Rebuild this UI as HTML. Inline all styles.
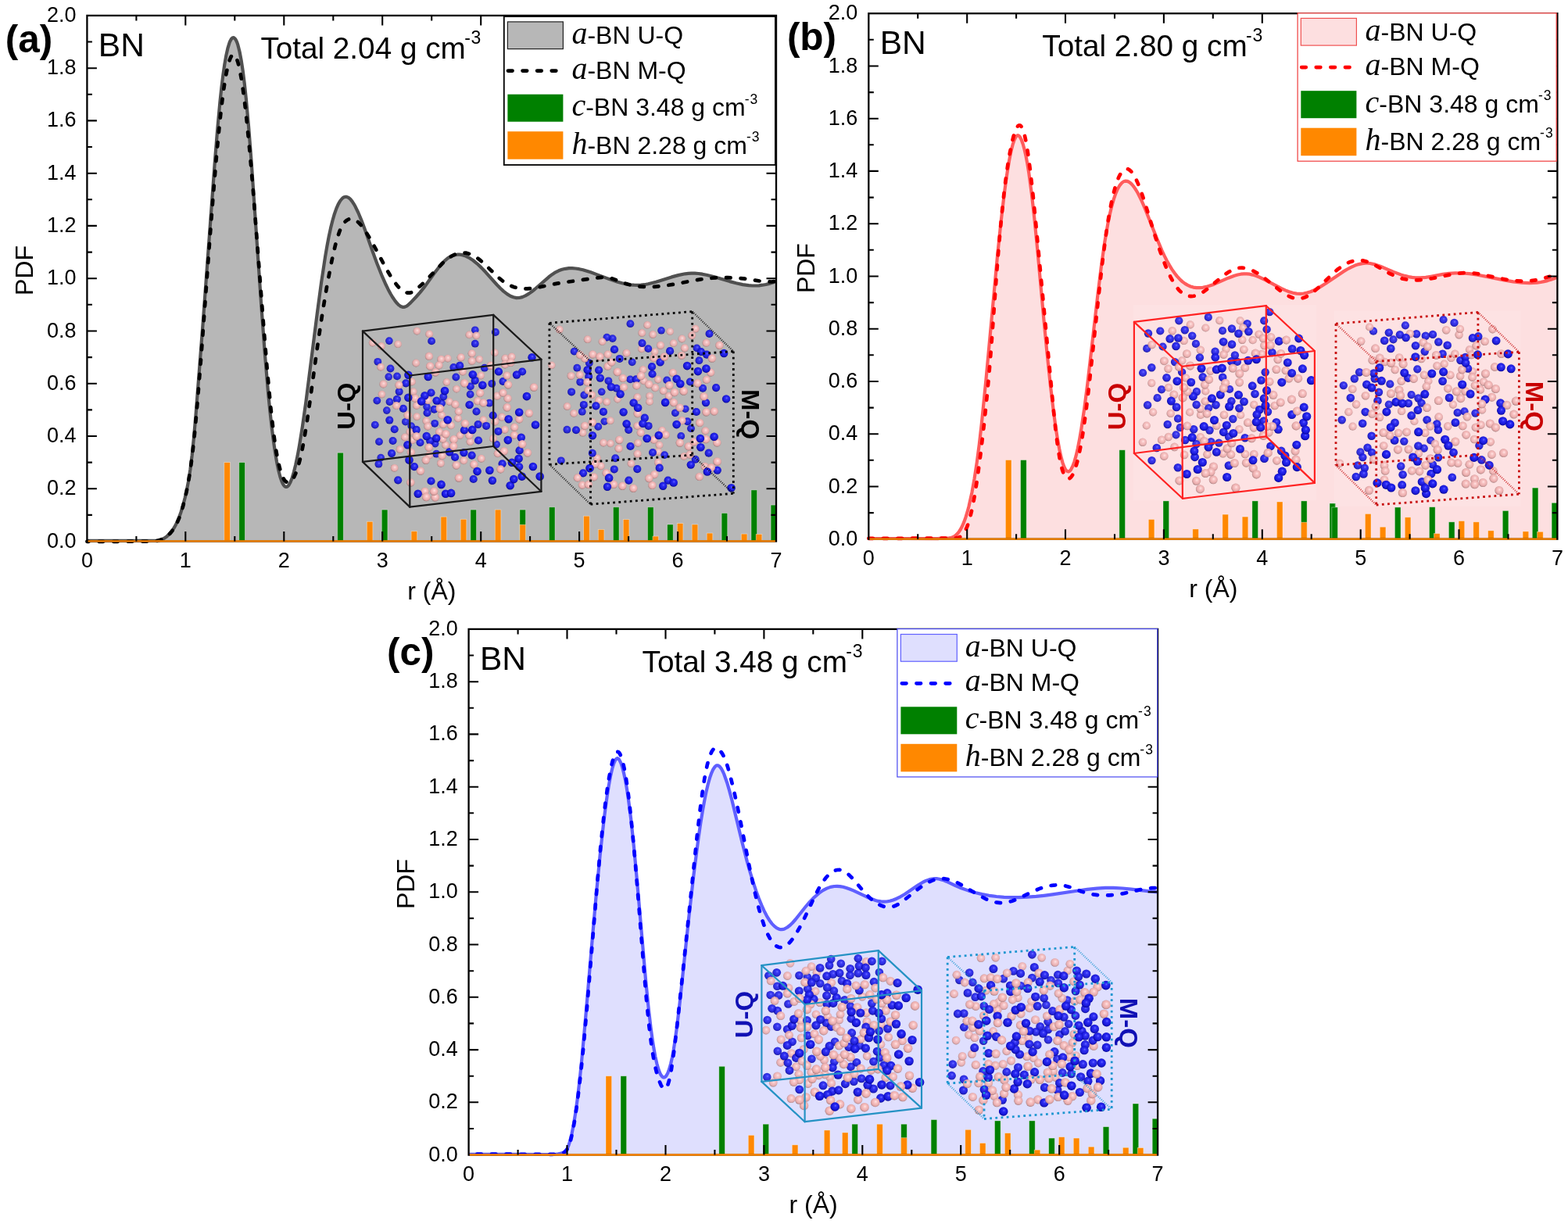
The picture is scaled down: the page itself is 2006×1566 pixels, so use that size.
<!DOCTYPE html>
<html><head><meta charset="utf-8"><title>BN PDF</title>
<style>html,body{margin:0;padding:0;background:#fff;} svg{display:block;}</style>
</head><body>
<svg xmlns="http://www.w3.org/2000/svg" width="2006" height="1566" viewBox="0 0 2006 1566">
<defs>
<radialGradient id="gN" cx="0.52" cy="0.45" r="0.58" fx="0.56" fy="0.38"><stop offset="0" stop-color="#6a6aff"/><stop offset="0.25" stop-color="#2a2af6"/><stop offset="0.72" stop-color="#1414d4"/><stop offset="1" stop-color="#000080"/></radialGradient>
<radialGradient id="gB" cx="0.52" cy="0.46" r="0.56" fx="0.56" fy="0.4"><stop offset="0" stop-color="#ffe6e6"/><stop offset="0.3" stop-color="#f9c4c4"/><stop offset="0.7" stop-color="#eaacac"/><stop offset="0.88" stop-color="#c89494"/><stop offset="1" stop-color="#8c6262"/></radialGradient>
</defs>
<rect width="2006" height="1566" fill="#ffffff"/>
<path d="M111.4,691.8 L150.0,691.8 L185.0,691.9 L201.5,691.9 L205.5,690.8 L209.5,689.0 L213.3,686.4 L216.9,683.1 L220.2,679.1 L223.2,674.5 L226.1,669.0 L228.9,662.5 L231.5,655.2 L234.1,646.7 L236.7,636.7 L239.0,626.5 L241.0,616.1 L243.4,600.7 L245.7,582.3 L248.0,559.7 L250.5,531.2 L259.9,410.2 L274.7,208.9 L278.2,165.6 L281.4,130.8 L283.4,111.9 L285.4,95.7 L287.4,81.9 L289.4,70.6 L291.4,61.7 L293.5,54.8 L294.5,52.4 L295.6,50.4 L296.6,49.1 L297.7,48.3 L298.9,48.2 L300.0,48.8 L301.1,50.0 L302.2,51.9 L303.3,54.4 L304.4,57.7 L306.5,66.0 L308.6,76.9 L310.7,90.6 L312.8,107.3 L314.8,125.9 L318.1,162.2 L321.8,209.7 L334.2,389.3 L338.8,451.8 L343.2,503.8 L345.4,526.1 L347.6,546.0 L349.7,562.8 L351.9,578.1 L354.1,591.1 L356.3,601.8 L358.5,610.3 L360.7,616.5 L361.8,618.9 L362.9,620.7 L364.0,622.0 L365.1,622.7 L366.1,622.9 L367.2,622.7 L368.2,622.0 L369.3,620.9 L371.5,617.0 L373.7,611.4 L375.9,604.1 L378.2,594.8 L380.6,583.3 L383.0,570.2 L386.9,545.9 L391.3,514.8 L405.7,401.6 L411.0,362.0 L416.1,328.2 L418.4,314.8 L420.7,302.7 L423.1,291.6 L425.5,282.0 L427.9,273.7 L430.3,266.9 L432.7,261.4 L435.2,257.0 L437.7,254.0 L439.0,252.9 L440.3,252.2 L441.9,251.8 L443.6,251.9 L445.3,252.6 L447.1,253.8 L448.9,255.6 L450.7,257.9 L452.6,260.8 L454.6,264.3 L458.3,272.0 L462.3,281.6 L466.5,292.8 L476.7,321.7 L482.3,336.9 L488.2,351.8 L493.7,364.3 L496.7,370.4 L499.7,376.0 L502.6,380.8 L505.4,384.9 L508.0,388.1 L510.4,390.4 L512.7,392.0 L514.9,392.8 L516.4,392.9 L518.0,392.6 L519.7,391.9 L521.5,390.7 L525.2,387.4 L532.2,380.0 L537.4,374.1 L542.0,368.4 L556.0,349.1 L560.7,342.9 L564.9,337.9 L568.7,333.9 L572.8,330.4 L576.7,328.0 L580.8,326.4 L585.0,325.7 L587.4,325.7 L589.8,325.9 L592.2,326.4 L594.7,327.2 L599.8,329.6 L605.1,333.0 L610.4,337.3 L616.0,342.6 L621.4,348.3 L635.9,364.5 L640.3,369.0 L644.2,372.6 L648.7,376.1 L652.9,378.7 L656.9,380.3 L660.7,381.1 L664.3,381.0 L668.1,380.1 L672.1,378.4 L676.4,375.9 L680.1,373.3 L684.2,370.0 L702.2,354.3 L706.7,350.9 L710.7,348.3 L714.8,346.3 L719.0,344.8 L723.3,343.8 L727.8,343.2 L732.0,343.2 L736.3,343.5 L740.9,344.2 L745.8,345.3 L755.7,348.3 L779.5,357.1 L790.2,360.7 L795.9,362.2 L801.2,363.4 L806.3,364.3 L811.1,364.7 L815.6,364.9 L819.9,364.7 L824.5,364.2 L829.3,363.3 L839.3,360.8 L859.3,354.4 L867.7,352.1 L876.5,350.3 L880.5,349.9 L884.4,349.6 L888.9,349.7 L893.6,350.0 L898.5,350.7 L903.7,351.7 L914.0,354.2 L933.7,360.1 L941.8,362.3 L950.2,364.1 L957.8,365.2 L962.2,365.5 L966.6,365.5 L971.0,365.3 L975.4,364.7 L979.8,364.0 L984.2,362.9 L988.6,361.6 L993.0,360.0 L993.0,692.5 L111.4,692.5 Z" fill="#b7b7b7"/>
<rect x="305.8" y="591.6" width="7.6" height="100.9" fill="#008000" stroke="#ffffff" stroke-opacity="0.45" stroke-width="0.8"/>
<rect x="431.7" y="579.2" width="7.6" height="113.3" fill="#008000" stroke="#ffffff" stroke-opacity="0.45" stroke-width="0.8"/>
<rect x="488.3" y="652.1" width="7.6" height="40.4" fill="#008000" stroke="#ffffff" stroke-opacity="0.45" stroke-width="0.8"/>
<rect x="601.9" y="652.1" width="7.6" height="40.4" fill="#008000" stroke="#ffffff" stroke-opacity="0.45" stroke-width="0.8"/>
<rect x="664.9" y="652.1" width="7.6" height="40.4" fill="#008000" stroke="#ffffff" stroke-opacity="0.45" stroke-width="0.8"/>
<rect x="702.4" y="648.8" width="7.6" height="43.7" fill="#008000" stroke="#ffffff" stroke-opacity="0.45" stroke-width="0.8"/>
<rect x="784.4" y="648.8" width="7.6" height="43.7" fill="#008000" stroke="#ffffff" stroke-opacity="0.45" stroke-width="0.8"/>
<rect x="828.5" y="648.8" width="7.6" height="43.7" fill="#008000" stroke="#ffffff" stroke-opacity="0.45" stroke-width="0.8"/>
<rect x="853.6" y="671.0" width="7.6" height="21.5" fill="#008000" stroke="#ffffff" stroke-opacity="0.45" stroke-width="0.8"/>
<rect x="923.1" y="656.5" width="7.6" height="36.0" fill="#008000" stroke="#ffffff" stroke-opacity="0.45" stroke-width="0.8"/>
<rect x="961.0" y="626.9" width="7.6" height="65.6" fill="#008000" stroke="#ffffff" stroke-opacity="0.45" stroke-width="0.8"/>
<rect x="986.1" y="646.1" width="7.6" height="46.4" fill="#008000" stroke="#ffffff" stroke-opacity="0.45" stroke-width="0.8"/>
<rect x="286.8" y="591.6" width="7.6" height="100.9" fill="#ff8800" stroke="#ffffff" stroke-opacity="0.45" stroke-width="0.8"/>
<rect x="469.3" y="667.3" width="7.6" height="25.2" fill="#ff8800" stroke="#ffffff" stroke-opacity="0.45" stroke-width="0.8"/>
<rect x="526.1" y="679.7" width="7.6" height="12.8" fill="#ff8800" stroke="#ffffff" stroke-opacity="0.45" stroke-width="0.8"/>
<rect x="564.0" y="661.2" width="7.6" height="31.3" fill="#ff8800" stroke="#ffffff" stroke-opacity="0.45" stroke-width="0.8"/>
<rect x="589.2" y="664.3" width="7.6" height="28.2" fill="#ff8800" stroke="#ffffff" stroke-opacity="0.45" stroke-width="0.8"/>
<rect x="633.3" y="652.1" width="7.6" height="40.4" fill="#ff8800" stroke="#ffffff" stroke-opacity="0.45" stroke-width="0.8"/>
<rect x="664.9" y="671.3" width="7.6" height="21.2" fill="#ff8800" stroke="#ffffff" stroke-opacity="0.45" stroke-width="0.8"/>
<rect x="746.6" y="660.2" width="7.6" height="32.3" fill="#ff8800" stroke="#ffffff" stroke-opacity="0.45" stroke-width="0.8"/>
<rect x="765.3" y="677.4" width="7.6" height="15.1" fill="#ff8800" stroke="#ffffff" stroke-opacity="0.45" stroke-width="0.8"/>
<rect x="797.3" y="664.6" width="7.6" height="27.9" fill="#ff8800" stroke="#ffffff" stroke-opacity="0.45" stroke-width="0.8"/>
<rect x="835.0" y="686.1" width="7.6" height="6.4" fill="#ff8800" stroke="#ffffff" stroke-opacity="0.45" stroke-width="0.8"/>
<rect x="866.3" y="669.6" width="7.6" height="22.9" fill="#ff8800" stroke="#ffffff" stroke-opacity="0.45" stroke-width="0.8"/>
<rect x="885.2" y="671.0" width="7.6" height="21.5" fill="#ff8800" stroke="#ffffff" stroke-opacity="0.45" stroke-width="0.8"/>
<rect x="904.2" y="682.1" width="7.6" height="10.4" fill="#ff8800" stroke="#ffffff" stroke-opacity="0.45" stroke-width="0.8"/>
<rect x="948.3" y="683.1" width="7.6" height="9.4" fill="#ff8800" stroke="#ffffff" stroke-opacity="0.45" stroke-width="0.8"/>
<rect x="967.2" y="683.4" width="7.6" height="9.1" fill="#ff8800" stroke="#ffffff" stroke-opacity="0.45" stroke-width="0.8"/>
<circle cx="556.7" cy="567.6" r="4.8" fill="url(#gN)" opacity="0.88"/>
<circle cx="487.2" cy="585.6" r="4.8" fill="url(#gN)" opacity="0.88"/>
<circle cx="497.2" cy="482.1" r="4.8" fill="url(#gN)" opacity="0.88"/>
<circle cx="528.8" cy="501.1" r="4.8" fill="url(#gB)" opacity="0.88"/>
<circle cx="613.2" cy="459.7" r="4.8" fill="url(#gB)" opacity="0.88"/>
<circle cx="526.2" cy="545.1" r="4.8" fill="url(#gN)" opacity="0.88"/>
<circle cx="509.1" cy="440.3" r="4.8" fill="url(#gB)" opacity="0.88"/>
<circle cx="574.9" cy="513.9" r="4.8" fill="url(#gB)" opacity="0.88"/>
<circle cx="518.8" cy="539.7" r="4.8" fill="url(#gN)" opacity="0.88"/>
<circle cx="494.8" cy="525.1" r="4.8" fill="url(#gN)" opacity="0.88"/>
<circle cx="588.5" cy="557.1" r="4.8" fill="url(#gB)" opacity="0.89"/>
<circle cx="571.4" cy="488.9" r="4.8" fill="url(#gB)" opacity="0.89"/>
<circle cx="497.9" cy="436.1" r="4.8" fill="url(#gN)" opacity="0.89"/>
<circle cx="584.0" cy="497.7" r="4.8" fill="url(#gB)" opacity="0.89"/>
<circle cx="476.6" cy="438.6" r="4.8" fill="url(#gB)" opacity="0.89"/>
<circle cx="533.4" cy="423.6" r="4.8" fill="url(#gB)" opacity="0.89"/>
<circle cx="615.2" cy="480.5" r="4.8" fill="url(#gB)" opacity="0.89"/>
<circle cx="635.2" cy="568.6" r="4.8" fill="url(#gN)" opacity="0.89"/>
<circle cx="488.5" cy="504.5" r="4.8" fill="url(#gB)" opacity="0.89"/>
<circle cx="607.8" cy="422.2" r="4.8" fill="url(#gN)" opacity="0.89"/>
<circle cx="546.0" cy="520.6" r="4.8" fill="url(#gN)" opacity="0.89"/>
<circle cx="572.8" cy="458.6" r="4.9" fill="url(#gB)" opacity="0.89"/>
<circle cx="532.2" cy="464.5" r="4.9" fill="url(#gB)" opacity="0.89"/>
<circle cx="626.1" cy="515.7" r="4.9" fill="url(#gN)" opacity="0.89"/>
<circle cx="508.0" cy="481.4" r="4.9" fill="url(#gN)" opacity="0.90"/>
<circle cx="565.0" cy="515.9" r="4.9" fill="url(#gN)" opacity="0.90"/>
<circle cx="498.5" cy="514.1" r="4.9" fill="url(#gN)" opacity="0.90"/>
<circle cx="558.3" cy="580.7" r="4.9" fill="url(#gN)" opacity="0.90"/>
<circle cx="601.6" cy="504.5" r="4.9" fill="url(#gN)" opacity="0.90"/>
<circle cx="545.3" cy="538.6" r="4.9" fill="url(#gB)" opacity="0.90"/>
<circle cx="524.4" cy="552.6" r="4.9" fill="url(#gB)" opacity="0.90"/>
<circle cx="632.8" cy="451.2" r="4.9" fill="url(#gB)" opacity="0.90"/>
<circle cx="586.0" cy="535.4" r="4.9" fill="url(#gB)" opacity="0.90"/>
<circle cx="600.4" cy="428.4" r="4.9" fill="url(#gB)" opacity="0.90"/>
<circle cx="483.3" cy="462.8" r="4.9" fill="url(#gN)" opacity="0.90"/>
<circle cx="533.0" cy="518.9" r="4.9" fill="url(#gB)" opacity="0.90"/>
<circle cx="570.0" cy="569.3" r="4.9" fill="url(#gB)" opacity="0.90"/>
<circle cx="618.3" cy="537.1" r="4.9" fill="url(#gB)" opacity="0.90"/>
<circle cx="567.3" cy="507.5" r="4.9" fill="url(#gN)" opacity="0.90"/>
<circle cx="619.9" cy="470.7" r="4.9" fill="url(#gN)" opacity="0.90"/>
<circle cx="484.4" cy="593.7" r="4.9" fill="url(#gN)" opacity="0.90"/>
<circle cx="601.9" cy="494.4" r="4.9" fill="url(#gN)" opacity="0.91"/>
<circle cx="487.7" cy="443.0" r="4.9" fill="url(#gB)" opacity="0.91"/>
<circle cx="517.9" cy="559.4" r="4.9" fill="url(#gB)" opacity="0.91"/>
<circle cx="549.2" cy="427.4" r="4.9" fill="url(#gB)" opacity="0.91"/>
<circle cx="583.3" cy="482.5" r="4.9" fill="url(#gN)" opacity="0.91"/>
<circle cx="607.8" cy="439.7" r="4.9" fill="url(#gN)" opacity="0.91"/>
<circle cx="630.9" cy="561.2" r="4.9" fill="url(#gB)" opacity="0.91"/>
<circle cx="609.3" cy="429.4" r="4.9" fill="url(#gB)" opacity="0.91"/>
<circle cx="479.8" cy="543.6" r="4.9" fill="url(#gN)" opacity="0.91"/>
<circle cx="556.2" cy="541.8" r="4.9" fill="url(#gN)" opacity="0.91"/>
<circle cx="485.0" cy="565.1" r="4.9" fill="url(#gN)" opacity="0.91"/>
<circle cx="552.1" cy="436.4" r="4.9" fill="url(#gN)" opacity="0.91"/>
<circle cx="527.3" cy="563.2" r="4.9" fill="url(#gB)" opacity="0.91"/>
<circle cx="533.2" cy="533.1" r="4.9" fill="url(#gB)" opacity="0.91"/>
<circle cx="646.3" cy="458.5" r="4.9" fill="url(#gB)" opacity="0.91"/>
<circle cx="580.3" cy="470.0" r="4.9" fill="url(#gN)" opacity="0.91"/>
<circle cx="629.3" cy="490.8" r="4.9" fill="url(#gN)" opacity="0.91"/>
<circle cx="504.6" cy="598.8" r="4.9" fill="url(#gB)" opacity="0.91"/>
<circle cx="601.5" cy="565.2" r="4.9" fill="url(#gB)" opacity="0.91"/>
<circle cx="482.3" cy="512.6" r="4.9" fill="url(#gN)" opacity="0.91"/>
<circle cx="499.5" cy="471.5" r="4.9" fill="url(#gN)" opacity="0.91"/>
<circle cx="563.9" cy="592.8" r="4.9" fill="url(#gB)" opacity="0.91"/>
<circle cx="487.1" cy="469.6" r="4.9" fill="url(#gB)" opacity="0.91"/>
<circle cx="566.5" cy="561.8" r="4.9" fill="url(#gB)" opacity="0.92"/>
<circle cx="643.4" cy="488.0" r="4.9" fill="url(#gN)" opacity="0.92"/>
<circle cx="511.8" cy="574.9" r="5.0" fill="url(#gB)" opacity="0.92"/>
<circle cx="537.5" cy="566.3" r="5.0" fill="url(#gN)" opacity="0.92"/>
<circle cx="633.9" cy="425.0" r="5.0" fill="url(#gN)" opacity="0.92"/>
<circle cx="642.1" cy="533.6" r="5.0" fill="url(#gB)" opacity="0.92"/>
<circle cx="510.7" cy="501.1" r="5.0" fill="url(#gN)" opacity="0.92"/>
<circle cx="577.0" cy="544.3" r="5.0" fill="url(#gB)" opacity="0.92"/>
<circle cx="549.0" cy="582.5" r="5.0" fill="url(#gB)" opacity="0.92"/>
<circle cx="645.7" cy="549.7" r="5.0" fill="url(#gB)" opacity="0.92"/>
<circle cx="502.6" cy="564.0" r="5.0" fill="url(#gN)" opacity="0.92"/>
<circle cx="593.2" cy="589.3" r="5.0" fill="url(#gB)" opacity="0.92"/>
<circle cx="565.1" cy="531.3" r="5.0" fill="url(#gB)" opacity="0.92"/>
<circle cx="547.3" cy="512.3" r="5.0" fill="url(#gB)" opacity="0.92"/>
<circle cx="546.5" cy="528.2" r="5.0" fill="url(#gN)" opacity="0.92"/>
<circle cx="603.6" cy="452.2" r="5.0" fill="url(#gB)" opacity="0.93"/>
<circle cx="515.9" cy="522.8" r="5.0" fill="url(#gN)" opacity="0.93"/>
<circle cx="555.5" cy="523.8" r="5.0" fill="url(#gN)" opacity="0.93"/>
<circle cx="504.7" cy="549.2" r="5.0" fill="url(#gN)" opacity="0.93"/>
<circle cx="547.3" cy="545.5" r="5.0" fill="url(#gB)" opacity="0.93"/>
<circle cx="567.0" cy="543.0" r="5.0" fill="url(#gB)" opacity="0.93"/>
<circle cx="603.7" cy="461.9" r="5.0" fill="url(#gB)" opacity="0.93"/>
<circle cx="592.0" cy="475.5" r="5.0" fill="url(#gB)" opacity="0.93"/>
<circle cx="564.3" cy="459.7" r="5.0" fill="url(#gB)" opacity="0.93"/>
<circle cx="646.0" cy="466.4" r="5.0" fill="url(#gB)" opacity="0.93"/>
<circle cx="637.4" cy="551.9" r="5.0" fill="url(#gN)" opacity="0.93"/>
<circle cx="615.7" cy="586.7" r="5.0" fill="url(#gB)" opacity="0.93"/>
<circle cx="586.7" cy="526.5" r="5.0" fill="url(#gB)" opacity="0.93"/>
<circle cx="490.4" cy="491.5" r="5.0" fill="url(#gB)" opacity="0.93"/>
<circle cx="622.1" cy="544.9" r="5.0" fill="url(#gN)" opacity="0.93"/>
<circle cx="609.5" cy="526.5" r="5.0" fill="url(#gN)" opacity="0.93"/>
<circle cx="648.5" cy="480.6" r="5.0" fill="url(#gB)" opacity="0.93"/>
<circle cx="611.6" cy="543.1" r="5.0" fill="url(#gN)" opacity="0.93"/>
<circle cx="562.0" cy="552.6" r="5.0" fill="url(#gB)" opacity="0.93"/>
<circle cx="507.9" cy="510.7" r="5.0" fill="url(#gN)" opacity="0.93"/>
<circle cx="498.3" cy="537.6" r="5.0" fill="url(#gN)" opacity="0.94"/>
<circle cx="636.8" cy="580.2" r="5.0" fill="url(#gB)" opacity="0.94"/>
<circle cx="654.6" cy="456.5" r="5.0" fill="url(#gB)" opacity="0.94"/>
<circle cx="526.8" cy="488.5" r="5.0" fill="url(#gB)" opacity="0.94"/>
<circle cx="633.2" cy="539.4" r="5.1" fill="url(#gB)" opacity="0.94"/>
<circle cx="600.3" cy="557.0" r="5.1" fill="url(#gB)" opacity="0.94"/>
<circle cx="532.7" cy="549.9" r="5.1" fill="url(#gN)" opacity="0.94"/>
<circle cx="501.1" cy="580.1" r="5.1" fill="url(#gN)" opacity="0.94"/>
<circle cx="550.2" cy="564.1" r="5.1" fill="url(#gN)" opacity="0.94"/>
<circle cx="509.2" cy="614.3" r="5.1" fill="url(#gN)" opacity="0.94"/>
<circle cx="657.9" cy="556.7" r="5.1" fill="url(#gB)" opacity="0.94"/>
<circle cx="531.0" cy="509.6" r="5.1" fill="url(#gB)" opacity="0.95"/>
<circle cx="635.9" cy="506.7" r="5.1" fill="url(#gB)" opacity="0.95"/>
<circle cx="507.2" cy="519.0" r="5.1" fill="url(#gB)" opacity="0.95"/>
<circle cx="519.3" cy="490.3" r="5.1" fill="url(#gN)" opacity="0.95"/>
<circle cx="612.0" cy="563.5" r="5.1" fill="url(#gN)" opacity="0.95"/>
<circle cx="582.4" cy="517.4" r="5.1" fill="url(#gB)" opacity="0.95"/>
<circle cx="664.3" cy="536.3" r="5.1" fill="url(#gB)" opacity="0.95"/>
<circle cx="551.5" cy="502.5" r="5.1" fill="url(#gN)" opacity="0.95"/>
<circle cx="658.1" cy="546.7" r="5.1" fill="url(#gB)" opacity="0.95"/>
<circle cx="649.6" cy="509.9" r="5.1" fill="url(#gB)" opacity="0.95"/>
<circle cx="605.7" cy="613.0" r="5.1" fill="url(#gN)" opacity="0.95"/>
<circle cx="668.1" cy="475.5" r="5.1" fill="url(#gN)" opacity="0.95"/>
<circle cx="589.7" cy="457.3" r="5.1" fill="url(#gB)" opacity="0.95"/>
<circle cx="565.5" cy="583.1" r="5.1" fill="url(#gB)" opacity="0.95"/>
<circle cx="630.7" cy="531.5" r="5.1" fill="url(#gN)" opacity="0.95"/>
<circle cx="588.2" cy="467.9" r="5.1" fill="url(#gN)" opacity="0.95"/>
<circle cx="603.6" cy="582.6" r="5.1" fill="url(#gN)" opacity="0.96"/>
<circle cx="593.9" cy="550.3" r="5.1" fill="url(#gN)" opacity="0.96"/>
<circle cx="582.1" cy="585.0" r="5.1" fill="url(#gN)" opacity="0.96"/>
<circle cx="548.9" cy="455.9" r="5.1" fill="url(#gB)" opacity="0.96"/>
<circle cx="561.5" cy="467.3" r="5.1" fill="url(#gB)" opacity="0.96"/>
<circle cx="551.5" cy="615.5" r="5.1" fill="url(#gN)" opacity="0.96"/>
<circle cx="642.6" cy="593.3" r="5.1" fill="url(#gN)" opacity="0.96"/>
<circle cx="640.4" cy="600.3" r="5.1" fill="url(#gB)" opacity="0.96"/>
<circle cx="664.6" cy="576.4" r="5.1" fill="url(#gN)" opacity="0.96"/>
<circle cx="510.4" cy="492.6" r="5.1" fill="url(#gB)" opacity="0.96"/>
<circle cx="610.9" cy="513.1" r="5.1" fill="url(#gB)" opacity="0.96"/>
<circle cx="530.0" cy="597.1" r="5.1" fill="url(#gN)" opacity="0.96"/>
<circle cx="643.4" cy="502.6" r="5.1" fill="url(#gB)" opacity="0.96"/>
<circle cx="607.7" cy="486.9" r="5.1" fill="url(#gN)" opacity="0.96"/>
<circle cx="544.8" cy="588.7" r="5.2" fill="url(#gB)" opacity="0.96"/>
<circle cx="666.8" cy="559.8" r="5.2" fill="url(#gN)" opacity="0.97"/>
<circle cx="664.1" cy="597.1" r="5.2" fill="url(#gN)" opacity="0.97"/>
<circle cx="606.3" cy="594.2" r="5.2" fill="url(#gB)" opacity="0.97"/>
<circle cx="583.8" cy="595.3" r="5.2" fill="url(#gB)" opacity="0.97"/>
<circle cx="557.1" cy="476.2" r="5.2" fill="url(#gB)" opacity="0.97"/>
<circle cx="600.6" cy="517.9" r="5.2" fill="url(#gN)" opacity="0.97"/>
<circle cx="543.4" cy="506.2" r="5.2" fill="url(#gN)" opacity="0.97"/>
<circle cx="521.4" cy="569.3" r="5.2" fill="url(#gN)" opacity="0.97"/>
<circle cx="594.9" cy="541.9" r="5.2" fill="url(#gB)" opacity="0.97"/>
<circle cx="575.1" cy="578.2" r="5.2" fill="url(#gN)" opacity="0.97"/>
<circle cx="525.4" cy="617.2" r="5.2" fill="url(#gB)" opacity="0.97"/>
<circle cx="543.5" cy="628.7" r="5.2" fill="url(#gB)" opacity="0.97"/>
<circle cx="629.9" cy="614.7" r="5.2" fill="url(#gN)" opacity="0.97"/>
<circle cx="522.3" cy="508.8" r="5.2" fill="url(#gN)" opacity="0.97"/>
<circle cx="550.2" cy="468.4" r="5.2" fill="url(#gB)" opacity="0.97"/>
<circle cx="538.0" cy="602.5" r="5.2" fill="url(#gB)" opacity="0.97"/>
<circle cx="545.7" cy="558.0" r="5.2" fill="url(#gN)" opacity="0.97"/>
<circle cx="674.9" cy="579.3" r="5.2" fill="url(#gB)" opacity="0.97"/>
<circle cx="650.1" cy="492.2" r="5.2" fill="url(#gB)" opacity="0.98"/>
<circle cx="548.7" cy="572.4" r="5.2" fill="url(#gB)" opacity="0.98"/>
<circle cx="558.2" cy="560.7" r="5.2" fill="url(#gN)" opacity="0.98"/>
<circle cx="637.9" cy="475.4" r="5.2" fill="url(#gN)" opacity="0.98"/>
<circle cx="618.4" cy="515.4" r="5.2" fill="url(#gB)" opacity="0.98"/>
<circle cx="534.7" cy="631.7" r="5.2" fill="url(#gN)" opacity="0.98"/>
<circle cx="558.6" cy="512.6" r="5.2" fill="url(#gN)" opacity="0.98"/>
<circle cx="653.4" cy="463.9" r="5.2" fill="url(#gB)" opacity="0.98"/>
<circle cx="680.5" cy="457.3" r="5.2" fill="url(#gN)" opacity="0.98"/>
<circle cx="587.0" cy="611.5" r="5.2" fill="url(#gB)" opacity="0.98"/>
<circle cx="627.8" cy="467.8" r="5.2" fill="url(#gB)" opacity="0.98"/>
<circle cx="676.9" cy="528.6" r="5.2" fill="url(#gB)" opacity="0.98"/>
<circle cx="614.2" cy="502.9" r="5.2" fill="url(#gB)" opacity="0.98"/>
<circle cx="683.0" cy="495.5" r="5.2" fill="url(#gB)" opacity="0.98"/>
<circle cx="525.9" cy="578.6" r="5.2" fill="url(#gB)" opacity="0.98"/>
<circle cx="547.7" cy="482.0" r="5.2" fill="url(#gN)" opacity="0.98"/>
<circle cx="532.8" cy="558.2" r="5.2" fill="url(#gB)" opacity="0.98"/>
<circle cx="648.7" cy="521.3" r="5.2" fill="url(#gB)" opacity="0.98"/>
<circle cx="661.0" cy="479.5" r="5.2" fill="url(#gN)" opacity="0.98"/>
<circle cx="593.4" cy="579.1" r="5.2" fill="url(#gN)" opacity="0.98"/>
<circle cx="522.4" cy="479.8" r="5.2" fill="url(#gN)" opacity="0.98"/>
<circle cx="644.8" cy="577.3" r="5.2" fill="url(#gB)" opacity="0.99"/>
<circle cx="650.6" cy="536.2" r="5.2" fill="url(#gN)" opacity="0.99"/>
<circle cx="667.7" cy="609.6" r="5.3" fill="url(#gN)" opacity="0.99"/>
<circle cx="556.7" cy="636.2" r="5.3" fill="url(#gB)" opacity="0.99"/>
<circle cx="580.5" cy="562.2" r="5.3" fill="url(#gB)" opacity="0.99"/>
<circle cx="545.3" cy="635.9" r="5.3" fill="url(#gB)" opacity="0.99"/>
<circle cx="654.9" cy="591.7" r="5.3" fill="url(#gN)" opacity="0.99"/>
<circle cx="668.1" cy="568.2" r="5.3" fill="url(#gB)" opacity="0.99"/>
<circle cx="649.8" cy="563.1" r="5.3" fill="url(#gN)" opacity="0.99"/>
<circle cx="523.5" cy="588.6" r="5.3" fill="url(#gN)" opacity="0.99"/>
<circle cx="685.0" cy="543.5" r="5.3" fill="url(#gN)" opacity="0.99"/>
<circle cx="652.7" cy="621.3" r="5.3" fill="url(#gN)" opacity="0.99"/>
<circle cx="521.8" cy="531.3" r="5.3" fill="url(#gB)" opacity="0.99"/>
<circle cx="564.5" cy="619.9" r="5.3" fill="url(#gN)" opacity="0.99"/>
<circle cx="626.4" cy="601.8" r="5.3" fill="url(#gN)" opacity="0.99"/>
<circle cx="604.8" cy="479.3" r="5.3" fill="url(#gN)" opacity="0.99"/>
<circle cx="572.7" cy="537.3" r="5.3" fill="url(#gN)" opacity="0.99"/>
<circle cx="617.3" cy="492.7" r="5.3" fill="url(#gN)" opacity="0.99"/>
<circle cx="562.7" cy="522.6" r="5.3" fill="url(#gB)" opacity="0.99"/>
<circle cx="570.1" cy="631.8" r="5.3" fill="url(#gN)" opacity="1.00"/>
<circle cx="604.2" cy="549.9" r="5.3" fill="url(#gN)" opacity="1.00"/>
<circle cx="594.1" cy="490.3" r="5.3" fill="url(#gB)" opacity="1.00"/>
<circle cx="577.1" cy="630.9" r="5.3" fill="url(#gN)" opacity="1.00"/>
<circle cx="569.0" cy="500.1" r="5.3" fill="url(#gN)" opacity="1.00"/>
<circle cx="663.6" cy="586.7" r="5.3" fill="url(#gN)" opacity="1.00"/>
<circle cx="555.1" cy="628.6" r="5.3" fill="url(#gB)" opacity="1.00"/>
<circle cx="664.2" cy="527.5" r="5.3" fill="url(#gN)" opacity="1.00"/>
<circle cx="657.3" cy="613.1" r="5.3" fill="url(#gN)" opacity="1.00"/>
<circle cx="681.9" cy="597.0" r="5.3" fill="url(#gN)" opacity="1.00"/>
<circle cx="570.3" cy="555.3" r="5.3" fill="url(#gB)" opacity="1.00"/>
<circle cx="673.9" cy="507.1" r="5.3" fill="url(#gN)" opacity="1.00"/>
<circle cx="539.2" cy="513.4" r="5.3" fill="url(#gN)" opacity="1.00"/>
<circle cx="610.5" cy="603.1" r="5.3" fill="url(#gN)" opacity="1.00"/>
<circle cx="580.1" cy="571.1" r="5.3" fill="url(#gB)" opacity="1.00"/>
<circle cx="690.7" cy="609.6" r="5.3" fill="url(#gN)" opacity="1.00"/>
<line x1="464.0" y1="423.6" x2="631.2" y2="402.9" stroke="#1a1a1a" stroke-width="2.2" stroke-linecap="round"/>
<line x1="464.0" y1="590.9" x2="631.2" y2="571.0" stroke="#1a1a1a" stroke-width="2.2" stroke-linecap="round"/>
<line x1="524.3" y1="480.5" x2="692.4" y2="459.8" stroke="#1a1a1a" stroke-width="2.2" stroke-linecap="round"/>
<line x1="524.3" y1="648.6" x2="692.4" y2="628.8" stroke="#1a1a1a" stroke-width="2.2" stroke-linecap="round"/>
<line x1="464.0" y1="423.6" x2="464.0" y2="590.9" stroke="#1a1a1a" stroke-width="2.2" stroke-linecap="round"/>
<line x1="631.2" y1="402.9" x2="631.2" y2="571.0" stroke="#1a1a1a" stroke-width="2.2" stroke-linecap="round"/>
<line x1="524.3" y1="480.5" x2="524.3" y2="648.6" stroke="#1a1a1a" stroke-width="2.2" stroke-linecap="round"/>
<line x1="692.4" y1="459.8" x2="692.4" y2="628.8" stroke="#1a1a1a" stroke-width="2.2" stroke-linecap="round"/>
<line x1="464.0" y1="423.6" x2="524.3" y2="480.5" stroke="#1a1a1a" stroke-width="2.2" stroke-linecap="round"/>
<line x1="631.2" y1="402.9" x2="692.4" y2="459.8" stroke="#1a1a1a" stroke-width="2.2" stroke-linecap="round"/>
<line x1="464.0" y1="590.9" x2="524.3" y2="648.6" stroke="#1a1a1a" stroke-width="2.2" stroke-linecap="round"/>
<line x1="631.2" y1="571.0" x2="692.4" y2="628.8" stroke="#1a1a1a" stroke-width="2.2" stroke-linecap="round"/>
<text transform="translate(453.7,519.7) rotate(-90) scale(1.08,1)" text-anchor="middle" font-family="Liberation Sans, Arial, sans-serif" font-weight="bold" font-size="30.5" fill="#000000">U-Q</text>
<circle cx="790.0" cy="510.7" r="4.8" fill="url(#gB)" opacity="0.88"/>
<circle cx="705.8" cy="467.3" r="4.8" fill="url(#gB)" opacity="0.88"/>
<circle cx="831.1" cy="506.7" r="4.8" fill="url(#gB)" opacity="0.89"/>
<circle cx="846.0" cy="422.8" r="4.8" fill="url(#gN)" opacity="0.89"/>
<circle cx="841.8" cy="485.6" r="4.8" fill="url(#gB)" opacity="0.89"/>
<circle cx="820.8" cy="446.4" r="4.8" fill="url(#gB)" opacity="0.89"/>
<circle cx="857.2" cy="424.2" r="4.8" fill="url(#gB)" opacity="0.89"/>
<circle cx="769.7" cy="501.3" r="4.8" fill="url(#gN)" opacity="0.89"/>
<circle cx="837.6" cy="450.0" r="4.8" fill="url(#gB)" opacity="0.89"/>
<circle cx="780.9" cy="567.4" r="4.8" fill="url(#gB)" opacity="0.89"/>
<circle cx="773.3" cy="539.2" r="4.8" fill="url(#gN)" opacity="0.89"/>
<circle cx="876.8" cy="523.2" r="4.8" fill="url(#gN)" opacity="0.89"/>
<circle cx="823.6" cy="487.3" r="4.9" fill="url(#gB)" opacity="0.89"/>
<circle cx="835.2" cy="428.0" r="4.9" fill="url(#gB)" opacity="0.89"/>
<circle cx="808.7" cy="463.3" r="4.9" fill="url(#gN)" opacity="0.89"/>
<circle cx="765.3" cy="545.9" r="4.9" fill="url(#gN)" opacity="0.89"/>
<circle cx="725.4" cy="549.7" r="4.9" fill="url(#gN)" opacity="0.89"/>
<circle cx="763.9" cy="586.2" r="4.9" fill="url(#gB)" opacity="0.89"/>
<circle cx="843.5" cy="569.4" r="4.9" fill="url(#gB)" opacity="0.89"/>
<circle cx="884.0" cy="548.2" r="4.9" fill="url(#gN)" opacity="0.90"/>
<circle cx="738.3" cy="470.7" r="4.9" fill="url(#gN)" opacity="0.90"/>
<circle cx="734.1" cy="528.9" r="4.9" fill="url(#gB)" opacity="0.90"/>
<circle cx="783.7" cy="433.1" r="4.9" fill="url(#gN)" opacity="0.90"/>
<circle cx="806.4" cy="414.2" r="4.9" fill="url(#gN)" opacity="0.90"/>
<circle cx="831.0" cy="513.9" r="4.9" fill="url(#gB)" opacity="0.90"/>
<circle cx="776.4" cy="431.6" r="4.9" fill="url(#gN)" opacity="0.90"/>
<circle cx="821.2" cy="426.0" r="4.9" fill="url(#gB)" opacity="0.90"/>
<circle cx="806.3" cy="485.4" r="4.9" fill="url(#gN)" opacity="0.90"/>
<circle cx="816.1" cy="566.8" r="4.9" fill="url(#gB)" opacity="0.90"/>
<circle cx="875.0" cy="583.9" r="4.9" fill="url(#gB)" opacity="0.90"/>
<circle cx="715.8" cy="421.7" r="4.9" fill="url(#gB)" opacity="0.90"/>
<circle cx="872.4" cy="433.5" r="4.9" fill="url(#gB)" opacity="0.90"/>
<circle cx="742.2" cy="488.8" r="4.9" fill="url(#gN)" opacity="0.90"/>
<circle cx="745.6" cy="553.7" r="4.9" fill="url(#gB)" opacity="0.90"/>
<circle cx="747.3" cy="505.5" r="4.9" fill="url(#gN)" opacity="0.90"/>
<circle cx="815.3" cy="544.9" r="4.9" fill="url(#gB)" opacity="0.90"/>
<circle cx="828.2" cy="415.9" r="4.9" fill="url(#gB)" opacity="0.90"/>
<circle cx="853.2" cy="486.4" r="4.9" fill="url(#gN)" opacity="0.90"/>
<circle cx="882.8" cy="488.5" r="4.9" fill="url(#gN)" opacity="0.90"/>
<circle cx="744.8" cy="526.7" r="4.9" fill="url(#gN)" opacity="0.90"/>
<circle cx="889.7" cy="420.7" r="4.9" fill="url(#gB)" opacity="0.91"/>
<circle cx="734.6" cy="449.6" r="4.9" fill="url(#gN)" opacity="0.91"/>
<circle cx="871.3" cy="557.9" r="4.9" fill="url(#gN)" opacity="0.91"/>
<circle cx="776.2" cy="514.2" r="4.9" fill="url(#gB)" opacity="0.91"/>
<circle cx="780.8" cy="538.2" r="4.9" fill="url(#gB)" opacity="0.91"/>
<circle cx="861.7" cy="439.1" r="4.9" fill="url(#gB)" opacity="0.91"/>
<circle cx="822.6" cy="472.9" r="4.9" fill="url(#gB)" opacity="0.91"/>
<circle cx="807.4" cy="593.1" r="4.9" fill="url(#gB)" opacity="0.91"/>
<circle cx="855.7" cy="506.7" r="4.9" fill="url(#gB)" opacity="0.91"/>
<circle cx="753.8" cy="464.5" r="4.9" fill="url(#gN)" opacity="0.91"/>
<circle cx="770.5" cy="437.1" r="4.9" fill="url(#gB)" opacity="0.91"/>
<circle cx="717.8" cy="589.3" r="4.9" fill="url(#gN)" opacity="0.91"/>
<circle cx="842.2" cy="578.1" r="4.9" fill="url(#gB)" opacity="0.91"/>
<circle cx="891.5" cy="445.4" r="4.9" fill="url(#gN)" opacity="0.91"/>
<circle cx="778.4" cy="487.3" r="4.9" fill="url(#gN)" opacity="0.91"/>
<circle cx="829.3" cy="446.1" r="4.9" fill="url(#gN)" opacity="0.91"/>
<circle cx="725.6" cy="520.0" r="4.9" fill="url(#gB)" opacity="0.91"/>
<circle cx="894.4" cy="461.2" r="4.9" fill="url(#gN)" opacity="0.91"/>
<circle cx="850.2" cy="582.1" r="4.9" fill="url(#gN)" opacity="0.91"/>
<circle cx="751.7" cy="434.2" r="4.9" fill="url(#gB)" opacity="0.91"/>
<circle cx="752.3" cy="499.5" r="4.9" fill="url(#gB)" opacity="0.91"/>
<circle cx="847.0" cy="550.6" r="4.9" fill="url(#gB)" opacity="0.91"/>
<circle cx="848.6" cy="500.0" r="4.9" fill="url(#gB)" opacity="0.91"/>
<circle cx="863.9" cy="528.3" r="4.9" fill="url(#gN)" opacity="0.91"/>
<circle cx="757.2" cy="505.3" r="5.0" fill="url(#gB)" opacity="0.92"/>
<circle cx="748.1" cy="458.7" r="5.0" fill="url(#gB)" opacity="0.92"/>
<circle cx="899.1" cy="496.7" r="5.0" fill="url(#gN)" opacity="0.92"/>
<circle cx="889.7" cy="587.8" r="5.0" fill="url(#gN)" opacity="0.92"/>
<circle cx="730.6" cy="480.9" r="5.0" fill="url(#gB)" opacity="0.92"/>
<circle cx="787.3" cy="586.2" r="5.0" fill="url(#gN)" opacity="0.92"/>
<circle cx="902.4" cy="551.3" r="5.0" fill="url(#gB)" opacity="0.92"/>
<circle cx="815.4" cy="508.3" r="5.0" fill="url(#gB)" opacity="0.92"/>
<circle cx="792.7" cy="458.9" r="5.0" fill="url(#gN)" opacity="0.92"/>
<circle cx="842.0" cy="591.6" r="5.0" fill="url(#gB)" opacity="0.92"/>
<circle cx="741.7" cy="479.7" r="5.0" fill="url(#gB)" opacity="0.92"/>
<circle cx="766.1" cy="512.5" r="5.0" fill="url(#gB)" opacity="0.92"/>
<circle cx="772.0" cy="566.5" r="5.0" fill="url(#gB)" opacity="0.92"/>
<circle cx="731.1" cy="501.4" r="5.0" fill="url(#gN)" opacity="0.92"/>
<circle cx="757.8" cy="579.7" r="5.0" fill="url(#gN)" opacity="0.92"/>
<circle cx="835.0" cy="579.0" r="5.0" fill="url(#gN)" opacity="0.93"/>
<circle cx="768.7" cy="596.2" r="5.0" fill="url(#gB)" opacity="0.93"/>
<circle cx="879.5" cy="539.2" r="5.0" fill="url(#gN)" opacity="0.93"/>
<circle cx="821.5" cy="439.1" r="5.0" fill="url(#gN)" opacity="0.93"/>
<circle cx="804.2" cy="550.0" r="5.0" fill="url(#gN)" opacity="0.93"/>
<circle cx="907.5" cy="427.0" r="5.0" fill="url(#gN)" opacity="0.93"/>
<circle cx="903.5" cy="438.8" r="5.0" fill="url(#gB)" opacity="0.93"/>
<circle cx="801.5" cy="451.8" r="5.0" fill="url(#gB)" opacity="0.93"/>
<circle cx="788.6" cy="496.7" r="5.0" fill="url(#gN)" opacity="0.93"/>
<circle cx="885.2" cy="429.3" r="5.0" fill="url(#gB)" opacity="0.93"/>
<circle cx="785.8" cy="600.4" r="5.0" fill="url(#gN)" opacity="0.94"/>
<circle cx="815.5" cy="580.7" r="5.0" fill="url(#gB)" opacity="0.94"/>
<circle cx="829.6" cy="544.9" r="5.0" fill="url(#gN)" opacity="0.94"/>
<circle cx="746.8" cy="517.9" r="5.0" fill="url(#gN)" opacity="0.94"/>
<circle cx="737.0" cy="550.2" r="5.0" fill="url(#gN)" opacity="0.94"/>
<circle cx="753.2" cy="481.9" r="5.0" fill="url(#gN)" opacity="0.94"/>
<circle cx="872.1" cy="454.9" r="5.0" fill="url(#gB)" opacity="0.94"/>
<circle cx="845.0" cy="441.8" r="5.1" fill="url(#gB)" opacity="0.94"/>
<circle cx="838.2" cy="496.2" r="5.1" fill="url(#gB)" opacity="0.94"/>
<circle cx="843.7" cy="598.7" r="5.1" fill="url(#gN)" opacity="0.94"/>
<circle cx="906.7" cy="579.7" r="5.1" fill="url(#gN)" opacity="0.94"/>
<circle cx="904.1" cy="453.7" r="5.1" fill="url(#gN)" opacity="0.94"/>
<circle cx="901.7" cy="596.9" r="5.1" fill="url(#gB)" opacity="0.94"/>
<circle cx="857.1" cy="449.2" r="5.1" fill="url(#gN)" opacity="0.94"/>
<circle cx="819.7" cy="553.6" r="5.1" fill="url(#gB)" opacity="0.95"/>
<circle cx="836.4" cy="458.2" r="5.1" fill="url(#gB)" opacity="0.95"/>
<circle cx="903.9" cy="485.9" r="5.1" fill="url(#gB)" opacity="0.95"/>
<circle cx="813.9" cy="485.3" r="5.1" fill="url(#gN)" opacity="0.95"/>
<circle cx="860.8" cy="476.8" r="5.1" fill="url(#gB)" opacity="0.95"/>
<circle cx="896.9" cy="450.1" r="5.1" fill="url(#gN)" opacity="0.95"/>
<circle cx="804.4" cy="614.6" r="5.1" fill="url(#gN)" opacity="0.95"/>
<circle cx="762.4" cy="519.4" r="5.1" fill="url(#gN)" opacity="0.95"/>
<circle cx="777.6" cy="453.5" r="5.1" fill="url(#gB)" opacity="0.95"/>
<circle cx="766.1" cy="473.6" r="5.1" fill="url(#gN)" opacity="0.95"/>
<circle cx="815.3" cy="600.1" r="5.1" fill="url(#gN)" opacity="0.95"/>
<circle cx="744.9" cy="620.6" r="5.1" fill="url(#gB)" opacity="0.95"/>
<circle cx="872.5" cy="538.2" r="5.1" fill="url(#gB)" opacity="0.95"/>
<circle cx="791.6" cy="573.9" r="5.1" fill="url(#gB)" opacity="0.95"/>
<circle cx="751.3" cy="489.0" r="5.1" fill="url(#gB)" opacity="0.95"/>
<circle cx="777.5" cy="468.7" r="5.1" fill="url(#gB)" opacity="0.96"/>
<circle cx="882.4" cy="581.7" r="5.1" fill="url(#gB)" opacity="0.96"/>
<circle cx="834.5" cy="478.5" r="5.1" fill="url(#gN)" opacity="0.96"/>
<circle cx="909.2" cy="476.6" r="5.1" fill="url(#gB)" opacity="0.96"/>
<circle cx="824.8" cy="534.7" r="5.1" fill="url(#gN)" opacity="0.96"/>
<circle cx="759.8" cy="610.3" r="5.1" fill="url(#gB)" opacity="0.96"/>
<circle cx="814.4" cy="493.4" r="5.1" fill="url(#gB)" opacity="0.96"/>
<circle cx="746.0" cy="605.3" r="5.1" fill="url(#gN)" opacity="0.96"/>
<circle cx="742.0" cy="454.1" r="5.1" fill="url(#gB)" opacity="0.96"/>
<circle cx="836.6" cy="562.7" r="5.1" fill="url(#gB)" opacity="0.96"/>
<circle cx="771.9" cy="526.9" r="5.1" fill="url(#gN)" opacity="0.96"/>
<circle cx="738.8" cy="611.4" r="5.1" fill="url(#gB)" opacity="0.96"/>
<circle cx="916.1" cy="496.1" r="5.1" fill="url(#gN)" opacity="0.96"/>
<circle cx="786.0" cy="447.2" r="5.1" fill="url(#gN)" opacity="0.96"/>
<circle cx="748.1" cy="544.9" r="5.1" fill="url(#gB)" opacity="0.96"/>
<circle cx="775.6" cy="605.2" r="5.1" fill="url(#gB)" opacity="0.96"/>
<circle cx="851.7" cy="556.3" r="5.1" fill="url(#gB)" opacity="0.96"/>
<circle cx="834.0" cy="469.2" r="5.1" fill="url(#gN)" opacity="0.96"/>
<circle cx="854.6" cy="614.7" r="5.1" fill="url(#gN)" opacity="0.96"/>
<circle cx="806.5" cy="571.0" r="5.1" fill="url(#gN)" opacity="0.96"/>
<circle cx="761.2" cy="593.7" r="5.1" fill="url(#gB)" opacity="0.96"/>
<circle cx="798.0" cy="495.5" r="5.1" fill="url(#gB)" opacity="0.96"/>
<circle cx="890.9" cy="527.0" r="5.1" fill="url(#gN)" opacity="0.96"/>
<circle cx="875.9" cy="445.3" r="5.1" fill="url(#gB)" opacity="0.96"/>
<circle cx="822.4" cy="541.9" r="5.2" fill="url(#gN)" opacity="0.96"/>
<circle cx="758.2" cy="453.4" r="5.2" fill="url(#gB)" opacity="0.96"/>
<circle cx="797.6" cy="527.2" r="5.2" fill="url(#gN)" opacity="0.97"/>
<circle cx="834.4" cy="620.9" r="5.2" fill="url(#gB)" opacity="0.97"/>
<circle cx="810.6" cy="515.4" r="5.2" fill="url(#gN)" opacity="0.97"/>
<circle cx="758.0" cy="557.2" r="5.2" fill="url(#gN)" opacity="0.97"/>
<circle cx="785.1" cy="619.8" r="5.2" fill="url(#gB)" opacity="0.97"/>
<circle cx="869.8" cy="566.5" r="5.2" fill="url(#gB)" opacity="0.97"/>
<circle cx="810.3" cy="624.7" r="5.2" fill="url(#gB)" opacity="0.97"/>
<circle cx="892.4" cy="490.3" r="5.2" fill="url(#gB)" opacity="0.97"/>
<circle cx="917.3" cy="566.3" r="5.2" fill="url(#gB)" opacity="0.97"/>
<circle cx="910.9" cy="458.5" r="5.2" fill="url(#gB)" opacity="0.97"/>
<circle cx="781.8" cy="495.0" r="5.2" fill="url(#gN)" opacity="0.97"/>
<circle cx="917.7" cy="601.6" r="5.2" fill="url(#gN)" opacity="0.97"/>
<circle cx="880.8" cy="571.1" r="5.2" fill="url(#gB)" opacity="0.97"/>
<circle cx="837.1" cy="607.1" r="5.2" fill="url(#gB)" opacity="0.97"/>
<circle cx="903.0" cy="515.1" r="5.2" fill="url(#gN)" opacity="0.97"/>
<circle cx="767.8" cy="483.6" r="5.2" fill="url(#gN)" opacity="0.97"/>
<circle cx="920.4" cy="441.8" r="5.2" fill="url(#gB)" opacity="0.97"/>
<circle cx="895.2" cy="540.9" r="5.2" fill="url(#gB)" opacity="0.98"/>
<circle cx="909.8" cy="598.3" r="5.2" fill="url(#gB)" opacity="0.98"/>
<circle cx="865.6" cy="484.7" r="5.2" fill="url(#gN)" opacity="0.98"/>
<circle cx="815.7" cy="529.1" r="5.2" fill="url(#gB)" opacity="0.98"/>
<circle cx="861.9" cy="515.0" r="5.2" fill="url(#gB)" opacity="0.98"/>
<circle cx="844.6" cy="463.4" r="5.2" fill="url(#gN)" opacity="0.98"/>
<circle cx="903.5" cy="527.2" r="5.2" fill="url(#gB)" opacity="0.98"/>
<circle cx="793.6" cy="504.3" r="5.2" fill="url(#gN)" opacity="0.98"/>
<circle cx="894.7" cy="609.9" r="5.2" fill="url(#gB)" opacity="0.98"/>
<circle cx="883.8" cy="594.6" r="5.2" fill="url(#gN)" opacity="0.98"/>
<circle cx="792.3" cy="562.7" r="5.2" fill="url(#gB)" opacity="0.98"/>
<circle cx="782.3" cy="463.4" r="5.2" fill="url(#gB)" opacity="0.98"/>
<circle cx="767.3" cy="456.3" r="5.2" fill="url(#gB)" opacity="0.98"/>
<circle cx="830.3" cy="612.0" r="5.2" fill="url(#gB)" opacity="0.98"/>
<circle cx="777.0" cy="622.8" r="5.2" fill="url(#gN)" opacity="0.98"/>
<circle cx="900.5" cy="507.4" r="5.2" fill="url(#gB)" opacity="0.98"/>
<circle cx="888.0" cy="565.4" r="5.2" fill="url(#gB)" opacity="0.98"/>
<circle cx="757.8" cy="540.5" r="5.2" fill="url(#gB)" opacity="0.98"/>
<circle cx="849.9" cy="456.5" r="5.2" fill="url(#gB)" opacity="0.98"/>
<circle cx="929.1" cy="510.4" r="5.2" fill="url(#gN)" opacity="0.98"/>
<circle cx="842.7" cy="557.0" r="5.2" fill="url(#gN)" opacity="0.98"/>
<circle cx="848.2" cy="621.7" r="5.2" fill="url(#gN)" opacity="0.98"/>
<circle cx="869.7" cy="521.6" r="5.2" fill="url(#gB)" opacity="0.98"/>
<circle cx="913.7" cy="526.3" r="5.2" fill="url(#gB)" opacity="0.98"/>
<circle cx="796.3" cy="621.7" r="5.2" fill="url(#gB)" opacity="0.99"/>
<circle cx="751.6" cy="473.3" r="5.2" fill="url(#gN)" opacity="0.99"/>
<circle cx="926.2" cy="452.0" r="5.2" fill="url(#gN)" opacity="0.99"/>
<circle cx="801.6" cy="542.3" r="5.2" fill="url(#gN)" opacity="0.99"/>
<circle cx="830.2" cy="491.8" r="5.2" fill="url(#gB)" opacity="0.99"/>
<circle cx="752.8" cy="619.9" r="5.2" fill="url(#gB)" opacity="0.99"/>
<circle cx="796.8" cy="483.9" r="5.2" fill="url(#gB)" opacity="0.99"/>
<circle cx="904.9" cy="603.5" r="5.3" fill="url(#gN)" opacity="0.99"/>
<circle cx="862.9" cy="502.0" r="5.3" fill="url(#gB)" opacity="0.99"/>
<circle cx="789.8" cy="475.9" r="5.3" fill="url(#gB)" opacity="0.99"/>
<circle cx="779.1" cy="611.4" r="5.3" fill="url(#gN)" opacity="0.99"/>
<circle cx="861.7" cy="617.5" r="5.3" fill="url(#gN)" opacity="0.99"/>
<circle cx="827.7" cy="561.0" r="5.3" fill="url(#gN)" opacity="0.99"/>
<circle cx="874.6" cy="500.4" r="5.3" fill="url(#gB)" opacity="0.99"/>
<circle cx="816.1" cy="521.8" r="5.3" fill="url(#gN)" opacity="0.99"/>
<circle cx="913.6" cy="558.8" r="5.3" fill="url(#gN)" opacity="0.99"/>
<circle cx="865.6" cy="543.1" r="5.3" fill="url(#gN)" opacity="0.99"/>
<circle cx="879.1" cy="468.1" r="5.3" fill="url(#gN)" opacity="0.99"/>
<circle cx="870.3" cy="491.0" r="5.3" fill="url(#gN)" opacity="0.99"/>
<circle cx="892.9" cy="475.1" r="5.3" fill="url(#gN)" opacity="0.99"/>
<circle cx="819.9" cy="480.9" r="5.3" fill="url(#gB)" opacity="0.99"/>
<circle cx="896.4" cy="572.2" r="5.3" fill="url(#gN)" opacity="0.99"/>
<circle cx="903.0" cy="562.0" r="5.3" fill="url(#gB)" opacity="0.99"/>
<circle cx="856.3" cy="493.0" r="5.3" fill="url(#gB)" opacity="0.99"/>
<circle cx="895.9" cy="561.1" r="5.3" fill="url(#gN)" opacity="1.00"/>
<circle cx="917.6" cy="590.5" r="5.3" fill="url(#gB)" opacity="1.00"/>
<circle cx="903.4" cy="471.6" r="5.3" fill="url(#gN)" opacity="1.00"/>
<circle cx="754.5" cy="599.1" r="5.3" fill="url(#gN)" opacity="1.00"/>
<circle cx="935.6" cy="624.3" r="5.3" fill="url(#gN)" opacity="1.00"/>
<circle cx="851.1" cy="514.9" r="5.3" fill="url(#gN)" opacity="1.00"/>
<line x1="702.9" y1="413.3" x2="885.7" y2="398.6" stroke="#000000" stroke-width="2.8" stroke-dasharray="2.8 4.4"/>
<line x1="702.9" y1="594.3" x2="885.7" y2="582.2" stroke="#000000" stroke-width="2.8" stroke-dasharray="2.8 4.4"/>
<line x1="755.5" y1="462.4" x2="938.3" y2="449.5" stroke="#000000" stroke-width="2.8" stroke-dasharray="2.8 4.4"/>
<line x1="755.5" y1="645.2" x2="938.3" y2="631.4" stroke="#000000" stroke-width="2.8" stroke-dasharray="2.8 4.4"/>
<line x1="702.9" y1="413.3" x2="702.9" y2="594.3" stroke="#000000" stroke-width="2.8" stroke-dasharray="2.8 4.4"/>
<line x1="885.7" y1="398.6" x2="885.7" y2="582.2" stroke="#000000" stroke-width="2.8" stroke-dasharray="2.8 4.4"/>
<line x1="755.5" y1="462.4" x2="755.5" y2="645.2" stroke="#000000" stroke-width="2.8" stroke-dasharray="2.8 4.4"/>
<line x1="938.3" y1="449.5" x2="938.3" y2="631.4" stroke="#000000" stroke-width="2.8" stroke-dasharray="2.8 4.4"/>
<line x1="702.9" y1="413.3" x2="755.5" y2="462.4" stroke="#000000" stroke-width="2.4" stroke-dasharray="1.1 1.5" opacity="0.75"/>
<line x1="885.7" y1="398.6" x2="938.3" y2="449.5" stroke="#000000" stroke-width="2.4" stroke-dasharray="1.1 1.5" opacity="0.75"/>
<line x1="702.9" y1="594.3" x2="755.5" y2="645.2" stroke="#000000" stroke-width="2.4" stroke-dasharray="1.1 1.5" opacity="0.75"/>
<line x1="885.7" y1="582.2" x2="938.3" y2="631.4" stroke="#000000" stroke-width="2.4" stroke-dasharray="1.1 1.5" opacity="0.75"/>
<text transform="translate(949.0,530.0) rotate(90) scale(1.08,1)" text-anchor="middle" font-family="Liberation Sans, Arial, sans-serif" font-weight="bold" font-size="30.5" fill="#000000">M-Q</text>
<path d="M111.4,691.8 L150.0,691.8 L185.0,691.9 L201.5,691.9 L205.5,690.8 L209.5,689.0 L213.3,686.4 L216.9,683.1 L220.2,679.1 L223.2,674.5 L226.1,669.0 L228.9,662.5 L231.5,655.2 L234.1,646.7 L236.7,636.7 L239.0,626.5 L241.0,616.1 L243.4,600.7 L245.7,582.3 L248.0,559.7 L250.5,531.2 L259.9,410.2 L274.7,208.9 L278.2,165.6 L281.4,130.8 L283.4,111.9 L285.4,95.7 L287.4,81.9 L289.4,70.6 L291.4,61.7 L293.5,54.8 L294.5,52.4 L295.6,50.4 L296.6,49.1 L297.7,48.3 L298.9,48.2 L300.0,48.8 L301.1,50.0 L302.2,51.9 L303.3,54.4 L304.4,57.7 L306.5,66.0 L308.6,76.9 L310.7,90.6 L312.8,107.3 L314.8,125.9 L318.1,162.2 L321.8,209.7 L334.2,389.3 L338.8,451.8 L343.2,503.8 L345.4,526.1 L347.6,546.0 L349.7,562.8 L351.9,578.1 L354.1,591.1 L356.3,601.8 L358.5,610.3 L360.7,616.5 L361.8,618.9 L362.9,620.7 L364.0,622.0 L365.1,622.7 L366.1,622.9 L367.2,622.7 L368.2,622.0 L369.3,620.9 L371.5,617.0 L373.7,611.4 L375.9,604.1 L378.2,594.8 L380.6,583.3 L383.0,570.2 L386.9,545.9 L391.3,514.8 L405.7,401.6 L411.0,362.0 L416.1,328.2 L418.4,314.8 L420.7,302.7 L423.1,291.6 L425.5,282.0 L427.9,273.7 L430.3,266.9 L432.7,261.4 L435.2,257.0 L437.7,254.0 L439.0,252.9 L440.3,252.2 L441.9,251.8 L443.6,251.9 L445.3,252.6 L447.1,253.8 L448.9,255.6 L450.7,257.9 L452.6,260.8 L454.6,264.3 L458.3,272.0 L462.3,281.6 L466.5,292.8 L476.7,321.7 L482.3,336.9 L488.2,351.8 L493.7,364.3 L496.7,370.4 L499.7,376.0 L502.6,380.8 L505.4,384.9 L508.0,388.1 L510.4,390.4 L512.7,392.0 L514.9,392.8 L516.4,392.9 L518.0,392.6 L519.7,391.9 L521.5,390.7 L525.2,387.4 L532.2,380.0 L537.4,374.1 L542.0,368.4 L556.0,349.1 L560.7,342.9 L564.9,337.9 L568.7,333.9 L572.8,330.4 L576.7,328.0 L580.8,326.4 L585.0,325.7 L587.4,325.7 L589.8,325.9 L592.2,326.4 L594.7,327.2 L599.8,329.6 L605.1,333.0 L610.4,337.3 L616.0,342.6 L621.4,348.3 L635.9,364.5 L640.3,369.0 L644.2,372.6 L648.7,376.1 L652.9,378.7 L656.9,380.3 L660.7,381.1 L664.3,381.0 L668.1,380.1 L672.1,378.4 L676.4,375.9 L680.1,373.3 L684.2,370.0 L702.2,354.3 L706.7,350.9 L710.7,348.3 L714.8,346.3 L719.0,344.8 L723.3,343.8 L727.8,343.2 L732.0,343.2 L736.3,343.5 L740.9,344.2 L745.8,345.3 L755.7,348.3 L779.5,357.1 L790.2,360.7 L795.9,362.2 L801.2,363.4 L806.3,364.3 L811.1,364.7 L815.6,364.9 L819.9,364.7 L824.5,364.2 L829.3,363.3 L839.3,360.8 L859.3,354.4 L867.7,352.1 L876.5,350.3 L880.5,349.9 L884.4,349.6 L888.9,349.7 L893.6,350.0 L898.5,350.7 L903.7,351.7 L914.0,354.2 L933.7,360.1 L941.8,362.3 L950.2,364.1 L957.8,365.2 L962.2,365.5 L966.6,365.5 L971.0,365.3 L975.4,364.7 L979.8,364.0 L984.2,362.9 L988.6,361.6 L993.0,360.0" fill="none" stroke="#505050" stroke-width="4.2" stroke-linejoin="round"/>
<path d="M111.4,692.8 L150.0,692.8 L185.0,692.6 L192.2,692.7 L197.2,692.4 L201.8,691.7 L205.9,690.4 L210.0,688.4 L213.8,685.8 L217.5,682.5 L220.8,678.6 L223.7,674.3 L226.5,669.0 L229.1,662.9 L231.6,656.0 L234.0,648.0 L236.4,638.8 L238.7,628.5 L240.7,618.3 L243.6,600.4 L246.3,579.7 L248.9,555.5 L251.8,524.3 L257.5,453.8 L267.9,312.7 L272.3,255.4 L276.9,200.5 L281.0,157.7 L283.2,137.7 L285.4,120.0 L287.5,105.5 L289.6,93.5 L291.7,83.8 L293.8,76.7 L294.9,73.9 L295.9,72.0 L296.9,70.7 L297.9,70.0 L299.0,69.8 L300.1,70.4 L301.2,71.7 L302.2,73.6 L304.3,79.4 L306.4,87.8 L308.6,99.6 L310.8,114.0 L313.1,131.7 L315.4,152.0 L319.4,192.4 L323.7,242.0 L337.0,414.2 L341.7,471.7 L346.0,518.3 L349.9,553.3 L351.9,567.9 L353.9,580.3 L355.9,590.7 L358.0,599.5 L360.1,606.3 L362.3,611.5 L363.4,613.5 L364.6,615.1 L365.8,616.3 L367.0,617.0 L368.1,617.3 L369.2,617.3 L370.4,616.9 L371.5,616.3 L373.8,614.0 L376.0,610.6 L378.2,605.9 L380.3,600.2 L382.4,593.2 L384.5,585.0 L386.5,575.9 L388.4,566.0 L392.6,540.5 L396.5,513.5 L406.2,442.5 L412.4,401.1 L418.0,367.5 L423.4,338.7 L426.4,324.6 L429.2,312.9 L431.9,303.3 L434.5,295.7 L437.0,290.1 L439.7,285.8 L441.2,284.0 L442.7,282.6 L444.3,281.4 L445.9,280.6 L447.8,280.0 L449.8,279.9 L451.8,280.3 L453.9,281.2 L456.0,282.5 L458.2,284.2 L460.5,286.5 L462.8,289.2 L467.6,295.9 L473.0,304.7 L478.6,314.7 L494.3,344.1 L499.1,352.3 L503.4,359.0 L508.3,365.5 L510.6,368.1 L512.9,370.3 L515.1,372.1 L517.2,373.3 L519.3,374.2 L521.3,374.7 L524.2,374.7 L527.0,373.9 L530.2,372.1 L534.0,369.1 L539.1,364.5 L544.8,359.0 L565.6,337.3 L569.8,333.4 L573.6,330.3 L578.1,327.5 L582.6,325.3 L587.1,324.0 L591.6,323.5 L596.3,323.7 L600.9,324.9 L605.4,326.8 L610.1,329.7 L614.3,332.9 L618.9,336.9 L633.7,351.2 L638.9,356.0 L643.8,360.0 L648.2,363.0 L652.7,365.4 L657.4,367.3 L662.2,368.5 L667.3,369.3 L674.3,369.4 L682.1,368.7 L689.8,367.4 L708.3,363.5 L720.6,361.4 L763.8,355.5 L771.2,354.8 L776.7,355.0 L781.8,356.0 L786.6,357.6 L799.0,362.4 L803.5,363.8 L808.0,364.9 L817.1,366.5 L826.7,367.1 L837.2,366.9 L848.7,365.8 L861.0,363.9 L885.9,359.2 L896.4,357.4 L907.3,356.0 L918.2,355.2 L931.2,355.1 L944.4,355.8 L954.3,356.8 L972.5,359.6 L980.3,360.4 L987.0,360.5 L993.0,359.9" fill="none" stroke="#000000" stroke-width="4.7" stroke-linecap="round" stroke-dasharray="5.6 13" stroke-dashoffset="-15.13"/>
<rect x="111.4" y="19.9" width="881.6" height="672.6" fill="none" stroke="#000" stroke-width="2.3"/>
<line x1="112.60000000000001" y1="692.4" x2="991.8" y2="692.4" stroke="#ff8800" stroke-width="2.4"/>
<path d="M174.4,692.5v-6.5M174.4,19.9v6.5M237.3,692.5v-12.5M237.3,19.9v12.5M300.3,692.5v-6.5M300.3,19.9v6.5M363.3,692.5v-12.5M363.3,19.9v12.5M426.3,692.5v-6.5M426.3,19.9v6.5M489.2,692.5v-12.5M489.2,19.9v12.5M552.2,692.5v-6.5M552.2,19.9v6.5M615.2,692.5v-12.5M615.2,19.9v12.5M678.1,692.5v-6.5M678.1,19.9v6.5M741.1,692.5v-12.5M741.1,19.9v12.5M804.1,692.5v-6.5M804.1,19.9v6.5M867.1,692.5v-12.5M867.1,19.9v12.5M930.0,692.5v-6.5M930.0,19.9v6.5M111.4,658.9h6.5M993.0,658.9h-6.5M111.4,625.2h12.5M993.0,625.2h-12.5M111.4,591.6h6.5M993.0,591.6h-6.5M111.4,558.0h12.5M993.0,558.0h-12.5M111.4,524.4h6.5M993.0,524.4h-6.5M111.4,490.7h12.5M993.0,490.7h-12.5M111.4,457.1h6.5M993.0,457.1h-6.5M111.4,423.5h12.5M993.0,423.5h-12.5M111.4,389.8h6.5M993.0,389.8h-6.5M111.4,356.2h12.5M993.0,356.2h-12.5M111.4,322.6h6.5M993.0,322.6h-6.5M111.4,288.9h12.5M993.0,288.9h-12.5M111.4,255.3h6.5M993.0,255.3h-6.5M111.4,221.7h12.5M993.0,221.7h-12.5M111.4,188.0h6.5M993.0,188.0h-6.5M111.4,154.4h12.5M993.0,154.4h-12.5M111.4,120.8h6.5M993.0,120.8h-6.5M111.4,87.2h12.5M993.0,87.2h-12.5M111.4,53.5h6.5M993.0,53.5h-6.5" stroke="#000" stroke-width="2.1" fill="none"/>
<text x="97.5" y="700.5" text-anchor="end" font-family="Liberation Sans, Arial, sans-serif" font-size="27">0.0</text>
<text x="97.5" y="633.2" text-anchor="end" font-family="Liberation Sans, Arial, sans-serif" font-size="27">0.2</text>
<text x="97.5" y="566.0" text-anchor="end" font-family="Liberation Sans, Arial, sans-serif" font-size="27">0.4</text>
<text x="97.5" y="498.7" text-anchor="end" font-family="Liberation Sans, Arial, sans-serif" font-size="27">0.6</text>
<text x="97.5" y="431.5" text-anchor="end" font-family="Liberation Sans, Arial, sans-serif" font-size="27">0.8</text>
<text x="97.5" y="364.2" text-anchor="end" font-family="Liberation Sans, Arial, sans-serif" font-size="27">1.0</text>
<text x="97.5" y="296.9" text-anchor="end" font-family="Liberation Sans, Arial, sans-serif" font-size="27">1.2</text>
<text x="97.5" y="229.7" text-anchor="end" font-family="Liberation Sans, Arial, sans-serif" font-size="27">1.4</text>
<text x="97.5" y="162.4" text-anchor="end" font-family="Liberation Sans, Arial, sans-serif" font-size="27">1.6</text>
<text x="97.5" y="95.2" text-anchor="end" font-family="Liberation Sans, Arial, sans-serif" font-size="27">1.8</text>
<text x="97.5" y="27.9" text-anchor="end" font-family="Liberation Sans, Arial, sans-serif" font-size="27">2.0</text>
<text x="111.4" y="725.9" text-anchor="middle" font-family="Liberation Sans, Arial, sans-serif" font-size="27">0</text>
<text x="237.3" y="725.9" text-anchor="middle" font-family="Liberation Sans, Arial, sans-serif" font-size="27">1</text>
<text x="363.3" y="725.9" text-anchor="middle" font-family="Liberation Sans, Arial, sans-serif" font-size="27">2</text>
<text x="489.2" y="725.9" text-anchor="middle" font-family="Liberation Sans, Arial, sans-serif" font-size="27">3</text>
<text x="615.2" y="725.9" text-anchor="middle" font-family="Liberation Sans, Arial, sans-serif" font-size="27">4</text>
<text x="741.1" y="725.9" text-anchor="middle" font-family="Liberation Sans, Arial, sans-serif" font-size="27">5</text>
<text x="867.1" y="725.9" text-anchor="middle" font-family="Liberation Sans, Arial, sans-serif" font-size="27">6</text>
<text x="993.0" y="725.9" text-anchor="middle" font-family="Liberation Sans, Arial, sans-serif" font-size="27">7</text>
<text x="552.4" y="766.6" text-anchor="middle" font-family="Liberation Sans, Arial, sans-serif" font-size="32">r (Å)</text>
<text transform="translate(42.1,345.9) rotate(-90)" text-anchor="middle" font-family="Liberation Sans, Arial, sans-serif" font-size="32">PDF</text>
<text x="125.8" y="71.9" font-family="Liberation Sans, Arial, sans-serif" font-size="42.5">BN</text>
<text x="333.4" y="75.0" font-family="Liberation Sans, Arial, sans-serif" font-size="38.7">Total 2.04 g cm<tspan dx="-1.6" dy="-19.2" font-size="23" letter-spacing="0.8">-3</tspan></text>
<text x="6.7" y="66.9" font-family="Liberation Sans, Arial, sans-serif" font-weight="bold" font-size="49.5">(a)</text>
<rect x="644.8" y="21.1" width="347.1" height="189.9" fill="#ffffff" stroke="#000000" stroke-width="1.8"/>
<rect x="649.4" y="27.9" width="71.0" height="34.7" fill="#b7b7b7" stroke="#222222" stroke-width="1.2"/>
<line x1="649.95" y1="90.6" x2="714.0" y2="90.6" stroke="#000000" stroke-width="4.7" stroke-linecap="round" stroke-dasharray="5.6 13"/>
<rect x="649.4" y="120.7" width="71.0" height="35.0" fill="#008000"/>
<rect x="649.4" y="168.2" width="71.0" height="35.5" fill="#ff8800"/>
<text x="731.4" y="56.1" font-family="Liberation Sans, Arial, sans-serif" font-size="32"><tspan font-family="Liberation Serif, Times New Roman, serif" font-style="italic" font-size="40">a</tspan>-BN U-Q</text>
<text x="731.4" y="100.7" font-family="Liberation Sans, Arial, sans-serif" font-size="32"><tspan font-family="Liberation Serif, Times New Roman, serif" font-style="italic" font-size="40">a</tspan>-BN M-Q</text>
<text x="731.4" y="148.3" font-family="Liberation Sans, Arial, sans-serif" font-size="32"><tspan font-family="Liberation Serif, Times New Roman, serif" font-style="italic" font-size="40">c</tspan>-BN 3.48 g cm<tspan dx="-1.0" dy="-15.7" font-size="17.5" letter-spacing="1">-3</tspan></text>
<text x="731.4" y="196.6" font-family="Liberation Sans, Arial, sans-serif" font-size="32"><tspan font-family="Liberation Serif, Times New Roman, serif" font-style="italic" font-size="40">h</tspan>-BN 2.28 g cm<tspan dx="-1.0" dy="-15.7" font-size="17.5" letter-spacing="1">-3</tspan></text>
<path d="M1111.3,689.0 L1150.0,689.0 L1200.0,689.1 L1204.2,688.5 L1213.5,688.5 L1215.6,688.2 L1217.6,687.7 L1220.1,686.7 L1222.4,685.1 L1224.6,683.1 L1226.7,680.6 L1229.0,677.0 L1231.2,672.8 L1233.4,667.6 L1235.5,661.7 L1237.5,655.2 L1239.5,647.7 L1243.4,630.1 L1246.6,612.3 L1249.7,592.0 L1252.8,568.4 L1255.8,542.2 L1261.5,485.2 L1276.0,327.9 L1280.5,284.4 L1284.7,248.6 L1287.0,231.3 L1289.2,216.6 L1291.3,204.3 L1293.4,193.8 L1295.5,185.4 L1297.5,179.3 L1299.5,175.3 L1300.5,174.0 L1301.4,173.4 L1302.2,173.2 L1303.1,173.5 L1304.0,174.2 L1304.9,175.3 L1306.8,179.0 L1308.7,184.3 L1310.6,191.2 L1312.5,199.6 L1314.4,209.7 L1316.3,221.5 L1319.8,247.7 L1323.4,279.9 L1327.2,318.6 L1335.5,409.7 L1339.4,450.4 L1344.0,494.2 L1348.2,529.1 L1350.6,546.6 L1352.9,561.4 L1355.2,574.2 L1357.4,584.4 L1359.6,592.4 L1361.7,598.0 L1362.7,600.0 L1363.8,601.6 L1364.9,602.7 L1366.0,603.2 L1367.0,603.3 L1368.1,602.8 L1369.1,602.0 L1370.2,600.6 L1372.3,596.6 L1374.4,590.9 L1376.6,583.2 L1378.8,573.7 L1381.0,562.5 L1383.3,549.1 L1387.1,523.6 L1391.2,492.1 L1404.2,379.1 L1408.8,341.5 L1413.2,310.2 L1417.5,285.3 L1419.9,273.7 L1422.4,263.3 L1424.9,254.6 L1427.4,247.4 L1430.0,241.5 L1432.6,237.0 L1435.3,233.9 L1436.7,232.8 L1438.1,232.0 L1440.1,231.6 L1442.1,231.8 L1444.2,232.7 L1446.4,234.2 L1448.6,236.5 L1450.9,239.4 L1453.3,243.0 L1455.8,247.3 L1460.0,255.7 L1464.7,266.4 L1480.5,306.3 L1486.5,320.6 L1489.7,327.4 L1492.9,333.7 L1496.1,339.4 L1499.3,344.6 L1502.6,349.3 L1506.0,353.6 L1509.3,357.2 L1512.7,360.4 L1516.1,362.9 L1519.5,364.9 L1523.0,366.5 L1526.7,367.6 L1530.6,368.2 L1534.6,368.2 L1538.8,367.8 L1543.3,366.9 L1547.7,365.6 L1552.6,363.9 L1571.3,355.7 L1579.2,352.7 L1583.5,351.5 L1587.5,350.7 L1591.3,350.3 L1594.9,350.3 L1598.6,350.7 L1602.5,351.6 L1606.6,352.8 L1611.0,354.5 L1619.1,358.3 L1638.9,368.9 L1644.3,371.4 L1649.1,373.2 L1654.1,374.7 L1658.8,375.6 L1663.3,375.8 L1667.7,375.5 L1672.1,374.6 L1676.6,373.2 L1681.4,371.2 L1686.5,368.6 L1695.9,362.8 L1717.9,347.9 L1723.5,344.5 L1728.6,341.8 L1733.6,339.6 L1738.3,338.1 L1742.8,337.1 L1747.1,336.7 L1749.9,336.7 L1752.9,337.0 L1759.2,338.4 L1765.9,340.8 L1782.8,347.9 L1792.2,351.4 L1797.2,352.9 L1802.0,354.1 L1806.5,354.9 L1810.9,355.3 L1817.1,355.4 L1824.0,354.9 L1830.6,353.8 L1846.0,350.9 L1853.7,349.9 L1861.9,349.4 L1870.2,349.5 L1879.8,350.2 L1890.4,351.7 L1900.5,353.6 L1924.2,358.4 L1935.9,360.4 L1946.9,361.7 L1956.8,362.1 L1966.4,361.6 L1971.0,361.0 L1975.4,360.1 L1979.8,359.1 L1984.1,357.8 L1988.3,356.2 L1992.4,354.5 L1992.4,689.7 L1111.3,689.7 Z" fill="#fddfe0"/>
<rect x="1305.6" y="588.5" width="7.6" height="101.2" fill="#008000" stroke="#ffffff" stroke-opacity="0.45" stroke-width="0.8"/>
<rect x="1431.9" y="575.7" width="7.6" height="114.0" fill="#008000" stroke="#ffffff" stroke-opacity="0.45" stroke-width="0.8"/>
<rect x="1488.0" y="640.9" width="7.6" height="48.8" fill="#008000" stroke="#ffffff" stroke-opacity="0.45" stroke-width="0.8"/>
<rect x="1601.9" y="640.9" width="7.6" height="48.8" fill="#008000" stroke="#ffffff" stroke-opacity="0.45" stroke-width="0.8"/>
<rect x="1664.5" y="640.9" width="7.6" height="48.8" fill="#008000" stroke="#ffffff" stroke-opacity="0.45" stroke-width="0.8"/>
<rect x="1701.0" y="644.0" width="7.6" height="45.7" fill="#008000" stroke="#ffffff" stroke-opacity="0.45" stroke-width="0.8"/>
<rect x="1703.8" y="649.0" width="7.6" height="40.7" fill="#008000" stroke="#ffffff" stroke-opacity="0.45" stroke-width="0.8"/>
<rect x="1784.4" y="649.0" width="7.6" height="40.7" fill="#008000" stroke="#ffffff" stroke-opacity="0.45" stroke-width="0.8"/>
<rect x="1828.5" y="648.7" width="7.6" height="41.0" fill="#008000" stroke="#ffffff" stroke-opacity="0.45" stroke-width="0.8"/>
<rect x="1853.4" y="667.8" width="7.6" height="21.9" fill="#008000" stroke="#ffffff" stroke-opacity="0.45" stroke-width="0.8"/>
<rect x="1922.3" y="653.4" width="7.6" height="36.3" fill="#008000" stroke="#ffffff" stroke-opacity="0.45" stroke-width="0.8"/>
<rect x="1960.3" y="624.1" width="7.6" height="65.6" fill="#008000" stroke="#ffffff" stroke-opacity="0.45" stroke-width="0.8"/>
<rect x="1985.1" y="643.3" width="7.6" height="46.4" fill="#008000" stroke="#ffffff" stroke-opacity="0.45" stroke-width="0.8"/>
<rect x="1286.4" y="588.5" width="7.6" height="101.2" fill="#ff8800" stroke="#ffffff" stroke-opacity="0.45" stroke-width="0.8"/>
<rect x="1469.3" y="664.5" width="7.6" height="25.2" fill="#ff8800" stroke="#ffffff" stroke-opacity="0.45" stroke-width="0.8"/>
<rect x="1525.8" y="676.9" width="7.6" height="12.8" fill="#ff8800" stroke="#ffffff" stroke-opacity="0.45" stroke-width="0.8"/>
<rect x="1563.9" y="658.1" width="7.6" height="31.6" fill="#ff8800" stroke="#ffffff" stroke-opacity="0.45" stroke-width="0.8"/>
<rect x="1589.2" y="661.1" width="7.6" height="28.6" fill="#ff8800" stroke="#ffffff" stroke-opacity="0.45" stroke-width="0.8"/>
<rect x="1633.4" y="642.0" width="7.6" height="47.7" fill="#ff8800" stroke="#ffffff" stroke-opacity="0.45" stroke-width="0.8"/>
<rect x="1664.5" y="668.2" width="7.6" height="21.5" fill="#ff8800" stroke="#ffffff" stroke-opacity="0.45" stroke-width="0.8"/>
<rect x="1746.4" y="657.4" width="7.6" height="32.3" fill="#ff8800" stroke="#ffffff" stroke-opacity="0.45" stroke-width="0.8"/>
<rect x="1765.3" y="674.2" width="7.6" height="15.5" fill="#ff8800" stroke="#ffffff" stroke-opacity="0.45" stroke-width="0.8"/>
<rect x="1797.3" y="661.8" width="7.6" height="27.9" fill="#ff8800" stroke="#ffffff" stroke-opacity="0.45" stroke-width="0.8"/>
<rect x="1834.5" y="682.6" width="7.6" height="7.1" fill="#ff8800" stroke="#ffffff" stroke-opacity="0.45" stroke-width="0.8"/>
<rect x="1866.1" y="666.5" width="7.6" height="23.2" fill="#ff8800" stroke="#ffffff" stroke-opacity="0.45" stroke-width="0.8"/>
<rect x="1884.8" y="667.8" width="7.6" height="21.9" fill="#ff8800" stroke="#ffffff" stroke-opacity="0.45" stroke-width="0.8"/>
<rect x="1903.6" y="678.9" width="7.6" height="10.8" fill="#ff8800" stroke="#ffffff" stroke-opacity="0.45" stroke-width="0.8"/>
<rect x="1948.1" y="679.9" width="7.6" height="9.8" fill="#ff8800" stroke="#ffffff" stroke-opacity="0.45" stroke-width="0.8"/>
<rect x="1966.6" y="680.3" width="7.6" height="9.4" fill="#ff8800" stroke="#ffffff" stroke-opacity="0.45" stroke-width="0.8"/>
<rect x="1450" y="390" width="234" height="250.5" fill="#ffffff" fill-opacity="0.12"/>
<circle cx="1568.6" cy="446.6" r="5.1" fill="url(#gB)" opacity="0.88"/>
<circle cx="1508.3" cy="410.3" r="5.1" fill="url(#gN)" opacity="0.88"/>
<circle cx="1564.0" cy="423.1" r="5.1" fill="url(#gN)" opacity="0.88"/>
<circle cx="1473.3" cy="490.1" r="5.1" fill="url(#gB)" opacity="0.88"/>
<circle cx="1560.3" cy="410.1" r="5.1" fill="url(#gB)" opacity="0.88"/>
<circle cx="1582.9" cy="462.9" r="5.1" fill="url(#gN)" opacity="0.88"/>
<circle cx="1466.8" cy="544.5" r="5.1" fill="url(#gB)" opacity="0.88"/>
<circle cx="1467.2" cy="445.9" r="5.1" fill="url(#gN)" opacity="0.88"/>
<circle cx="1504.5" cy="556.3" r="5.1" fill="url(#gN)" opacity="0.88"/>
<circle cx="1522.8" cy="415.4" r="5.1" fill="url(#gB)" opacity="0.88"/>
<circle cx="1604.3" cy="517.9" r="5.1" fill="url(#gB)" opacity="0.88"/>
<circle cx="1486.0" cy="498.3" r="5.1" fill="url(#gN)" opacity="0.88"/>
<circle cx="1509.8" cy="547.2" r="5.1" fill="url(#gN)" opacity="0.88"/>
<circle cx="1573.1" cy="498.0" r="5.1" fill="url(#gN)" opacity="0.88"/>
<circle cx="1586.7" cy="410.4" r="5.1" fill="url(#gB)" opacity="0.88"/>
<circle cx="1462.1" cy="477.0" r="5.1" fill="url(#gN)" opacity="0.88"/>
<circle cx="1480.6" cy="509.2" r="5.1" fill="url(#gN)" opacity="0.89"/>
<circle cx="1536.0" cy="530.9" r="5.1" fill="url(#gB)" opacity="0.89"/>
<circle cx="1529.9" cy="439.9" r="5.1" fill="url(#gN)" opacity="0.89"/>
<circle cx="1475.1" cy="527.3" r="5.1" fill="url(#gB)" opacity="0.89"/>
<circle cx="1484.3" cy="423.5" r="5.1" fill="url(#gN)" opacity="0.89"/>
<circle cx="1602.7" cy="435.2" r="5.1" fill="url(#gB)" opacity="0.89"/>
<circle cx="1546.2" cy="522.0" r="5.1" fill="url(#gN)" opacity="0.89"/>
<circle cx="1507.0" cy="535.7" r="5.1" fill="url(#gN)" opacity="0.89"/>
<circle cx="1587.2" cy="531.0" r="5.1" fill="url(#gB)" opacity="0.89"/>
<circle cx="1542.3" cy="500.5" r="5.1" fill="url(#gB)" opacity="0.89"/>
<circle cx="1487.6" cy="443.5" r="5.1" fill="url(#gN)" opacity="0.89"/>
<circle cx="1545.8" cy="405.9" r="5.1" fill="url(#gN)" opacity="0.89"/>
<circle cx="1617.2" cy="410.4" r="5.1" fill="url(#gN)" opacity="0.89"/>
<circle cx="1495.0" cy="495.9" r="5.1" fill="url(#gB)" opacity="0.89"/>
<circle cx="1522.2" cy="527.5" r="5.1" fill="url(#gB)" opacity="0.89"/>
<circle cx="1512.3" cy="461.4" r="5.1" fill="url(#gB)" opacity="0.89"/>
<circle cx="1542.4" cy="419.5" r="5.1" fill="url(#gB)" opacity="0.89"/>
<circle cx="1585.4" cy="549.3" r="5.2" fill="url(#gB)" opacity="0.89"/>
<circle cx="1494.5" cy="471.7" r="5.2" fill="url(#gB)" opacity="0.89"/>
<circle cx="1461.9" cy="565.7" r="5.2" fill="url(#gB)" opacity="0.89"/>
<circle cx="1468.1" cy="518.2" r="5.2" fill="url(#gN)" opacity="0.89"/>
<circle cx="1620.6" cy="421.4" r="5.2" fill="url(#gN)" opacity="0.89"/>
<circle cx="1577.3" cy="536.0" r="5.2" fill="url(#gN)" opacity="0.89"/>
<circle cx="1469.0" cy="426.5" r="5.2" fill="url(#gN)" opacity="0.89"/>
<circle cx="1624.3" cy="399.1" r="5.2" fill="url(#gN)" opacity="0.89"/>
<circle cx="1579.9" cy="454.5" r="5.2" fill="url(#gN)" opacity="0.89"/>
<circle cx="1530.5" cy="568.0" r="5.2" fill="url(#gN)" opacity="0.89"/>
<circle cx="1530.9" cy="501.0" r="5.2" fill="url(#gN)" opacity="0.89"/>
<circle cx="1549.3" cy="565.2" r="5.2" fill="url(#gN)" opacity="0.90"/>
<circle cx="1494.9" cy="559.0" r="5.2" fill="url(#gB)" opacity="0.90"/>
<circle cx="1610.6" cy="427.6" r="5.2" fill="url(#gB)" opacity="0.90"/>
<circle cx="1572.0" cy="558.8" r="5.2" fill="url(#gN)" opacity="0.90"/>
<circle cx="1514.7" cy="435.9" r="5.2" fill="url(#gB)" opacity="0.90"/>
<circle cx="1617.4" cy="442.0" r="5.2" fill="url(#gB)" opacity="0.90"/>
<circle cx="1615.9" cy="432.8" r="5.2" fill="url(#gB)" opacity="0.90"/>
<circle cx="1515.8" cy="422.3" r="5.2" fill="url(#gN)" opacity="0.90"/>
<circle cx="1595.7" cy="414.1" r="5.2" fill="url(#gN)" opacity="0.90"/>
<circle cx="1473.3" cy="470.3" r="5.2" fill="url(#gN)" opacity="0.90"/>
<circle cx="1547.5" cy="550.5" r="5.2" fill="url(#gN)" opacity="0.90"/>
<circle cx="1535.8" cy="447.8" r="5.2" fill="url(#gB)" opacity="0.90"/>
<circle cx="1473.5" cy="589.1" r="5.2" fill="url(#gN)" opacity="0.90"/>
<circle cx="1554.6" cy="449.8" r="5.2" fill="url(#gN)" opacity="0.90"/>
<circle cx="1525.2" cy="429.6" r="5.2" fill="url(#gN)" opacity="0.90"/>
<circle cx="1535.7" cy="522.7" r="5.2" fill="url(#gB)" opacity="0.90"/>
<circle cx="1530.6" cy="517.8" r="5.2" fill="url(#gN)" opacity="0.90"/>
<circle cx="1503.1" cy="463.1" r="5.2" fill="url(#gN)" opacity="0.90"/>
<circle cx="1559.4" cy="566.6" r="5.2" fill="url(#gN)" opacity="0.90"/>
<circle cx="1590.2" cy="419.4" r="5.2" fill="url(#gB)" opacity="0.91"/>
<circle cx="1534.9" cy="457.4" r="5.2" fill="url(#gN)" opacity="0.91"/>
<circle cx="1512.1" cy="476.1" r="5.2" fill="url(#gN)" opacity="0.91"/>
<circle cx="1535.8" cy="559.2" r="5.2" fill="url(#gB)" opacity="0.91"/>
<circle cx="1623.5" cy="553.2" r="5.2" fill="url(#gB)" opacity="0.91"/>
<circle cx="1575.4" cy="513.2" r="5.2" fill="url(#gN)" opacity="0.91"/>
<circle cx="1575.9" cy="420.5" r="5.2" fill="url(#gN)" opacity="0.91"/>
<circle cx="1604.0" cy="547.3" r="5.2" fill="url(#gB)" opacity="0.91"/>
<circle cx="1556.4" cy="544.5" r="5.2" fill="url(#gB)" opacity="0.91"/>
<circle cx="1544.5" cy="581.2" r="5.2" fill="url(#gB)" opacity="0.91"/>
<circle cx="1548.5" cy="474.5" r="5.2" fill="url(#gB)" opacity="0.91"/>
<circle cx="1497.7" cy="528.9" r="5.2" fill="url(#gB)" opacity="0.91"/>
<circle cx="1499.8" cy="423.3" r="5.2" fill="url(#gB)" opacity="0.91"/>
<circle cx="1517.0" cy="483.4" r="5.2" fill="url(#gB)" opacity="0.91"/>
<circle cx="1618.7" cy="476.3" r="5.2" fill="url(#gN)" opacity="0.91"/>
<circle cx="1589.2" cy="434.7" r="5.2" fill="url(#gB)" opacity="0.91"/>
<circle cx="1541.8" cy="513.4" r="5.2" fill="url(#gB)" opacity="0.91"/>
<circle cx="1622.0" cy="526.8" r="5.2" fill="url(#gN)" opacity="0.91"/>
<circle cx="1493.7" cy="543.0" r="5.2" fill="url(#gN)" opacity="0.92"/>
<circle cx="1492.5" cy="483.3" r="5.3" fill="url(#gN)" opacity="0.92"/>
<circle cx="1544.1" cy="529.2" r="5.3" fill="url(#gB)" opacity="0.92"/>
<circle cx="1634.8" cy="459.9" r="5.3" fill="url(#gB)" opacity="0.92"/>
<circle cx="1473.7" cy="441.0" r="5.3" fill="url(#gB)" opacity="0.92"/>
<circle cx="1564.6" cy="580.3" r="5.3" fill="url(#gB)" opacity="0.92"/>
<circle cx="1566.0" cy="530.8" r="5.3" fill="url(#gB)" opacity="0.92"/>
<circle cx="1502.6" cy="571.9" r="5.3" fill="url(#gB)" opacity="0.92"/>
<circle cx="1527.2" cy="549.3" r="5.3" fill="url(#gN)" opacity="0.92"/>
<circle cx="1555.5" cy="518.1" r="5.3" fill="url(#gN)" opacity="0.92"/>
<circle cx="1538.8" cy="482.4" r="5.3" fill="url(#gN)" opacity="0.92"/>
<circle cx="1518.9" cy="544.9" r="5.3" fill="url(#gB)" opacity="0.92"/>
<circle cx="1489.3" cy="583.6" r="5.3" fill="url(#gB)" opacity="0.92"/>
<circle cx="1516.2" cy="563.0" r="5.3" fill="url(#gN)" opacity="0.92"/>
<circle cx="1592.8" cy="470.5" r="5.3" fill="url(#gB)" opacity="0.92"/>
<circle cx="1585.4" cy="522.3" r="5.3" fill="url(#gN)" opacity="0.92"/>
<circle cx="1496.7" cy="433.4" r="5.3" fill="url(#gN)" opacity="0.92"/>
<circle cx="1584.4" cy="426.7" r="5.3" fill="url(#gN)" opacity="0.93"/>
<circle cx="1597.4" cy="424.2" r="5.3" fill="url(#gN)" opacity="0.93"/>
<circle cx="1506.9" cy="598.3" r="5.3" fill="url(#gN)" opacity="0.93"/>
<circle cx="1604.3" cy="581.0" r="5.3" fill="url(#gB)" opacity="0.93"/>
<circle cx="1541.4" cy="492.2" r="5.3" fill="url(#gB)" opacity="0.93"/>
<circle cx="1626.0" cy="431.3" r="5.3" fill="url(#gB)" opacity="0.93"/>
<circle cx="1486.2" cy="562.7" r="5.3" fill="url(#gB)" opacity="0.93"/>
<circle cx="1627.4" cy="451.0" r="5.3" fill="url(#gN)" opacity="0.93"/>
<circle cx="1639.2" cy="576.9" r="5.3" fill="url(#gN)" opacity="0.93"/>
<circle cx="1507.4" cy="432.5" r="5.3" fill="url(#gN)" opacity="0.93"/>
<circle cx="1644.8" cy="474.0" r="5.3" fill="url(#gB)" opacity="0.93"/>
<circle cx="1605.5" cy="504.0" r="5.3" fill="url(#gN)" opacity="0.93"/>
<circle cx="1614.3" cy="453.1" r="5.3" fill="url(#gB)" opacity="0.93"/>
<circle cx="1592.8" cy="560.3" r="5.3" fill="url(#gN)" opacity="0.93"/>
<circle cx="1593.0" cy="581.0" r="5.3" fill="url(#gB)" opacity="0.93"/>
<circle cx="1576.0" cy="440.6" r="5.3" fill="url(#gN)" opacity="0.93"/>
<circle cx="1479.8" cy="573.0" r="5.3" fill="url(#gN)" opacity="0.93"/>
<circle cx="1564.2" cy="482.8" r="5.3" fill="url(#gN)" opacity="0.93"/>
<circle cx="1565.5" cy="453.6" r="5.3" fill="url(#gB)" opacity="0.93"/>
<circle cx="1546.8" cy="485.6" r="5.3" fill="url(#gB)" opacity="0.94"/>
<circle cx="1515.1" cy="581.9" r="5.3" fill="url(#gB)" opacity="0.94"/>
<circle cx="1630.8" cy="519.0" r="5.3" fill="url(#gB)" opacity="0.94"/>
<circle cx="1624.2" cy="488.2" r="5.3" fill="url(#gB)" opacity="0.94"/>
<circle cx="1518.4" cy="452.6" r="5.3" fill="url(#gB)" opacity="0.94"/>
<circle cx="1613.5" cy="486.5" r="5.3" fill="url(#gN)" opacity="0.94"/>
<circle cx="1575.2" cy="462.2" r="5.3" fill="url(#gN)" opacity="0.94"/>
<circle cx="1504.5" cy="442.9" r="5.3" fill="url(#gN)" opacity="0.94"/>
<circle cx="1591.3" cy="447.2" r="5.3" fill="url(#gB)" opacity="0.94"/>
<circle cx="1489.4" cy="461.8" r="5.4" fill="url(#gB)" opacity="0.94"/>
<circle cx="1591.5" cy="513.9" r="5.4" fill="url(#gN)" opacity="0.94"/>
<circle cx="1501.9" cy="504.9" r="5.4" fill="url(#gB)" opacity="0.94"/>
<circle cx="1617.5" cy="586.7" r="5.4" fill="url(#gN)" opacity="0.94"/>
<circle cx="1572.0" cy="595.6" r="5.4" fill="url(#gN)" opacity="0.94"/>
<circle cx="1596.4" cy="540.7" r="5.4" fill="url(#gB)" opacity="0.94"/>
<circle cx="1649.0" cy="484.1" r="5.4" fill="url(#gB)" opacity="0.94"/>
<circle cx="1616.8" cy="538.6" r="5.4" fill="url(#gN)" opacity="0.94"/>
<circle cx="1508.4" cy="469.5" r="5.4" fill="url(#gB)" opacity="0.94"/>
<circle cx="1505.1" cy="520.9" r="5.4" fill="url(#gN)" opacity="0.94"/>
<circle cx="1565.1" cy="437.3" r="5.4" fill="url(#gN)" opacity="0.94"/>
<circle cx="1653.1" cy="446.4" r="5.4" fill="url(#gN)" opacity="0.94"/>
<circle cx="1632.9" cy="540.3" r="5.4" fill="url(#gN)" opacity="0.95"/>
<circle cx="1574.8" cy="581.5" r="5.4" fill="url(#gB)" opacity="0.95"/>
<circle cx="1632.9" cy="472.6" r="5.4" fill="url(#gB)" opacity="0.95"/>
<circle cx="1633.5" cy="589.3" r="5.4" fill="url(#gB)" opacity="0.95"/>
<circle cx="1586.5" cy="574.4" r="5.4" fill="url(#gN)" opacity="0.95"/>
<circle cx="1636.2" cy="436.5" r="5.4" fill="url(#gN)" opacity="0.95"/>
<circle cx="1602.2" cy="493.7" r="5.4" fill="url(#gN)" opacity="0.95"/>
<circle cx="1523.8" cy="489.1" r="5.4" fill="url(#gN)" opacity="0.95"/>
<circle cx="1585.7" cy="489.1" r="5.4" fill="url(#gB)" opacity="0.95"/>
<circle cx="1625.5" cy="571.0" r="5.4" fill="url(#gN)" opacity="0.95"/>
<circle cx="1638.7" cy="452.3" r="5.4" fill="url(#gB)" opacity="0.95"/>
<circle cx="1565.3" cy="552.8" r="5.4" fill="url(#gN)" opacity="0.96"/>
<circle cx="1647.3" cy="463.9" r="5.4" fill="url(#gN)" opacity="0.96"/>
<circle cx="1540.6" cy="564.4" r="5.4" fill="url(#gB)" opacity="0.96"/>
<circle cx="1652.7" cy="477.4" r="5.4" fill="url(#gN)" opacity="0.96"/>
<circle cx="1611.4" cy="524.1" r="5.4" fill="url(#gN)" opacity="0.96"/>
<circle cx="1528.6" cy="584.8" r="5.4" fill="url(#gN)" opacity="0.96"/>
<circle cx="1638.3" cy="514.9" r="5.4" fill="url(#gB)" opacity="0.96"/>
<circle cx="1554.8" cy="457.3" r="5.4" fill="url(#gN)" opacity="0.96"/>
<circle cx="1645.6" cy="435.0" r="5.4" fill="url(#gB)" opacity="0.96"/>
<circle cx="1607.9" cy="530.4" r="5.4" fill="url(#gN)" opacity="0.96"/>
<circle cx="1556.3" cy="578.4" r="5.4" fill="url(#gN)" opacity="0.96"/>
<circle cx="1661.6" cy="433.0" r="5.4" fill="url(#gN)" opacity="0.96"/>
<circle cx="1594.4" cy="592.2" r="5.5" fill="url(#gB)" opacity="0.96"/>
<circle cx="1625.3" cy="441.7" r="5.5" fill="url(#gB)" opacity="0.96"/>
<circle cx="1635.3" cy="549.3" r="5.5" fill="url(#gN)" opacity="0.97"/>
<circle cx="1561.3" cy="505.1" r="5.5" fill="url(#gN)" opacity="0.97"/>
<circle cx="1522.6" cy="467.9" r="5.5" fill="url(#gB)" opacity="0.97"/>
<circle cx="1577.8" cy="554.4" r="5.5" fill="url(#gN)" opacity="0.97"/>
<circle cx="1546.0" cy="572.1" r="5.5" fill="url(#gN)" opacity="0.97"/>
<circle cx="1603.2" cy="599.0" r="5.5" fill="url(#gB)" opacity="0.97"/>
<circle cx="1552.2" cy="613.8" r="5.5" fill="url(#gB)" opacity="0.97"/>
<circle cx="1627.7" cy="545.4" r="5.5" fill="url(#gB)" opacity="0.97"/>
<circle cx="1526.4" cy="507.0" r="5.5" fill="url(#gN)" opacity="0.97"/>
<circle cx="1577.1" cy="471.0" r="5.5" fill="url(#gB)" opacity="0.97"/>
<circle cx="1569.3" cy="544.2" r="5.5" fill="url(#gN)" opacity="0.97"/>
<circle cx="1652.5" cy="511.1" r="5.5" fill="url(#gB)" opacity="0.97"/>
<circle cx="1519.2" cy="501.1" r="5.5" fill="url(#gB)" opacity="0.97"/>
<circle cx="1567.7" cy="490.2" r="5.5" fill="url(#gB)" opacity="0.97"/>
<circle cx="1585.8" cy="478.1" r="5.5" fill="url(#gB)" opacity="0.97"/>
<circle cx="1620.7" cy="545.4" r="5.5" fill="url(#gB)" opacity="0.97"/>
<circle cx="1652.7" cy="530.6" r="5.5" fill="url(#gN)" opacity="0.97"/>
<circle cx="1657.1" cy="577.1" r="5.5" fill="url(#gB)" opacity="0.97"/>
<circle cx="1639.8" cy="489.2" r="5.5" fill="url(#gN)" opacity="0.97"/>
<circle cx="1527.9" cy="577.1" r="5.5" fill="url(#gN)" opacity="0.97"/>
<circle cx="1617.2" cy="509.8" r="5.5" fill="url(#gN)" opacity="0.97"/>
<circle cx="1552.5" cy="597.0" r="5.5" fill="url(#gB)" opacity="0.97"/>
<circle cx="1498.4" cy="513.1" r="5.5" fill="url(#gN)" opacity="0.97"/>
<circle cx="1666.4" cy="471.8" r="5.5" fill="url(#gN)" opacity="0.97"/>
<circle cx="1660.7" cy="484.2" r="5.5" fill="url(#gB)" opacity="0.97"/>
<circle cx="1508.9" cy="614.9" r="5.5" fill="url(#gB)" opacity="0.97"/>
<circle cx="1584.5" cy="505.3" r="5.5" fill="url(#gN)" opacity="0.97"/>
<circle cx="1612.7" cy="546.9" r="5.5" fill="url(#gN)" opacity="0.97"/>
<circle cx="1505.9" cy="487.7" r="5.5" fill="url(#gN)" opacity="0.97"/>
<circle cx="1658.8" cy="569.2" r="5.5" fill="url(#gN)" opacity="0.98"/>
<circle cx="1570.1" cy="573.8" r="5.5" fill="url(#gB)" opacity="0.98"/>
<circle cx="1628.9" cy="505.3" r="5.5" fill="url(#gB)" opacity="0.98"/>
<circle cx="1514.6" cy="495.8" r="5.5" fill="url(#gB)" opacity="0.98"/>
<circle cx="1550.4" cy="509.8" r="5.5" fill="url(#gN)" opacity="0.98"/>
<circle cx="1537.0" cy="471.3" r="5.5" fill="url(#gN)" opacity="0.98"/>
<circle cx="1579.3" cy="592.5" r="5.5" fill="url(#gB)" opacity="0.98"/>
<circle cx="1596.8" cy="461.3" r="5.5" fill="url(#gN)" opacity="0.98"/>
<circle cx="1603.0" cy="588.8" r="5.5" fill="url(#gN)" opacity="0.98"/>
<circle cx="1601.3" cy="560.8" r="5.5" fill="url(#gB)" opacity="0.98"/>
<circle cx="1659.5" cy="525.9" r="5.5" fill="url(#gB)" opacity="0.98"/>
<circle cx="1565.3" cy="496.9" r="5.5" fill="url(#gB)" opacity="0.98"/>
<circle cx="1606.2" cy="452.1" r="5.5" fill="url(#gB)" opacity="0.98"/>
<circle cx="1556.3" cy="472.8" r="5.5" fill="url(#gN)" opacity="0.98"/>
<circle cx="1667.5" cy="541.1" r="5.5" fill="url(#gN)" opacity="0.98"/>
<circle cx="1663.9" cy="448.5" r="5.5" fill="url(#gN)" opacity="0.98"/>
<circle cx="1553.5" cy="537.5" r="5.5" fill="url(#gN)" opacity="0.98"/>
<circle cx="1668.2" cy="521.1" r="5.5" fill="url(#gN)" opacity="0.98"/>
<circle cx="1535.4" cy="625.7" r="5.5" fill="url(#gB)" opacity="0.98"/>
<circle cx="1530.6" cy="615.3" r="5.5" fill="url(#gB)" opacity="0.98"/>
<circle cx="1549.0" cy="603.8" r="5.5" fill="url(#gB)" opacity="0.98"/>
<circle cx="1666.3" cy="503.6" r="5.5" fill="url(#gB)" opacity="0.98"/>
<circle cx="1620.6" cy="499.6" r="5.5" fill="url(#gN)" opacity="0.99"/>
<circle cx="1518.3" cy="606.5" r="5.5" fill="url(#gN)" opacity="0.99"/>
<circle cx="1607.2" cy="539.8" r="5.5" fill="url(#gN)" opacity="0.99"/>
<circle cx="1607.4" cy="459.8" r="5.5" fill="url(#gN)" opacity="0.99"/>
<circle cx="1542.2" cy="605.5" r="5.5" fill="url(#gB)" opacity="0.99"/>
<circle cx="1575.8" cy="566.8" r="5.5" fill="url(#gB)" opacity="0.99"/>
<circle cx="1532.2" cy="600.5" r="5.6" fill="url(#gN)" opacity="0.99"/>
<circle cx="1572.7" cy="520.2" r="5.6" fill="url(#gN)" opacity="0.99"/>
<circle cx="1643.9" cy="583.0" r="5.6" fill="url(#gN)" opacity="0.99"/>
<circle cx="1645.6" cy="591.5" r="5.6" fill="url(#gN)" opacity="0.99"/>
<circle cx="1658.0" cy="588.2" r="5.6" fill="url(#gB)" opacity="0.99"/>
<circle cx="1540.2" cy="545.6" r="5.6" fill="url(#gN)" opacity="0.99"/>
<circle cx="1563.3" cy="471.1" r="5.6" fill="url(#gN)" opacity="0.99"/>
<circle cx="1671.7" cy="532.8" r="5.6" fill="url(#gN)" opacity="0.99"/>
<circle cx="1525.1" cy="559.7" r="5.6" fill="url(#gN)" opacity="0.99"/>
<circle cx="1538.3" cy="591.5" r="5.6" fill="url(#gN)" opacity="0.99"/>
<circle cx="1668.6" cy="454.3" r="5.6" fill="url(#gN)" opacity="0.99"/>
<circle cx="1622.2" cy="579.4" r="5.6" fill="url(#gB)" opacity="0.99"/>
<circle cx="1569.7" cy="610.5" r="5.6" fill="url(#gN)" opacity="0.99"/>
<circle cx="1640.3" cy="603.2" r="5.6" fill="url(#gN)" opacity="0.99"/>
<circle cx="1513.2" cy="508.8" r="5.6" fill="url(#gB)" opacity="0.99"/>
<circle cx="1607.4" cy="606.8" r="5.6" fill="url(#gB)" opacity="0.99"/>
<circle cx="1619.0" cy="518.9" r="5.6" fill="url(#gN)" opacity="0.99"/>
<circle cx="1669.7" cy="557.7" r="5.6" fill="url(#gN)" opacity="1.00"/>
<circle cx="1658.2" cy="544.9" r="5.6" fill="url(#gB)" opacity="1.00"/>
<circle cx="1580.9" cy="624.2" r="5.6" fill="url(#gB)" opacity="1.00"/>
<circle cx="1616.4" cy="557.3" r="5.6" fill="url(#gB)" opacity="1.00"/>
<circle cx="1635.7" cy="611.4" r="5.6" fill="url(#gN)" opacity="1.00"/>
<circle cx="1659.3" cy="597.6" r="5.6" fill="url(#gN)" opacity="1.00"/>
<circle cx="1677.5" cy="486.7" r="5.6" fill="url(#gN)" opacity="1.00"/>
<circle cx="1670.4" cy="550.1" r="5.6" fill="url(#gN)" opacity="1.00"/>
<line x1="1450.9" y1="411.9" x2="1619.8" y2="391.2" stroke="#ff2222" stroke-width="2.2" stroke-linecap="round"/>
<line x1="1450.9" y1="580.0" x2="1619.8" y2="558.4" stroke="#ff2222" stroke-width="2.2" stroke-linecap="round"/>
<line x1="1512.1" y1="468.8" x2="1681.9" y2="449.0" stroke="#ff2222" stroke-width="2.2" stroke-linecap="round"/>
<line x1="1512.9" y1="637.8" x2="1681.9" y2="617.9" stroke="#ff2222" stroke-width="2.2" stroke-linecap="round"/>
<line x1="1450.9" y1="411.9" x2="1450.9" y2="580.0" stroke="#ff2222" stroke-width="2.2" stroke-linecap="round"/>
<line x1="1619.8" y1="391.2" x2="1619.8" y2="558.4" stroke="#ff2222" stroke-width="2.2" stroke-linecap="round"/>
<line x1="1512.1" y1="468.8" x2="1512.9" y2="637.8" stroke="#ff2222" stroke-width="2.2" stroke-linecap="round"/>
<line x1="1681.9" y1="449.0" x2="1681.9" y2="617.9" stroke="#ff2222" stroke-width="2.2" stroke-linecap="round"/>
<line x1="1450.9" y1="411.9" x2="1512.1" y2="468.8" stroke="#ff2222" stroke-width="2.2" stroke-linecap="round"/>
<line x1="1619.8" y1="391.2" x2="1681.9" y2="449.0" stroke="#ff2222" stroke-width="2.2" stroke-linecap="round"/>
<line x1="1450.9" y1="580.0" x2="1512.9" y2="637.8" stroke="#ff2222" stroke-width="2.2" stroke-linecap="round"/>
<line x1="1619.8" y1="558.4" x2="1681.9" y2="617.9" stroke="#ff2222" stroke-width="2.2" stroke-linecap="round"/>
<text transform="translate(1439.7,520.0) rotate(-90) scale(1.08,1)" text-anchor="middle" font-family="Liberation Sans, Arial, sans-serif" font-weight="bold" font-size="30.5" fill="#c80000">U-Q</text>
<rect x="1706.7" y="397.4" width="238.70000000000005" height="250.60000000000002" fill="#ffffff" fill-opacity="0.12"/>
<circle cx="1730.6" cy="545.7" r="5.1" fill="url(#gB)" opacity="0.88"/>
<circle cx="1830.3" cy="563.5" r="5.1" fill="url(#gN)" opacity="0.88"/>
<circle cx="1740.4" cy="578.4" r="5.1" fill="url(#gN)" opacity="0.88"/>
<circle cx="1858.9" cy="517.6" r="5.1" fill="url(#gB)" opacity="0.88"/>
<circle cx="1797.9" cy="416.3" r="5.1" fill="url(#gN)" opacity="0.88"/>
<circle cx="1757.0" cy="423.7" r="5.1" fill="url(#gN)" opacity="0.88"/>
<circle cx="1725.4" cy="527.2" r="5.1" fill="url(#gB)" opacity="0.88"/>
<circle cx="1835.9" cy="567.9" r="5.1" fill="url(#gB)" opacity="0.88"/>
<circle cx="1782.5" cy="434.3" r="5.1" fill="url(#gN)" opacity="0.88"/>
<circle cx="1776.8" cy="517.5" r="5.1" fill="url(#gN)" opacity="0.88"/>
<circle cx="1778.3" cy="491.4" r="5.1" fill="url(#gN)" opacity="0.89"/>
<circle cx="1827.4" cy="487.5" r="5.1" fill="url(#gB)" opacity="0.89"/>
<circle cx="1847.7" cy="465.6" r="5.1" fill="url(#gB)" opacity="0.89"/>
<circle cx="1714.1" cy="592.9" r="5.1" fill="url(#gB)" opacity="0.89"/>
<circle cx="1813.3" cy="472.3" r="5.1" fill="url(#gN)" opacity="0.89"/>
<circle cx="1880.0" cy="447.3" r="5.1" fill="url(#gB)" opacity="0.89"/>
<circle cx="1805.6" cy="505.1" r="5.1" fill="url(#gN)" opacity="0.89"/>
<circle cx="1809.4" cy="539.0" r="5.1" fill="url(#gB)" opacity="0.89"/>
<circle cx="1752.1" cy="418.5" r="5.1" fill="url(#gB)" opacity="0.89"/>
<circle cx="1873.5" cy="526.3" r="5.1" fill="url(#gN)" opacity="0.89"/>
<circle cx="1846.6" cy="409.0" r="5.1" fill="url(#gN)" opacity="0.89"/>
<circle cx="1821.8" cy="573.6" r="5.1" fill="url(#gN)" opacity="0.89"/>
<circle cx="1856.5" cy="457.9" r="5.2" fill="url(#gB)" opacity="0.89"/>
<circle cx="1886.1" cy="562.0" r="5.2" fill="url(#gB)" opacity="0.89"/>
<circle cx="1716.7" cy="537.3" r="5.2" fill="url(#gN)" opacity="0.89"/>
<circle cx="1852.3" cy="545.3" r="5.2" fill="url(#gB)" opacity="0.89"/>
<circle cx="1866.6" cy="428.2" r="5.2" fill="url(#gB)" opacity="0.90"/>
<circle cx="1861.4" cy="452.8" r="5.2" fill="url(#gB)" opacity="0.90"/>
<circle cx="1812.1" cy="427.3" r="5.2" fill="url(#gN)" opacity="0.90"/>
<circle cx="1887.5" cy="528.6" r="5.2" fill="url(#gN)" opacity="0.90"/>
<circle cx="1898.0" cy="488.5" r="5.2" fill="url(#gB)" opacity="0.90"/>
<circle cx="1718.8" cy="493.1" r="5.2" fill="url(#gN)" opacity="0.90"/>
<circle cx="1838.5" cy="468.0" r="5.2" fill="url(#gB)" opacity="0.90"/>
<circle cx="1883.9" cy="475.1" r="5.2" fill="url(#gB)" opacity="0.90"/>
<circle cx="1823.8" cy="429.8" r="5.2" fill="url(#gN)" opacity="0.90"/>
<circle cx="1793.1" cy="525.9" r="5.2" fill="url(#gB)" opacity="0.90"/>
<circle cx="1792.2" cy="596.5" r="5.2" fill="url(#gN)" opacity="0.90"/>
<circle cx="1860.5" cy="412.9" r="5.2" fill="url(#gN)" opacity="0.90"/>
<circle cx="1771.6" cy="463.0" r="5.2" fill="url(#gB)" opacity="0.90"/>
<circle cx="1758.7" cy="484.5" r="5.2" fill="url(#gN)" opacity="0.90"/>
<circle cx="1814.5" cy="509.5" r="5.2" fill="url(#gN)" opacity="0.90"/>
<circle cx="1739.1" cy="476.2" r="5.2" fill="url(#gN)" opacity="0.90"/>
<circle cx="1790.9" cy="428.3" r="5.2" fill="url(#gN)" opacity="0.90"/>
<circle cx="1765.1" cy="533.7" r="5.2" fill="url(#gB)" opacity="0.90"/>
<circle cx="1732.8" cy="484.5" r="5.2" fill="url(#gN)" opacity="0.90"/>
<circle cx="1821.9" cy="479.8" r="5.2" fill="url(#gB)" opacity="0.90"/>
<circle cx="1867.9" cy="420.9" r="5.2" fill="url(#gB)" opacity="0.90"/>
<circle cx="1735.1" cy="517.3" r="5.2" fill="url(#gB)" opacity="0.90"/>
<circle cx="1745.8" cy="598.7" r="5.2" fill="url(#gN)" opacity="0.91"/>
<circle cx="1840.3" cy="437.5" r="5.2" fill="url(#gN)" opacity="0.91"/>
<circle cx="1764.0" cy="501.7" r="5.2" fill="url(#gN)" opacity="0.91"/>
<circle cx="1892.4" cy="570.1" r="5.2" fill="url(#gN)" opacity="0.91"/>
<circle cx="1833.0" cy="427.9" r="5.2" fill="url(#gN)" opacity="0.91"/>
<circle cx="1776.8" cy="425.6" r="5.2" fill="url(#gN)" opacity="0.91"/>
<circle cx="1868.2" cy="481.0" r="5.2" fill="url(#gB)" opacity="0.91"/>
<circle cx="1803.9" cy="427.0" r="5.2" fill="url(#gB)" opacity="0.91"/>
<circle cx="1864.7" cy="527.9" r="5.2" fill="url(#gN)" opacity="0.91"/>
<circle cx="1736.9" cy="595.4" r="5.2" fill="url(#gN)" opacity="0.91"/>
<circle cx="1796.3" cy="564.6" r="5.2" fill="url(#gN)" opacity="0.91"/>
<circle cx="1896.1" cy="524.4" r="5.2" fill="url(#gB)" opacity="0.91"/>
<circle cx="1790.2" cy="457.4" r="5.2" fill="url(#gB)" opacity="0.91"/>
<circle cx="1868.4" cy="461.0" r="5.2" fill="url(#gN)" opacity="0.91"/>
<circle cx="1741.2" cy="436.5" r="5.2" fill="url(#gB)" opacity="0.91"/>
<circle cx="1818.5" cy="515.6" r="5.2" fill="url(#gN)" opacity="0.91"/>
<circle cx="1814.9" cy="580.0" r="5.2" fill="url(#gB)" opacity="0.91"/>
<circle cx="1784.7" cy="473.0" r="5.2" fill="url(#gB)" opacity="0.91"/>
<circle cx="1789.0" cy="554.0" r="5.2" fill="url(#gB)" opacity="0.91"/>
<circle cx="1822.7" cy="449.7" r="5.2" fill="url(#gN)" opacity="0.91"/>
<circle cx="1757.4" cy="477.5" r="5.2" fill="url(#gN)" opacity="0.92"/>
<circle cx="1743.4" cy="585.1" r="5.2" fill="url(#gN)" opacity="0.92"/>
<circle cx="1749.5" cy="572.8" r="5.2" fill="url(#gN)" opacity="0.92"/>
<circle cx="1755.1" cy="578.9" r="5.2" fill="url(#gN)" opacity="0.92"/>
<circle cx="1825.6" cy="537.2" r="5.3" fill="url(#gN)" opacity="0.92"/>
<circle cx="1770.2" cy="570.3" r="5.3" fill="url(#gB)" opacity="0.92"/>
<circle cx="1887.0" cy="493.1" r="5.3" fill="url(#gB)" opacity="0.92"/>
<circle cx="1730.3" cy="497.8" r="5.3" fill="url(#gB)" opacity="0.92"/>
<circle cx="1779.3" cy="445.9" r="5.3" fill="url(#gN)" opacity="0.92"/>
<circle cx="1845.5" cy="452.8" r="5.3" fill="url(#gN)" opacity="0.92"/>
<circle cx="1771.2" cy="435.8" r="5.3" fill="url(#gN)" opacity="0.92"/>
<circle cx="1894.4" cy="543.6" r="5.3" fill="url(#gB)" opacity="0.92"/>
<circle cx="1727.8" cy="509.1" r="5.3" fill="url(#gN)" opacity="0.92"/>
<circle cx="1840.7" cy="533.4" r="5.3" fill="url(#gB)" opacity="0.92"/>
<circle cx="1771.0" cy="595.4" r="5.3" fill="url(#gB)" opacity="0.92"/>
<circle cx="1792.8" cy="487.5" r="5.3" fill="url(#gB)" opacity="0.92"/>
<circle cx="1850.2" cy="422.2" r="5.3" fill="url(#gB)" opacity="0.92"/>
<circle cx="1762.5" cy="512.7" r="5.3" fill="url(#gN)" opacity="0.92"/>
<circle cx="1909.5" cy="421.1" r="5.3" fill="url(#gB)" opacity="0.92"/>
<circle cx="1895.5" cy="588.4" r="5.3" fill="url(#gN)" opacity="0.92"/>
<circle cx="1814.4" cy="570.5" r="5.3" fill="url(#gN)" opacity="0.92"/>
<circle cx="1874.7" cy="457.0" r="5.3" fill="url(#gN)" opacity="0.92"/>
<circle cx="1877.9" cy="471.4" r="5.3" fill="url(#gN)" opacity="0.93"/>
<circle cx="1743.2" cy="541.8" r="5.3" fill="url(#gN)" opacity="0.93"/>
<circle cx="1899.6" cy="436.8" r="5.3" fill="url(#gB)" opacity="0.93"/>
<circle cx="1882.6" cy="453.9" r="5.3" fill="url(#gB)" opacity="0.93"/>
<circle cx="1818.4" cy="458.9" r="5.3" fill="url(#gB)" opacity="0.93"/>
<circle cx="1855.3" cy="479.7" r="5.3" fill="url(#gB)" opacity="0.93"/>
<circle cx="1865.1" cy="592.5" r="5.3" fill="url(#gB)" opacity="0.93"/>
<circle cx="1851.7" cy="441.7" r="5.3" fill="url(#gN)" opacity="0.93"/>
<circle cx="1870.5" cy="472.9" r="5.3" fill="url(#gB)" opacity="0.93"/>
<circle cx="1801.8" cy="516.0" r="5.3" fill="url(#gN)" opacity="0.93"/>
<circle cx="1838.2" cy="542.5" r="5.3" fill="url(#gN)" opacity="0.93"/>
<circle cx="1891.2" cy="430.4" r="5.3" fill="url(#gN)" opacity="0.93"/>
<circle cx="1794.6" cy="607.3" r="5.3" fill="url(#gN)" opacity="0.93"/>
<circle cx="1811.0" cy="442.3" r="5.3" fill="url(#gN)" opacity="0.93"/>
<circle cx="1746.7" cy="527.1" r="5.3" fill="url(#gN)" opacity="0.93"/>
<circle cx="1824.9" cy="494.4" r="5.3" fill="url(#gB)" opacity="0.93"/>
<circle cx="1840.0" cy="585.2" r="5.3" fill="url(#gN)" opacity="0.93"/>
<circle cx="1798.6" cy="432.0" r="5.3" fill="url(#gN)" opacity="0.94"/>
<circle cx="1734.8" cy="610.0" r="5.3" fill="url(#gN)" opacity="0.94"/>
<circle cx="1760.0" cy="520.0" r="5.3" fill="url(#gB)" opacity="0.94"/>
<circle cx="1839.9" cy="550.0" r="5.3" fill="url(#gN)" opacity="0.94"/>
<circle cx="1884.0" cy="432.4" r="5.3" fill="url(#gN)" opacity="0.94"/>
<circle cx="1771.0" cy="613.7" r="5.3" fill="url(#gB)" opacity="0.94"/>
<circle cx="1823.2" cy="553.7" r="5.3" fill="url(#gB)" opacity="0.94"/>
<circle cx="1832.8" cy="594.3" r="5.3" fill="url(#gN)" opacity="0.94"/>
<circle cx="1801.4" cy="483.6" r="5.3" fill="url(#gN)" opacity="0.94"/>
<circle cx="1747.0" cy="506.2" r="5.3" fill="url(#gB)" opacity="0.94"/>
<circle cx="1910.4" cy="602.4" r="5.3" fill="url(#gB)" opacity="0.94"/>
<circle cx="1829.8" cy="545.3" r="5.3" fill="url(#gB)" opacity="0.94"/>
<circle cx="1754.7" cy="557.8" r="5.3" fill="url(#gN)" opacity="0.94"/>
<circle cx="1857.8" cy="610.7" r="5.3" fill="url(#gN)" opacity="0.94"/>
<circle cx="1755.4" cy="529.5" r="5.3" fill="url(#gB)" opacity="0.94"/>
<circle cx="1820.8" cy="438.2" r="5.3" fill="url(#gB)" opacity="0.94"/>
<circle cx="1852.4" cy="497.1" r="5.3" fill="url(#gB)" opacity="0.94"/>
<circle cx="1825.6" cy="521.6" r="5.4" fill="url(#gB)" opacity="0.94"/>
<circle cx="1805.7" cy="531.7" r="5.4" fill="url(#gN)" opacity="0.94"/>
<circle cx="1854.1" cy="508.9" r="5.4" fill="url(#gN)" opacity="0.94"/>
<circle cx="1816.0" cy="603.0" r="5.4" fill="url(#gB)" opacity="0.94"/>
<circle cx="1784.5" cy="540.9" r="5.4" fill="url(#gN)" opacity="0.94"/>
<circle cx="1755.8" cy="460.9" r="5.4" fill="url(#gB)" opacity="0.94"/>
<circle cx="1826.5" cy="443.6" r="5.4" fill="url(#gB)" opacity="0.94"/>
<circle cx="1823.7" cy="595.3" r="5.4" fill="url(#gB)" opacity="0.94"/>
<circle cx="1772.2" cy="602.4" r="5.4" fill="url(#gB)" opacity="0.94"/>
<circle cx="1912.3" cy="469.5" r="5.4" fill="url(#gB)" opacity="0.94"/>
<circle cx="1744.4" cy="606.4" r="5.4" fill="url(#gN)" opacity="0.94"/>
<circle cx="1845.6" cy="487.6" r="5.4" fill="url(#gN)" opacity="0.95"/>
<circle cx="1875.0" cy="464.3" r="5.4" fill="url(#gN)" opacity="0.95"/>
<circle cx="1759.6" cy="445.7" r="5.4" fill="url(#gB)" opacity="0.95"/>
<circle cx="1748.4" cy="492.0" r="5.4" fill="url(#gN)" opacity="0.95"/>
<circle cx="1888.0" cy="546.8" r="5.4" fill="url(#gB)" opacity="0.95"/>
<circle cx="1799.6" cy="552.8" r="5.4" fill="url(#gB)" opacity="0.95"/>
<circle cx="1784.1" cy="563.4" r="5.4" fill="url(#gN)" opacity="0.95"/>
<circle cx="1808.6" cy="484.5" r="5.4" fill="url(#gB)" opacity="0.95"/>
<circle cx="1883.6" cy="482.5" r="5.4" fill="url(#gB)" opacity="0.95"/>
<circle cx="1888.7" cy="442.2" r="5.4" fill="url(#gB)" opacity="0.95"/>
<circle cx="1802.0" cy="574.9" r="5.4" fill="url(#gB)" opacity="0.95"/>
<circle cx="1906.7" cy="565.3" r="5.4" fill="url(#gB)" opacity="0.95"/>
<circle cx="1806.3" cy="602.2" r="5.4" fill="url(#gB)" opacity="0.95"/>
<circle cx="1765.2" cy="458.0" r="5.4" fill="url(#gB)" opacity="0.95"/>
<circle cx="1920.7" cy="452.6" r="5.4" fill="url(#gB)" opacity="0.95"/>
<circle cx="1875.7" cy="556.3" r="5.4" fill="url(#gB)" opacity="0.95"/>
<circle cx="1908.4" cy="581.5" r="5.4" fill="url(#gB)" opacity="0.95"/>
<circle cx="1859.5" cy="579.0" r="5.4" fill="url(#gN)" opacity="0.96"/>
<circle cx="1879.9" cy="594.2" r="5.4" fill="url(#gB)" opacity="0.96"/>
<circle cx="1893.7" cy="498.4" r="5.4" fill="url(#gB)" opacity="0.96"/>
<circle cx="1793.7" cy="620.5" r="5.4" fill="url(#gN)" opacity="0.96"/>
<circle cx="1877.0" cy="533.2" r="5.4" fill="url(#gB)" opacity="0.96"/>
<circle cx="1886.5" cy="612.6" r="5.4" fill="url(#gB)" opacity="0.96"/>
<circle cx="1871.3" cy="544.9" r="5.4" fill="url(#gB)" opacity="0.96"/>
<circle cx="1856.7" cy="591.9" r="5.4" fill="url(#gB)" opacity="0.96"/>
<circle cx="1813.9" cy="524.7" r="5.4" fill="url(#gN)" opacity="0.96"/>
<circle cx="1861.9" cy="540.6" r="5.4" fill="url(#gN)" opacity="0.96"/>
<circle cx="1914.1" cy="436.0" r="5.4" fill="url(#gN)" opacity="0.96"/>
<circle cx="1837.5" cy="454.4" r="5.5" fill="url(#gB)" opacity="0.96"/>
<circle cx="1919.7" cy="515.8" r="5.5" fill="url(#gN)" opacity="0.96"/>
<circle cx="1861.9" cy="565.1" r="5.5" fill="url(#gB)" opacity="0.96"/>
<circle cx="1777.9" cy="557.1" r="5.5" fill="url(#gB)" opacity="0.96"/>
<circle cx="1897.2" cy="617.5" r="5.5" fill="url(#gB)" opacity="0.96"/>
<circle cx="1747.9" cy="476.4" r="5.5" fill="url(#gB)" opacity="0.97"/>
<circle cx="1830.9" cy="606.2" r="5.5" fill="url(#gN)" opacity="0.97"/>
<circle cx="1886.6" cy="619.8" r="5.5" fill="url(#gB)" opacity="0.97"/>
<circle cx="1767.4" cy="487.3" r="5.5" fill="url(#gN)" opacity="0.97"/>
<circle cx="1764.8" cy="470.6" r="5.5" fill="url(#gN)" opacity="0.97"/>
<circle cx="1910.9" cy="612.2" r="5.5" fill="url(#gB)" opacity="0.97"/>
<circle cx="1840.4" cy="512.6" r="5.5" fill="url(#gB)" opacity="0.97"/>
<circle cx="1908.6" cy="508.2" r="5.5" fill="url(#gB)" opacity="0.97"/>
<circle cx="1769.9" cy="553.6" r="5.5" fill="url(#gB)" opacity="0.97"/>
<circle cx="1905.2" cy="595.2" r="5.5" fill="url(#gN)" opacity="0.97"/>
<circle cx="1795.1" cy="465.7" r="5.5" fill="url(#gB)" opacity="0.97"/>
<circle cx="1900.1" cy="511.1" r="5.5" fill="url(#gN)" opacity="0.97"/>
<circle cx="1810.8" cy="456.7" r="5.5" fill="url(#gN)" opacity="0.97"/>
<circle cx="1874.7" cy="500.6" r="5.5" fill="url(#gB)" opacity="0.97"/>
<circle cx="1807.7" cy="585.0" r="5.5" fill="url(#gN)" opacity="0.97"/>
<circle cx="1906.3" cy="541.9" r="5.5" fill="url(#gB)" opacity="0.97"/>
<circle cx="1913.4" cy="497.5" r="5.5" fill="url(#gB)" opacity="0.97"/>
<circle cx="1810.9" cy="627.7" r="5.5" fill="url(#gN)" opacity="0.97"/>
<circle cx="1788.4" cy="575.2" r="5.5" fill="url(#gB)" opacity="0.97"/>
<circle cx="1819.2" cy="616.4" r="5.5" fill="url(#gN)" opacity="0.97"/>
<circle cx="1927.9" cy="518.3" r="5.5" fill="url(#gB)" opacity="0.97"/>
<circle cx="1920.3" cy="469.8" r="5.5" fill="url(#gN)" opacity="0.97"/>
<circle cx="1890.5" cy="453.8" r="5.5" fill="url(#gN)" opacity="0.97"/>
<circle cx="1754.9" cy="496.1" r="5.5" fill="url(#gN)" opacity="0.98"/>
<circle cx="1822.8" cy="504.3" r="5.5" fill="url(#gN)" opacity="0.98"/>
<circle cx="1757.5" cy="587.7" r="5.5" fill="url(#gB)" opacity="0.98"/>
<circle cx="1868.8" cy="509.7" r="5.5" fill="url(#gB)" opacity="0.98"/>
<circle cx="1779.5" cy="503.5" r="5.5" fill="url(#gB)" opacity="0.98"/>
<circle cx="1920.5" cy="525.3" r="5.5" fill="url(#gN)" opacity="0.98"/>
<circle cx="1826.8" cy="613.8" r="5.5" fill="url(#gB)" opacity="0.98"/>
<circle cx="1751.5" cy="627.3" r="5.5" fill="url(#gB)" opacity="0.98"/>
<circle cx="1933.2" cy="471.8" r="5.5" fill="url(#gN)" opacity="0.98"/>
<circle cx="1796.7" cy="477.1" r="5.5" fill="url(#gN)" opacity="0.98"/>
<circle cx="1897.6" cy="563.7" r="5.5" fill="url(#gN)" opacity="0.98"/>
<circle cx="1895.8" cy="516.8" r="5.5" fill="url(#gB)" opacity="0.98"/>
<circle cx="1881.1" cy="504.1" r="5.5" fill="url(#gN)" opacity="0.98"/>
<circle cx="1913.4" cy="546.9" r="5.5" fill="url(#gB)" opacity="0.98"/>
<circle cx="1923.6" cy="579.6" r="5.5" fill="url(#gB)" opacity="0.98"/>
<circle cx="1875.2" cy="619.1" r="5.5" fill="url(#gB)" opacity="0.98"/>
<circle cx="1779.2" cy="546.7" r="5.5" fill="url(#gN)" opacity="0.98"/>
<circle cx="1846.6" cy="475.8" r="5.5" fill="url(#gN)" opacity="0.98"/>
<circle cx="1900.5" cy="478.0" r="5.5" fill="url(#gB)" opacity="0.98"/>
<circle cx="1813.4" cy="590.3" r="5.5" fill="url(#gN)" opacity="0.98"/>
<circle cx="1773.9" cy="526.9" r="5.5" fill="url(#gN)" opacity="0.99"/>
<circle cx="1875.6" cy="604.5" r="5.5" fill="url(#gB)" opacity="0.99"/>
<circle cx="1917.9" cy="627.5" r="5.5" fill="url(#gB)" opacity="0.99"/>
<circle cx="1936.8" cy="530.1" r="5.5" fill="url(#gB)" opacity="0.99"/>
<circle cx="1831.8" cy="478.0" r="5.5" fill="url(#gN)" opacity="0.99"/>
<circle cx="1839.2" cy="575.5" r="5.6" fill="url(#gB)" opacity="0.99"/>
<circle cx="1773.3" cy="620.3" r="5.6" fill="url(#gN)" opacity="0.99"/>
<circle cx="1847.0" cy="626.2" r="5.6" fill="url(#gN)" opacity="0.99"/>
<circle cx="1779.6" cy="464.3" r="5.6" fill="url(#gB)" opacity="0.99"/>
<circle cx="1870.7" cy="492.0" r="5.6" fill="url(#gN)" opacity="0.99"/>
<circle cx="1773.5" cy="581.4" r="5.6" fill="url(#gN)" opacity="0.99"/>
<circle cx="1922.6" cy="538.8" r="5.6" fill="url(#gN)" opacity="0.99"/>
<circle cx="1786.0" cy="514.4" r="5.6" fill="url(#gN)" opacity="0.99"/>
<circle cx="1824.6" cy="631.6" r="5.6" fill="url(#gN)" opacity="0.99"/>
<circle cx="1863.4" cy="500.8" r="5.6" fill="url(#gB)" opacity="0.99"/>
<circle cx="1848.7" cy="562.3" r="5.6" fill="url(#gN)" opacity="0.99"/>
<circle cx="1852.9" cy="570.2" r="5.6" fill="url(#gN)" opacity="0.99"/>
<circle cx="1814.7" cy="552.7" r="5.6" fill="url(#gN)" opacity="0.99"/>
<circle cx="1823.3" cy="624.4" r="5.6" fill="url(#gN)" opacity="0.99"/>
<circle cx="1894.4" cy="600.8" r="5.6" fill="url(#gB)" opacity="0.99"/>
<circle cx="1885.8" cy="585.4" r="5.6" fill="url(#gN)" opacity="0.99"/>
<circle cx="1793.9" cy="516.1" r="5.6" fill="url(#gN)" opacity="0.99"/>
<circle cx="1794.4" cy="630.5" r="5.6" fill="url(#gB)" opacity="1.00"/>
<circle cx="1789.9" cy="499.1" r="5.6" fill="url(#gB)" opacity="1.00"/>
<circle cx="1929.3" cy="452.9" r="5.6" fill="url(#gN)" opacity="1.00"/>
<circle cx="1779.8" cy="624.0" r="5.6" fill="url(#gN)" opacity="1.00"/>
<circle cx="1762.0" cy="617.9" r="5.6" fill="url(#gN)" opacity="1.00"/>
<circle cx="1931.8" cy="542.9" r="5.6" fill="url(#gN)" opacity="1.00"/>
<circle cx="1939.5" cy="513.2" r="5.6" fill="url(#gB)" opacity="1.00"/>
<circle cx="1838.5" cy="600.7" r="5.6" fill="url(#gN)" opacity="1.00"/>
<circle cx="1904.2" cy="492.6" r="5.6" fill="url(#gB)" opacity="1.00"/>
<circle cx="1791.6" cy="506.1" r="5.6" fill="url(#gB)" opacity="1.00"/>
<circle cx="1832.8" cy="618.9" r="5.6" fill="url(#gN)" opacity="1.00"/>
<circle cx="1830.1" cy="586.8" r="5.6" fill="url(#gB)" opacity="1.00"/>
<line x1="1709.0" y1="414.1" x2="1890.9" y2="399.5" stroke="#c81010" stroke-width="2.8" stroke-dasharray="2.8 4.4"/>
<line x1="1709.0" y1="595.2" x2="1890.9" y2="582.2" stroke="#c81010" stroke-width="2.8" stroke-dasharray="2.8 4.4"/>
<line x1="1760.7" y1="462.4" x2="1943.4" y2="450.3" stroke="#c81010" stroke-width="2.8" stroke-dasharray="2.8 4.4"/>
<line x1="1760.7" y1="646.0" x2="1943.4" y2="632.2" stroke="#c81010" stroke-width="2.8" stroke-dasharray="2.8 4.4"/>
<line x1="1709.0" y1="414.1" x2="1709.0" y2="595.2" stroke="#c81010" stroke-width="2.8" stroke-dasharray="2.8 4.4"/>
<line x1="1890.9" y1="399.5" x2="1890.9" y2="582.2" stroke="#c81010" stroke-width="2.8" stroke-dasharray="2.8 4.4"/>
<line x1="1760.7" y1="462.4" x2="1760.7" y2="646.0" stroke="#c81010" stroke-width="2.8" stroke-dasharray="2.8 4.4"/>
<line x1="1943.4" y1="450.3" x2="1943.4" y2="632.2" stroke="#c81010" stroke-width="2.8" stroke-dasharray="2.8 4.4"/>
<line x1="1709.0" y1="414.1" x2="1760.7" y2="462.4" stroke="#c81010" stroke-width="2.4" stroke-dasharray="1.1 1.5" opacity="0.75"/>
<line x1="1890.9" y1="399.5" x2="1943.4" y2="450.3" stroke="#c81010" stroke-width="2.4" stroke-dasharray="1.1 1.5" opacity="0.75"/>
<line x1="1709.0" y1="595.2" x2="1760.7" y2="646.0" stroke="#c81010" stroke-width="2.4" stroke-dasharray="1.1 1.5" opacity="0.75"/>
<line x1="1890.9" y1="582.2" x2="1943.4" y2="632.2" stroke="#c81010" stroke-width="2.4" stroke-dasharray="1.1 1.5" opacity="0.75"/>
<text transform="translate(1952.1,519.8) rotate(90) scale(1.08,1)" text-anchor="middle" font-family="Liberation Sans, Arial, sans-serif" font-weight="bold" font-size="30.5" fill="#c80000">M-Q</text>
<path d="M1111.3,689.0 L1150.0,689.0 L1200.0,689.1 L1204.2,688.5 L1213.5,688.5 L1215.6,688.2 L1217.6,687.7 L1220.1,686.7 L1222.4,685.1 L1224.6,683.1 L1226.7,680.6 L1229.0,677.0 L1231.2,672.8 L1233.4,667.6 L1235.5,661.7 L1237.5,655.2 L1239.5,647.7 L1243.4,630.1 L1246.6,612.3 L1249.7,592.0 L1252.8,568.4 L1255.8,542.2 L1261.5,485.2 L1276.0,327.9 L1280.5,284.4 L1284.7,248.6 L1287.0,231.3 L1289.2,216.6 L1291.3,204.3 L1293.4,193.8 L1295.5,185.4 L1297.5,179.3 L1299.5,175.3 L1300.5,174.0 L1301.4,173.4 L1302.2,173.2 L1303.1,173.5 L1304.0,174.2 L1304.9,175.3 L1306.8,179.0 L1308.7,184.3 L1310.6,191.2 L1312.5,199.6 L1314.4,209.7 L1316.3,221.5 L1319.8,247.7 L1323.4,279.9 L1327.2,318.6 L1335.5,409.7 L1339.4,450.4 L1344.0,494.2 L1348.2,529.1 L1350.6,546.6 L1352.9,561.4 L1355.2,574.2 L1357.4,584.4 L1359.6,592.4 L1361.7,598.0 L1362.7,600.0 L1363.8,601.6 L1364.9,602.7 L1366.0,603.2 L1367.0,603.3 L1368.1,602.8 L1369.1,602.0 L1370.2,600.6 L1372.3,596.6 L1374.4,590.9 L1376.6,583.2 L1378.8,573.7 L1381.0,562.5 L1383.3,549.1 L1387.1,523.6 L1391.2,492.1 L1404.2,379.1 L1408.8,341.5 L1413.2,310.2 L1417.5,285.3 L1419.9,273.7 L1422.4,263.3 L1424.9,254.6 L1427.4,247.4 L1430.0,241.5 L1432.6,237.0 L1435.3,233.9 L1436.7,232.8 L1438.1,232.0 L1440.1,231.6 L1442.1,231.8 L1444.2,232.7 L1446.4,234.2 L1448.6,236.5 L1450.9,239.4 L1453.3,243.0 L1455.8,247.3 L1460.0,255.7 L1464.7,266.4 L1480.5,306.3 L1486.5,320.6 L1489.7,327.4 L1492.9,333.7 L1496.1,339.4 L1499.3,344.6 L1502.6,349.3 L1506.0,353.6 L1509.3,357.2 L1512.7,360.4 L1516.1,362.9 L1519.5,364.9 L1523.0,366.5 L1526.7,367.6 L1530.6,368.2 L1534.6,368.2 L1538.8,367.8 L1543.3,366.9 L1547.7,365.6 L1552.6,363.9 L1571.3,355.7 L1579.2,352.7 L1583.5,351.5 L1587.5,350.7 L1591.3,350.3 L1594.9,350.3 L1598.6,350.7 L1602.5,351.6 L1606.6,352.8 L1611.0,354.5 L1619.1,358.3 L1638.9,368.9 L1644.3,371.4 L1649.1,373.2 L1654.1,374.7 L1658.8,375.6 L1663.3,375.8 L1667.7,375.5 L1672.1,374.6 L1676.6,373.2 L1681.4,371.2 L1686.5,368.6 L1695.9,362.8 L1717.9,347.9 L1723.5,344.5 L1728.6,341.8 L1733.6,339.6 L1738.3,338.1 L1742.8,337.1 L1747.1,336.7 L1749.9,336.7 L1752.9,337.0 L1759.2,338.4 L1765.9,340.8 L1782.8,347.9 L1792.2,351.4 L1797.2,352.9 L1802.0,354.1 L1806.5,354.9 L1810.9,355.3 L1817.1,355.4 L1824.0,354.9 L1830.6,353.8 L1846.0,350.9 L1853.7,349.9 L1861.9,349.4 L1870.2,349.5 L1879.8,350.2 L1890.4,351.7 L1900.5,353.6 L1924.2,358.4 L1935.9,360.4 L1946.9,361.7 L1956.8,362.1 L1966.4,361.6 L1971.0,361.0 L1975.4,360.1 L1979.8,359.1 L1984.1,357.8 L1988.3,356.2 L1992.4,354.5" fill="none" stroke="#ff5c5c" stroke-width="4.2" stroke-linejoin="round"/>
<path d="M1111.3,688.8 L1150.0,688.8 L1212.0,688.5 L1215.4,688.1 L1222.9,688.4 L1226.1,687.9 L1228.1,687.0 L1230.0,685.6 L1231.7,683.9 L1233.4,681.5 L1235.2,678.4 L1237.0,674.4 L1238.7,669.8 L1240.4,664.3 L1243.6,651.4 L1246.8,634.7 L1250.5,611.0 L1254.5,580.9 L1258.9,543.3 L1262.7,506.7 L1265.3,478.6 L1267.8,448.5 L1274.8,352.8 L1277.7,316.3 L1281.3,276.9 L1284.9,243.7 L1287.2,225.6 L1289.5,209.8 L1291.8,196.2 L1294.2,184.2 L1296.6,174.5 L1298.9,167.4 L1300.1,164.6 L1301.2,162.6 L1302.3,161.2 L1303.4,160.4 L1304.4,160.3 L1305.3,160.6 L1306.3,161.5 L1307.2,162.8 L1309.0,166.9 L1310.8,173.0 L1312.5,180.7 L1314.3,191.0 L1316.2,203.9 L1318.2,219.5 L1321.3,247.1 L1324.9,282.7 L1347.5,521.4 L1350.4,548.9 L1353.0,569.8 L1355.9,587.8 L1357.4,594.9 L1359.0,601.0 L1360.6,605.6 L1362.3,609.1 L1364.0,611.3 L1364.9,612.0 L1365.8,612.4 L1367.0,612.5 L1368.3,612.1 L1369.6,611.1 L1370.8,609.7 L1372.1,607.7 L1373.3,605.4 L1375.7,599.2 L1378.1,591.1 L1380.5,581.0 L1382.9,568.9 L1385.3,554.7 L1389.0,528.8 L1393.1,495.1 L1406.2,372.3 L1410.9,330.9 L1415.4,296.8 L1417.6,282.6 L1419.9,269.4 L1422.2,257.7 L1424.5,247.7 L1426.8,239.1 L1429.2,231.7 L1431.6,225.9 L1434.1,221.3 L1436.6,218.1 L1437.8,217.1 L1439.1,216.4 L1441.0,216.0 L1443.0,216.3 L1445.0,217.4 L1447.1,219.3 L1449.2,222.0 L1451.3,225.4 L1453.6,229.8 L1455.9,234.9 L1459.7,244.7 L1463.9,256.9 L1478.5,304.2 L1484.4,322.1 L1487.8,331.5 L1491.1,340.0 L1494.3,347.5 L1497.4,354.1 L1500.2,359.4 L1502.9,363.9 L1505.6,367.8 L1508.3,371.1 L1511.1,373.8 L1513.9,376.0 L1516.8,377.6 L1519.8,378.6 L1523.4,379.1 L1527.2,378.8 L1531.1,377.7 L1535.3,375.8 L1539.5,373.4 L1544.1,370.1 L1563.2,354.3 L1567.7,350.9 L1571.8,348.1 L1576.5,345.5 L1580.8,343.8 L1584.8,342.8 L1588.9,342.6 L1593.4,343.1 L1598.0,344.3 L1602.9,346.4 L1608.1,349.2 L1612.7,352.2 L1617.9,356.0 L1639.2,372.9 L1644.0,376.2 L1648.4,378.7 L1652.9,380.7 L1657.1,381.9 L1661.1,382.2 L1664.9,381.8 L1668.4,380.8 L1672.0,379.2 L1675.8,376.9 L1679.9,373.8 L1687.5,367.2 L1706.0,349.2 L1711.3,344.7 L1716.4,340.9 L1721.7,337.6 L1726.9,335.2 L1731.9,333.7 L1736.8,333.0 L1740.0,333.0 L1743.4,333.4 L1746.9,334.2 L1750.5,335.3 L1754.5,337.0 L1759.0,339.2 L1777.6,349.8 L1785.7,353.7 L1790.3,355.4 L1795.1,356.8 L1800.1,357.7 L1805.2,358.3 L1809.5,358.5 L1814.0,358.4 L1823.6,357.6 L1833.2,356.0 L1858.8,350.7 L1866.5,349.6 L1873.4,349.1 L1880.9,349.2 L1889.0,350.0 L1897.7,351.6 L1917.3,355.8 L1927.3,357.7 L1937.7,359.1 L1947.1,359.7 L1956.2,359.4 L1964.8,358.4 L1970.8,357.1 L1985.6,353.0 L1992.4,351.5" fill="none" stroke="#ff0000" stroke-width="4.7" stroke-linecap="round" stroke-dasharray="5.6 13" stroke-dashoffset="-18.56"/>
<rect x="1111.3" y="17.2" width="881.1" height="672.5" fill="none" stroke="#000" stroke-width="2.3"/>
<line x1="1112.5" y1="689.6" x2="1991.2" y2="689.6" stroke="#ff8800" stroke-width="2.4"/>
<path d="M1174.2,689.7v-6.5M1174.2,17.2v6.5M1237.2,689.7v-12.5M1237.2,17.2v12.5M1300.1,689.7v-6.5M1300.1,17.2v6.5M1363.0,689.7v-12.5M1363.0,17.2v12.5M1426.0,689.7v-6.5M1426.0,17.2v6.5M1488.9,689.7v-12.5M1488.9,17.2v12.5M1551.8,689.7v-6.5M1551.8,17.2v6.5M1614.8,689.7v-12.5M1614.8,17.2v12.5M1677.7,689.7v-6.5M1677.7,17.2v6.5M1740.7,689.7v-12.5M1740.7,17.2v12.5M1803.6,689.7v-6.5M1803.6,17.2v6.5M1866.5,689.7v-12.5M1866.5,17.2v12.5M1929.5,689.7v-6.5M1929.5,17.2v6.5M1111.3,656.1h6.5M1992.4,656.1h-6.5M1111.3,622.5h12.5M1992.4,622.5h-12.5M1111.3,588.8h6.5M1992.4,588.8h-6.5M1111.3,555.2h12.5M1992.4,555.2h-12.5M1111.3,521.6h6.5M1992.4,521.6h-6.5M1111.3,488.0h12.5M1992.4,488.0h-12.5M1111.3,454.3h6.5M1992.4,454.3h-6.5M1111.3,420.7h12.5M1992.4,420.7h-12.5M1111.3,387.1h6.5M1992.4,387.1h-6.5M1111.3,353.5h12.5M1992.4,353.5h-12.5M1111.3,319.8h6.5M1992.4,319.8h-6.5M1111.3,286.2h12.5M1992.4,286.2h-12.5M1111.3,252.6h6.5M1992.4,252.6h-6.5M1111.3,218.9h12.5M1992.4,218.9h-12.5M1111.3,185.3h6.5M1992.4,185.3h-6.5M1111.3,151.7h12.5M1992.4,151.7h-12.5M1111.3,118.1h6.5M1992.4,118.1h-6.5M1111.3,84.5h12.5M1992.4,84.5h-12.5M1111.3,50.8h6.5M1992.4,50.8h-6.5" stroke="#000" stroke-width="2.1" fill="none"/>
<text x="1097.4" y="697.7" text-anchor="end" font-family="Liberation Sans, Arial, sans-serif" font-size="27">0.0</text>
<text x="1097.4" y="630.5" text-anchor="end" font-family="Liberation Sans, Arial, sans-serif" font-size="27">0.2</text>
<text x="1097.4" y="563.2" text-anchor="end" font-family="Liberation Sans, Arial, sans-serif" font-size="27">0.4</text>
<text x="1097.4" y="496.0" text-anchor="end" font-family="Liberation Sans, Arial, sans-serif" font-size="27">0.6</text>
<text x="1097.4" y="428.7" text-anchor="end" font-family="Liberation Sans, Arial, sans-serif" font-size="27">0.8</text>
<text x="1097.4" y="361.5" text-anchor="end" font-family="Liberation Sans, Arial, sans-serif" font-size="27">1.0</text>
<text x="1097.4" y="294.2" text-anchor="end" font-family="Liberation Sans, Arial, sans-serif" font-size="27">1.2</text>
<text x="1097.4" y="226.9" text-anchor="end" font-family="Liberation Sans, Arial, sans-serif" font-size="27">1.4</text>
<text x="1097.4" y="159.7" text-anchor="end" font-family="Liberation Sans, Arial, sans-serif" font-size="27">1.6</text>
<text x="1097.4" y="92.5" text-anchor="end" font-family="Liberation Sans, Arial, sans-serif" font-size="27">1.8</text>
<text x="1097.4" y="25.2" text-anchor="end" font-family="Liberation Sans, Arial, sans-serif" font-size="27">2.0</text>
<text x="1111.3" y="723.1" text-anchor="middle" font-family="Liberation Sans, Arial, sans-serif" font-size="27">0</text>
<text x="1237.2" y="723.1" text-anchor="middle" font-family="Liberation Sans, Arial, sans-serif" font-size="27">1</text>
<text x="1363.0" y="723.1" text-anchor="middle" font-family="Liberation Sans, Arial, sans-serif" font-size="27">2</text>
<text x="1488.9" y="723.1" text-anchor="middle" font-family="Liberation Sans, Arial, sans-serif" font-size="27">3</text>
<text x="1614.8" y="723.1" text-anchor="middle" font-family="Liberation Sans, Arial, sans-serif" font-size="27">4</text>
<text x="1740.7" y="723.1" text-anchor="middle" font-family="Liberation Sans, Arial, sans-serif" font-size="27">5</text>
<text x="1866.5" y="723.1" text-anchor="middle" font-family="Liberation Sans, Arial, sans-serif" font-size="27">6</text>
<text x="1992.4" y="723.1" text-anchor="middle" font-family="Liberation Sans, Arial, sans-serif" font-size="27">7</text>
<text x="1552.3" y="763.8" text-anchor="middle" font-family="Liberation Sans, Arial, sans-serif" font-size="32">r (Å)</text>
<text transform="translate(1042.0,343.1) rotate(-90)" text-anchor="middle" font-family="Liberation Sans, Arial, sans-serif" font-size="32">PDF</text>
<text x="1125.7" y="69.2" font-family="Liberation Sans, Arial, sans-serif" font-size="42.5">BN</text>
<text x="1333.3" y="72.3" font-family="Liberation Sans, Arial, sans-serif" font-size="38.7">Total 2.80 g cm<tspan dx="-1.6" dy="-19.2" font-size="23" letter-spacing="0.8">-3</tspan></text>
<text x="1006.9" y="63.6" font-family="Liberation Sans, Arial, sans-serif" font-weight="bold" font-size="49.5">(b)</text>
<rect x="1660.1" y="16.8" width="331.1" height="189.4" fill="#ffffff" stroke="#f03c3c" stroke-width="1.2"/>
<rect x="1664.3" y="23.4" width="71.1" height="34.7" fill="#fddfe0" stroke="#f05050" stroke-width="1.2"/>
<line x1="1665.1499999999999" y1="86.1" x2="1727.6" y2="86.1" stroke="#ff0000" stroke-width="4.7" stroke-linecap="round" stroke-dasharray="5.6 13"/>
<rect x="1664.3" y="116.2" width="71.1" height="35.0" fill="#008000"/>
<rect x="1664.3" y="163.7" width="71.1" height="35.5" fill="#ff8800"/>
<text x="1746.6" y="51.6" font-family="Liberation Sans, Arial, sans-serif" font-size="32"><tspan font-family="Liberation Serif, Times New Roman, serif" font-style="italic" font-size="40">a</tspan>-BN U-Q</text>
<text x="1746.6" y="96.2" font-family="Liberation Sans, Arial, sans-serif" font-size="32"><tspan font-family="Liberation Serif, Times New Roman, serif" font-style="italic" font-size="40">a</tspan>-BN M-Q</text>
<text x="1746.6" y="143.8" font-family="Liberation Sans, Arial, sans-serif" font-size="32"><tspan font-family="Liberation Serif, Times New Roman, serif" font-style="italic" font-size="40">c</tspan>-BN 3.48 g cm<tspan dx="-1.0" dy="-15.7" font-size="17.5" letter-spacing="1">-3</tspan></text>
<text x="1746.6" y="192.1" font-family="Liberation Sans, Arial, sans-serif" font-size="32"><tspan font-family="Liberation Serif, Times New Roman, serif" font-style="italic" font-size="40">h</tspan>-BN 2.28 g cm<tspan dx="-1.0" dy="-15.7" font-size="17.5" letter-spacing="1">-3</tspan></text>
<path d="M599.6,1476.9 L650.0,1476.9 L700.0,1477.0 L710.1,1477.0 L714.4,1476.4 L717.8,1475.6 L720.6,1474.7 L722.3,1473.8 L723.7,1472.5 L725.0,1470.7 L726.3,1468.2 L727.6,1464.9 L728.9,1460.9 L731.5,1450.7 L734.0,1437.9 L736.5,1422.3 L738.9,1404.7 L741.4,1383.5 L743.9,1359.6 L748.6,1308.8 L758.1,1197.2 L762.8,1144.3 L767.6,1094.7 L772.0,1054.5 L774.4,1035.1 L776.7,1018.5 L778.9,1004.6 L781.1,992.7 L783.2,983.5 L785.2,976.8 L787.2,972.4 L788.2,971.1 L789.2,970.3 L790.0,970.2 L790.9,970.6 L791.7,971.3 L792.6,972.6 L794.4,976.4 L796.2,981.9 L798.1,989.2 L799.9,997.6 L801.7,1007.6 L803.5,1019.2 L807.1,1047.0 L810.9,1082.7 L814.8,1124.7 L825.9,1251.9 L829.3,1286.4 L832.4,1313.5 L834.4,1328.3 L836.4,1341.2 L838.4,1352.1 L840.4,1361.0 L842.4,1368.0 L844.5,1373.4 L845.5,1375.3 L846.6,1376.9 L847.6,1377.8 L848.7,1378.4 L849.7,1378.4 L850.6,1378.1 L851.6,1377.3 L852.5,1376.2 L854.4,1372.7 L856.3,1367.6 L858.2,1360.7 L860.0,1352.6 L861.8,1342.8 L863.6,1331.3 L866.4,1310.6 L869.6,1283.6 L881.2,1174.3 L887.4,1119.8 L893.4,1073.1 L896.2,1053.8 L898.9,1037.1 L901.2,1024.3 L903.5,1013.0 L905.8,1003.2 L908.0,995.4 L910.2,989.0 L912.4,984.2 L914.6,981.0 L915.7,980.0 L916.7,979.4 L918.2,979.3 L919.7,979.9 L921.3,981.4 L922.9,983.6 L924.6,986.7 L926.3,990.5 L930.1,1001.2 L933.1,1011.4 L936.4,1023.8 L949.2,1076.8 L955.9,1102.6 L959.7,1116.0 L963.5,1128.4 L967.2,1139.6 L970.8,1149.5 L974.2,1157.9 L977.6,1165.4 L980.9,1171.8 L984.2,1177.2 L987.4,1181.6 L990.6,1184.9 L993.8,1187.4 L996.9,1188.7 L998.6,1189.1 L1000.2,1189.1 L1001.9,1188.9 L1003.6,1188.4 L1007.2,1186.5 L1011.0,1183.5 L1014.1,1180.5 L1017.6,1176.5 L1029.9,1161.0 L1035.7,1154.2 L1041.9,1147.8 L1047.9,1142.6 L1052.9,1139.1 L1057.7,1136.6 L1062.4,1134.9 L1067.2,1134.0 L1070.8,1133.9 L1074.6,1134.1 L1078.6,1134.8 L1082.8,1136.0 L1087.1,1137.5 L1091.8,1139.4 L1109.3,1147.7 L1116.3,1150.6 L1120.1,1151.9 L1123.7,1152.9 L1127.1,1153.4 L1130.4,1153.7 L1134.3,1153.5 L1138.4,1152.8 L1142.6,1151.5 L1147.1,1149.7 L1151.9,1147.3 L1157.2,1144.2 L1174.4,1132.5 L1181.1,1128.5 L1185.0,1126.7 L1188.7,1125.4 L1192.3,1124.5 L1195.8,1124.2 L1198.3,1124.2 L1200.8,1124.5 L1206.2,1125.9 L1210.8,1127.7 L1222.3,1133.1 L1229.8,1136.2 L1238.6,1139.4 L1247.5,1142.0 L1256.4,1144.1 L1265.5,1145.8 L1274.8,1147.0 L1284.4,1147.8 L1294.0,1148.2 L1304.0,1148.2 L1314.4,1147.7 L1325.4,1146.9 L1335.5,1145.8 L1346.5,1144.4 L1379.3,1139.5 L1391.1,1137.8 L1403.1,1136.6 L1414.0,1135.9 L1424.6,1135.9 L1436.1,1136.5 L1447.0,1137.6 L1471.0,1140.4 L1481.1,1141.3 L1481.1,1477.6 L599.6,1477.6 Z" fill="#dfdffe"/>
<rect x="794.0" y="1376.7" width="7.6" height="100.9" fill="#008000" stroke="#ffffff" stroke-opacity="0.45" stroke-width="0.8"/>
<rect x="919.8" y="1364.3" width="7.6" height="113.3" fill="#008000" stroke="#ffffff" stroke-opacity="0.45" stroke-width="0.8"/>
<rect x="976.0" y="1438.2" width="7.6" height="39.4" fill="#008000" stroke="#ffffff" stroke-opacity="0.45" stroke-width="0.8"/>
<rect x="1089.9" y="1438.2" width="7.6" height="39.4" fill="#008000" stroke="#ffffff" stroke-opacity="0.45" stroke-width="0.8"/>
<rect x="1152.7" y="1438.2" width="7.6" height="39.4" fill="#008000" stroke="#ffffff" stroke-opacity="0.45" stroke-width="0.8"/>
<rect x="1191.1" y="1432.5" width="7.6" height="45.1" fill="#008000" stroke="#ffffff" stroke-opacity="0.45" stroke-width="0.8"/>
<rect x="1272.5" y="1433.9" width="7.6" height="43.7" fill="#008000" stroke="#ffffff" stroke-opacity="0.45" stroke-width="0.8"/>
<rect x="1316.6" y="1433.9" width="7.6" height="43.7" fill="#008000" stroke="#ffffff" stroke-opacity="0.45" stroke-width="0.8"/>
<rect x="1341.7" y="1456.1" width="7.6" height="21.5" fill="#008000" stroke="#ffffff" stroke-opacity="0.45" stroke-width="0.8"/>
<rect x="1411.2" y="1441.6" width="7.6" height="36.0" fill="#008000" stroke="#ffffff" stroke-opacity="0.45" stroke-width="0.8"/>
<rect x="1449.1" y="1412.0" width="7.6" height="65.6" fill="#008000" stroke="#ffffff" stroke-opacity="0.45" stroke-width="0.8"/>
<rect x="1474.2" y="1431.2" width="7.6" height="46.4" fill="#008000" stroke="#ffffff" stroke-opacity="0.45" stroke-width="0.8"/>
<rect x="775.0" y="1376.7" width="7.6" height="100.9" fill="#ff8800" stroke="#ffffff" stroke-opacity="0.45" stroke-width="0.8"/>
<rect x="957.3" y="1452.4" width="7.6" height="25.2" fill="#ff8800" stroke="#ffffff" stroke-opacity="0.45" stroke-width="0.8"/>
<rect x="1013.3" y="1464.8" width="7.6" height="12.8" fill="#ff8800" stroke="#ffffff" stroke-opacity="0.45" stroke-width="0.8"/>
<rect x="1054.3" y="1446.0" width="7.6" height="31.6" fill="#ff8800" stroke="#ffffff" stroke-opacity="0.45" stroke-width="0.8"/>
<rect x="1077.4" y="1449.0" width="7.6" height="28.6" fill="#ff8800" stroke="#ffffff" stroke-opacity="0.45" stroke-width="0.8"/>
<rect x="1121.7" y="1438.2" width="7.6" height="39.4" fill="#ff8800" stroke="#ffffff" stroke-opacity="0.45" stroke-width="0.8"/>
<rect x="1152.7" y="1455.7" width="7.6" height="21.9" fill="#ff8800" stroke="#ffffff" stroke-opacity="0.45" stroke-width="0.8"/>
<rect x="1234.8" y="1445.3" width="7.6" height="32.3" fill="#ff8800" stroke="#ffffff" stroke-opacity="0.45" stroke-width="0.8"/>
<rect x="1253.4" y="1462.5" width="7.6" height="15.1" fill="#ff8800" stroke="#ffffff" stroke-opacity="0.45" stroke-width="0.8"/>
<rect x="1285.4" y="1449.7" width="7.6" height="27.9" fill="#ff8800" stroke="#ffffff" stroke-opacity="0.45" stroke-width="0.8"/>
<rect x="1323.2" y="1471.2" width="7.6" height="6.4" fill="#ff8800" stroke="#ffffff" stroke-opacity="0.45" stroke-width="0.8"/>
<rect x="1354.4" y="1454.7" width="7.6" height="22.9" fill="#ff8800" stroke="#ffffff" stroke-opacity="0.45" stroke-width="0.8"/>
<rect x="1373.3" y="1456.1" width="7.6" height="21.5" fill="#ff8800" stroke="#ffffff" stroke-opacity="0.45" stroke-width="0.8"/>
<rect x="1392.3" y="1467.2" width="7.6" height="10.4" fill="#ff8800" stroke="#ffffff" stroke-opacity="0.45" stroke-width="0.8"/>
<rect x="1436.4" y="1468.2" width="7.6" height="9.4" fill="#ff8800" stroke="#ffffff" stroke-opacity="0.45" stroke-width="0.8"/>
<rect x="1455.3" y="1468.5" width="7.6" height="9.1" fill="#ff8800" stroke="#ffffff" stroke-opacity="0.45" stroke-width="0.8"/>
<circle cx="1011.0" cy="1232.3" r="5.3" fill="url(#gB)" opacity="0.88"/>
<circle cx="1044.0" cy="1297.7" r="5.3" fill="url(#gB)" opacity="0.88"/>
<circle cx="1068.1" cy="1332.7" r="5.3" fill="url(#gN)" opacity="0.88"/>
<circle cx="1109.2" cy="1351.1" r="5.3" fill="url(#gB)" opacity="0.88"/>
<circle cx="1063.2" cy="1227.0" r="5.3" fill="url(#gN)" opacity="0.88"/>
<circle cx="1099.7" cy="1337.6" r="5.3" fill="url(#gN)" opacity="0.88"/>
<circle cx="1044.9" cy="1244.3" r="5.3" fill="url(#gB)" opacity="0.88"/>
<circle cx="985.7" cy="1273.0" r="5.3" fill="url(#gN)" opacity="0.88"/>
<circle cx="994.3" cy="1261.8" r="5.3" fill="url(#gN)" opacity="0.88"/>
<circle cx="996.1" cy="1273.4" r="5.3" fill="url(#gN)" opacity="0.88"/>
<circle cx="1076.9" cy="1254.9" r="5.3" fill="url(#gN)" opacity="0.89"/>
<circle cx="1075.8" cy="1232.7" r="5.3" fill="url(#gN)" opacity="0.89"/>
<circle cx="994.8" cy="1344.7" r="5.3" fill="url(#gN)" opacity="0.89"/>
<circle cx="1043.2" cy="1268.3" r="5.3" fill="url(#gB)" opacity="0.89"/>
<circle cx="1038.1" cy="1236.6" r="5.3" fill="url(#gB)" opacity="0.89"/>
<circle cx="1009.0" cy="1263.9" r="5.3" fill="url(#gB)" opacity="0.89"/>
<circle cx="1024.4" cy="1305.7" r="5.3" fill="url(#gB)" opacity="0.89"/>
<circle cx="1037.8" cy="1372.1" r="5.3" fill="url(#gB)" opacity="0.89"/>
<circle cx="981.7" cy="1305.0" r="5.3" fill="url(#gN)" opacity="0.89"/>
<circle cx="980.0" cy="1318.1" r="5.3" fill="url(#gB)" opacity="0.89"/>
<circle cx="1018.5" cy="1364.8" r="5.3" fill="url(#gB)" opacity="0.89"/>
<circle cx="1097.8" cy="1226.2" r="5.3" fill="url(#gN)" opacity="0.89"/>
<circle cx="1022.4" cy="1248.0" r="5.3" fill="url(#gN)" opacity="0.89"/>
<circle cx="1038.4" cy="1354.7" r="5.3" fill="url(#gN)" opacity="0.89"/>
<circle cx="1049.2" cy="1258.3" r="5.3" fill="url(#gN)" opacity="0.89"/>
<circle cx="994.3" cy="1313.8" r="5.3" fill="url(#gN)" opacity="0.89"/>
<circle cx="1127.3" cy="1310.8" r="5.3" fill="url(#gB)" opacity="0.89"/>
<circle cx="981.3" cy="1378.1" r="5.3" fill="url(#gN)" opacity="0.89"/>
<circle cx="1124.9" cy="1244.1" r="5.3" fill="url(#gN)" opacity="0.89"/>
<circle cx="1033.0" cy="1250.2" r="5.3" fill="url(#gN)" opacity="0.89"/>
<circle cx="1127.0" cy="1336.3" r="5.3" fill="url(#gB)" opacity="0.89"/>
<circle cx="1008.4" cy="1284.5" r="5.3" fill="url(#gN)" opacity="0.89"/>
<circle cx="1067.4" cy="1358.3" r="5.4" fill="url(#gN)" opacity="0.89"/>
<circle cx="1073.6" cy="1304.9" r="5.4" fill="url(#gB)" opacity="0.89"/>
<circle cx="1065.7" cy="1246.4" r="5.4" fill="url(#gN)" opacity="0.89"/>
<circle cx="998.6" cy="1359.3" r="5.4" fill="url(#gB)" opacity="0.89"/>
<circle cx="1048.9" cy="1282.6" r="5.4" fill="url(#gB)" opacity="0.89"/>
<circle cx="1022.0" cy="1374.3" r="5.4" fill="url(#gB)" opacity="0.89"/>
<circle cx="1109.1" cy="1307.0" r="5.4" fill="url(#gB)" opacity="0.90"/>
<circle cx="1117.5" cy="1358.1" r="5.4" fill="url(#gN)" opacity="0.90"/>
<circle cx="1108.4" cy="1230.4" r="5.4" fill="url(#gB)" opacity="0.90"/>
<circle cx="1033.3" cy="1265.3" r="5.4" fill="url(#gN)" opacity="0.90"/>
<circle cx="1007.4" cy="1248.5" r="5.4" fill="url(#gB)" opacity="0.90"/>
<circle cx="1087.7" cy="1239.3" r="5.4" fill="url(#gN)" opacity="0.90"/>
<circle cx="1007.2" cy="1317.0" r="5.4" fill="url(#gN)" opacity="0.90"/>
<circle cx="983.5" cy="1248.3" r="5.4" fill="url(#gN)" opacity="0.90"/>
<circle cx="1103.1" cy="1275.2" r="5.4" fill="url(#gB)" opacity="0.90"/>
<circle cx="1049.1" cy="1238.4" r="5.4" fill="url(#gN)" opacity="0.90"/>
<circle cx="1066.8" cy="1267.7" r="5.4" fill="url(#gN)" opacity="0.90"/>
<circle cx="1061.0" cy="1235.1" r="5.4" fill="url(#gN)" opacity="0.90"/>
<circle cx="1097.8" cy="1245.1" r="5.4" fill="url(#gN)" opacity="0.90"/>
<circle cx="1099.0" cy="1235.9" r="5.4" fill="url(#gN)" opacity="0.90"/>
<circle cx="1115.4" cy="1283.6" r="5.4" fill="url(#gN)" opacity="0.90"/>
<circle cx="1087.5" cy="1247.8" r="5.4" fill="url(#gN)" opacity="0.90"/>
<circle cx="1032.5" cy="1305.5" r="5.4" fill="url(#gN)" opacity="0.90"/>
<circle cx="994.7" cy="1293.1" r="5.4" fill="url(#gN)" opacity="0.90"/>
<circle cx="1075.1" cy="1297.7" r="5.4" fill="url(#gB)" opacity="0.90"/>
<circle cx="1088.0" cy="1287.5" r="5.4" fill="url(#gN)" opacity="0.90"/>
<circle cx="1033.7" cy="1386.5" r="5.4" fill="url(#gB)" opacity="0.90"/>
<circle cx="1128.3" cy="1229.8" r="5.4" fill="url(#gN)" opacity="0.90"/>
<circle cx="987.6" cy="1290.3" r="5.4" fill="url(#gN)" opacity="0.90"/>
<circle cx="993.7" cy="1244.3" r="5.4" fill="url(#gN)" opacity="0.90"/>
<circle cx="1115.4" cy="1229.8" r="5.4" fill="url(#gN)" opacity="0.90"/>
<circle cx="1025.2" cy="1327.9" r="5.4" fill="url(#gB)" opacity="0.90"/>
<circle cx="1013.5" cy="1332.8" r="5.4" fill="url(#gN)" opacity="0.91"/>
<circle cx="986.2" cy="1254.9" r="5.4" fill="url(#gB)" opacity="0.91"/>
<circle cx="1061.6" cy="1378.3" r="5.4" fill="url(#gB)" opacity="0.91"/>
<circle cx="1058.9" cy="1300.5" r="5.4" fill="url(#gB)" opacity="0.91"/>
<circle cx="1007.9" cy="1359.8" r="5.4" fill="url(#gN)" opacity="0.91"/>
<circle cx="1033.5" cy="1325.0" r="5.4" fill="url(#gN)" opacity="0.91"/>
<circle cx="1057.2" cy="1308.9" r="5.4" fill="url(#gN)" opacity="0.91"/>
<circle cx="1031.0" cy="1242.2" r="5.4" fill="url(#gB)" opacity="0.91"/>
<circle cx="1124.6" cy="1318.9" r="5.4" fill="url(#gN)" opacity="0.91"/>
<circle cx="1088.9" cy="1303.3" r="5.4" fill="url(#gN)" opacity="0.91"/>
<circle cx="1010.0" cy="1369.5" r="5.4" fill="url(#gN)" opacity="0.91"/>
<circle cx="994.5" cy="1376.9" r="5.4" fill="url(#gB)" opacity="0.91"/>
<circle cx="989.2" cy="1385.1" r="5.4" fill="url(#gB)" opacity="0.91"/>
<circle cx="1088.4" cy="1364.8" r="5.4" fill="url(#gN)" opacity="0.91"/>
<circle cx="1095.9" cy="1359.3" r="5.4" fill="url(#gN)" opacity="0.91"/>
<circle cx="1101.3" cy="1329.5" r="5.4" fill="url(#gB)" opacity="0.91"/>
<circle cx="1136.6" cy="1326.9" r="5.4" fill="url(#gB)" opacity="0.91"/>
<circle cx="1063.2" cy="1313.5" r="5.4" fill="url(#gN)" opacity="0.91"/>
<circle cx="1118.1" cy="1256.2" r="5.4" fill="url(#gN)" opacity="0.91"/>
<circle cx="1080.7" cy="1279.4" r="5.4" fill="url(#gN)" opacity="0.91"/>
<circle cx="1089.7" cy="1321.5" r="5.4" fill="url(#gN)" opacity="0.91"/>
<circle cx="1012.6" cy="1347.6" r="5.4" fill="url(#gB)" opacity="0.91"/>
<circle cx="1018.4" cy="1353.5" r="5.4" fill="url(#gN)" opacity="0.91"/>
<circle cx="991.1" cy="1280.4" r="5.4" fill="url(#gB)" opacity="0.91"/>
<circle cx="1125.8" cy="1353.2" r="5.4" fill="url(#gN)" opacity="0.91"/>
<circle cx="1009.5" cy="1324.2" r="5.4" fill="url(#gB)" opacity="0.91"/>
<circle cx="1026.0" cy="1357.5" r="5.4" fill="url(#gB)" opacity="0.91"/>
<circle cx="1063.7" cy="1257.3" r="5.4" fill="url(#gB)" opacity="0.91"/>
<circle cx="1043.7" cy="1251.3" r="5.4" fill="url(#gN)" opacity="0.91"/>
<circle cx="1058.3" cy="1263.4" r="5.4" fill="url(#gN)" opacity="0.91"/>
<circle cx="1092.3" cy="1383.6" r="5.4" fill="url(#gN)" opacity="0.91"/>
<circle cx="1015.9" cy="1281.4" r="5.4" fill="url(#gB)" opacity="0.91"/>
<circle cx="1074.1" cy="1245.0" r="5.4" fill="url(#gN)" opacity="0.91"/>
<circle cx="1102.1" cy="1379.9" r="5.4" fill="url(#gN)" opacity="0.92"/>
<circle cx="1022.7" cy="1393.9" r="5.4" fill="url(#gN)" opacity="0.92"/>
<circle cx="1007.4" cy="1271.0" r="5.5" fill="url(#gB)" opacity="0.92"/>
<circle cx="1088.9" cy="1277.5" r="5.5" fill="url(#gB)" opacity="0.92"/>
<circle cx="1092.9" cy="1374.0" r="5.5" fill="url(#gB)" opacity="0.92"/>
<circle cx="1054.5" cy="1356.1" r="5.5" fill="url(#gB)" opacity="0.92"/>
<circle cx="1029.8" cy="1256.8" r="5.5" fill="url(#gB)" opacity="0.92"/>
<circle cx="1135.7" cy="1316.0" r="5.5" fill="url(#gN)" opacity="0.92"/>
<circle cx="1063.5" cy="1386.0" r="5.5" fill="url(#gB)" opacity="0.92"/>
<circle cx="1057.6" cy="1273.8" r="5.5" fill="url(#gN)" opacity="0.92"/>
<circle cx="1135.1" cy="1270.6" r="5.5" fill="url(#gN)" opacity="0.92"/>
<circle cx="1099.3" cy="1267.1" r="5.5" fill="url(#gN)" opacity="0.92"/>
<circle cx="1133.0" cy="1378.7" r="5.5" fill="url(#gB)" opacity="0.92"/>
<circle cx="1107.3" cy="1238.1" r="5.5" fill="url(#gN)" opacity="0.92"/>
<circle cx="1049.4" cy="1351.2" r="5.5" fill="url(#gB)" opacity="0.92"/>
<circle cx="1133.3" cy="1293.0" r="5.5" fill="url(#gB)" opacity="0.92"/>
<circle cx="1022.3" cy="1267.9" r="5.5" fill="url(#gN)" opacity="0.92"/>
<circle cx="1070.3" cy="1314.4" r="5.5" fill="url(#gB)" opacity="0.92"/>
<circle cx="1108.2" cy="1295.8" r="5.5" fill="url(#gB)" opacity="0.92"/>
<circle cx="999.2" cy="1330.0" r="5.5" fill="url(#gB)" opacity="0.92"/>
<circle cx="1055.2" cy="1374.7" r="5.5" fill="url(#gB)" opacity="0.92"/>
<circle cx="1053.0" cy="1388.8" r="5.5" fill="url(#gN)" opacity="0.92"/>
<circle cx="1041.1" cy="1278.3" r="5.5" fill="url(#gN)" opacity="0.93"/>
<circle cx="1038.3" cy="1257.1" r="5.5" fill="url(#gN)" opacity="0.93"/>
<circle cx="1073.4" cy="1337.8" r="5.5" fill="url(#gB)" opacity="0.93"/>
<circle cx="1119.8" cy="1263.9" r="5.5" fill="url(#gB)" opacity="0.93"/>
<circle cx="1139.1" cy="1255.2" r="5.5" fill="url(#gB)" opacity="0.93"/>
<circle cx="1049.6" cy="1304.4" r="5.5" fill="url(#gN)" opacity="0.93"/>
<circle cx="1058.1" cy="1284.7" r="5.5" fill="url(#gN)" opacity="0.93"/>
<circle cx="1057.7" cy="1248.8" r="5.5" fill="url(#gN)" opacity="0.93"/>
<circle cx="1101.2" cy="1366.9" r="5.5" fill="url(#gB)" opacity="0.93"/>
<circle cx="1028.2" cy="1342.5" r="5.5" fill="url(#gB)" opacity="0.93"/>
<circle cx="998.7" cy="1299.6" r="5.5" fill="url(#gB)" opacity="0.93"/>
<circle cx="1142.5" cy="1377.6" r="5.5" fill="url(#gB)" opacity="0.93"/>
<circle cx="1116.5" cy="1293.2" r="5.5" fill="url(#gN)" opacity="0.93"/>
<circle cx="1107.8" cy="1314.1" r="5.5" fill="url(#gN)" opacity="0.93"/>
<circle cx="1128.2" cy="1283.6" r="5.5" fill="url(#gB)" opacity="0.93"/>
<circle cx="1085.9" cy="1339.6" r="5.5" fill="url(#gN)" opacity="0.93"/>
<circle cx="1065.9" cy="1283.4" r="5.5" fill="url(#gN)" opacity="0.94"/>
<circle cx="1041.9" cy="1322.8" r="5.5" fill="url(#gB)" opacity="0.94"/>
<circle cx="1081.4" cy="1386.7" r="5.5" fill="url(#gN)" opacity="0.94"/>
<circle cx="1003.3" cy="1351.1" r="5.5" fill="url(#gN)" opacity="0.94"/>
<circle cx="1139.0" cy="1388.9" r="5.5" fill="url(#gN)" opacity="0.94"/>
<circle cx="1007.2" cy="1337.4" r="5.5" fill="url(#gN)" opacity="0.94"/>
<circle cx="1095.0" cy="1260.9" r="5.5" fill="url(#gB)" opacity="0.94"/>
<circle cx="1114.6" cy="1369.2" r="5.5" fill="url(#gB)" opacity="0.94"/>
<circle cx="1022.8" cy="1381.5" r="5.5" fill="url(#gB)" opacity="0.94"/>
<circle cx="1122.2" cy="1345.2" r="5.5" fill="url(#gN)" opacity="0.94"/>
<circle cx="1001.6" cy="1261.3" r="5.5" fill="url(#gN)" opacity="0.94"/>
<circle cx="1079.9" cy="1334.6" r="5.5" fill="url(#gB)" opacity="0.94"/>
<circle cx="1127.7" cy="1303.4" r="5.5" fill="url(#gN)" opacity="0.94"/>
<circle cx="1012.2" cy="1405.6" r="5.5" fill="url(#gB)" opacity="0.94"/>
<circle cx="1107.9" cy="1247.5" r="5.6" fill="url(#gN)" opacity="0.94"/>
<circle cx="1043.9" cy="1311.9" r="5.6" fill="url(#gN)" opacity="0.94"/>
<circle cx="1118.1" cy="1311.7" r="5.6" fill="url(#gB)" opacity="0.94"/>
<circle cx="1130.9" cy="1363.0" r="5.6" fill="url(#gN)" opacity="0.94"/>
<circle cx="1123.1" cy="1367.8" r="5.6" fill="url(#gB)" opacity="0.94"/>
<circle cx="1117.4" cy="1393.0" r="5.6" fill="url(#gN)" opacity="0.94"/>
<circle cx="1092.9" cy="1331.7" r="5.6" fill="url(#gN)" opacity="0.94"/>
<circle cx="1013.3" cy="1312.3" r="5.6" fill="url(#gN)" opacity="0.94"/>
<circle cx="1061.2" cy="1338.4" r="5.6" fill="url(#gN)" opacity="0.94"/>
<circle cx="1079.4" cy="1361.6" r="5.6" fill="url(#gB)" opacity="0.94"/>
<circle cx="1083.7" cy="1258.3" r="5.6" fill="url(#gN)" opacity="0.94"/>
<circle cx="1124.3" cy="1296.2" r="5.6" fill="url(#gN)" opacity="0.94"/>
<circle cx="1132.2" cy="1346.6" r="5.6" fill="url(#gB)" opacity="0.95"/>
<circle cx="1032.3" cy="1363.2" r="5.6" fill="url(#gB)" opacity="0.95"/>
<circle cx="1096.8" cy="1288.8" r="5.6" fill="url(#gB)" opacity="0.95"/>
<circle cx="1036.9" cy="1284.8" r="5.6" fill="url(#gB)" opacity="0.95"/>
<circle cx="1106.2" cy="1259.7" r="5.6" fill="url(#gB)" opacity="0.95"/>
<circle cx="1064.8" cy="1396.1" r="5.6" fill="url(#gN)" opacity="0.95"/>
<circle cx="1129.6" cy="1250.7" r="5.6" fill="url(#gB)" opacity="0.95"/>
<circle cx="1105.2" cy="1321.2" r="5.6" fill="url(#gB)" opacity="0.95"/>
<circle cx="1139.1" cy="1307.1" r="5.6" fill="url(#gB)" opacity="0.95"/>
<circle cx="1148.1" cy="1257.6" r="5.6" fill="url(#gN)" opacity="0.95"/>
<circle cx="1032.8" cy="1313.7" r="5.6" fill="url(#gB)" opacity="0.95"/>
<circle cx="1015.5" cy="1384.3" r="5.6" fill="url(#gB)" opacity="0.95"/>
<circle cx="1056.4" cy="1345.7" r="5.6" fill="url(#gN)" opacity="0.95"/>
<circle cx="1015.8" cy="1304.0" r="5.6" fill="url(#gN)" opacity="0.95"/>
<circle cx="1083.8" cy="1265.4" r="5.6" fill="url(#gB)" opacity="0.95"/>
<circle cx="1035.3" cy="1272.6" r="5.6" fill="url(#gN)" opacity="0.95"/>
<circle cx="1154.3" cy="1331.5" r="5.6" fill="url(#gB)" opacity="0.95"/>
<circle cx="1141.2" cy="1286.0" r="5.6" fill="url(#gN)" opacity="0.95"/>
<circle cx="1065.1" cy="1365.8" r="5.6" fill="url(#gN)" opacity="0.95"/>
<circle cx="1112.8" cy="1272.6" r="5.6" fill="url(#gB)" opacity="0.96"/>
<circle cx="1121.7" cy="1278.3" r="5.6" fill="url(#gB)" opacity="0.96"/>
<circle cx="1107.4" cy="1341.1" r="5.6" fill="url(#gN)" opacity="0.96"/>
<circle cx="1110.0" cy="1388.3" r="5.6" fill="url(#gN)" opacity="0.96"/>
<circle cx="1083.0" cy="1328.0" r="5.6" fill="url(#gB)" opacity="0.96"/>
<circle cx="1070.2" cy="1276.6" r="5.6" fill="url(#gN)" opacity="0.96"/>
<circle cx="1047.5" cy="1375.6" r="5.6" fill="url(#gB)" opacity="0.96"/>
<circle cx="1021.6" cy="1296.6" r="5.6" fill="url(#gB)" opacity="0.96"/>
<circle cx="1072.8" cy="1394.9" r="5.6" fill="url(#gN)" opacity="0.96"/>
<circle cx="1075.6" cy="1319.5" r="5.6" fill="url(#gB)" opacity="0.96"/>
<circle cx="1097.7" cy="1406.9" r="5.6" fill="url(#gB)" opacity="0.96"/>
<circle cx="1100.8" cy="1296.0" r="5.6" fill="url(#gN)" opacity="0.96"/>
<circle cx="1065.0" cy="1306.2" r="5.7" fill="url(#gB)" opacity="0.97"/>
<circle cx="1134.6" cy="1279.1" r="5.7" fill="url(#gB)" opacity="0.97"/>
<circle cx="1154.9" cy="1403.6" r="5.7" fill="url(#gB)" opacity="0.97"/>
<circle cx="1088.0" cy="1352.5" r="5.7" fill="url(#gB)" opacity="0.97"/>
<circle cx="1111.5" cy="1327.6" r="5.7" fill="url(#gN)" opacity="0.97"/>
<circle cx="1139.7" cy="1363.5" r="5.7" fill="url(#gN)" opacity="0.97"/>
<circle cx="1074.7" cy="1353.9" r="5.7" fill="url(#gB)" opacity="0.97"/>
<circle cx="1072.2" cy="1375.1" r="5.7" fill="url(#gN)" opacity="0.97"/>
<circle cx="1126.8" cy="1405.0" r="5.7" fill="url(#gN)" opacity="0.97"/>
<circle cx="1032.5" cy="1279.1" r="5.7" fill="url(#gN)" opacity="0.97"/>
<circle cx="1022.8" cy="1277.3" r="5.7" fill="url(#gB)" opacity="0.97"/>
<circle cx="1097.3" cy="1397.3" r="5.7" fill="url(#gN)" opacity="0.97"/>
<circle cx="1042.4" cy="1397.3" r="5.7" fill="url(#gB)" opacity="0.97"/>
<circle cx="1058.8" cy="1400.6" r="5.7" fill="url(#gN)" opacity="0.97"/>
<circle cx="1080.6" cy="1349.1" r="5.7" fill="url(#gB)" opacity="0.97"/>
<circle cx="1134.8" cy="1369.6" r="5.7" fill="url(#gN)" opacity="0.97"/>
<circle cx="1134.7" cy="1353.4" r="5.7" fill="url(#gB)" opacity="0.97"/>
<circle cx="1167.0" cy="1330.6" r="5.7" fill="url(#gN)" opacity="0.98"/>
<circle cx="1056.4" cy="1293.1" r="5.7" fill="url(#gB)" opacity="0.98"/>
<circle cx="1146.5" cy="1310.1" r="5.7" fill="url(#gN)" opacity="0.98"/>
<circle cx="1047.4" cy="1330.0" r="5.7" fill="url(#gB)" opacity="0.98"/>
<circle cx="1113.4" cy="1320.2" r="5.7" fill="url(#gN)" opacity="0.98"/>
<circle cx="1167.4" cy="1392.2" r="5.7" fill="url(#gB)" opacity="0.98"/>
<circle cx="1122.9" cy="1329.9" r="5.7" fill="url(#gN)" opacity="0.98"/>
<circle cx="1053.7" cy="1318.8" r="5.7" fill="url(#gB)" opacity="0.98"/>
<circle cx="1062.6" cy="1407.6" r="5.7" fill="url(#gB)" opacity="0.98"/>
<circle cx="1028.6" cy="1414.5" r="5.7" fill="url(#gB)" opacity="0.98"/>
<circle cx="1163.5" cy="1376.1" r="5.7" fill="url(#gB)" opacity="0.98"/>
<circle cx="1163.1" cy="1357.6" r="5.7" fill="url(#gN)" opacity="0.98"/>
<circle cx="1031.1" cy="1403.9" r="5.7" fill="url(#gB)" opacity="0.98"/>
<circle cx="1089.1" cy="1294.6" r="5.7" fill="url(#gN)" opacity="0.98"/>
<circle cx="1160.9" cy="1388.0" r="5.7" fill="url(#gN)" opacity="0.98"/>
<circle cx="1168.2" cy="1311.7" r="5.7" fill="url(#gB)" opacity="0.98"/>
<circle cx="1084.4" cy="1378.7" r="5.7" fill="url(#gB)" opacity="0.98"/>
<circle cx="1148.5" cy="1367.2" r="5.7" fill="url(#gB)" opacity="0.98"/>
<circle cx="1022.7" cy="1407.1" r="5.7" fill="url(#gB)" opacity="0.98"/>
<circle cx="1159.2" cy="1276.6" r="5.7" fill="url(#gN)" opacity="0.98"/>
<circle cx="1024.4" cy="1314.8" r="5.7" fill="url(#gB)" opacity="0.98"/>
<circle cx="1145.6" cy="1298.6" r="5.7" fill="url(#gB)" opacity="0.98"/>
<circle cx="1022.7" cy="1347.4" r="5.7" fill="url(#gN)" opacity="0.98"/>
<circle cx="1093.7" cy="1341.8" r="5.7" fill="url(#gN)" opacity="0.99"/>
<circle cx="1055.8" cy="1365.7" r="5.7" fill="url(#gB)" opacity="0.99"/>
<circle cx="1077.2" cy="1288.5" r="5.7" fill="url(#gB)" opacity="0.99"/>
<circle cx="1074.6" cy="1412.8" r="5.7" fill="url(#gB)" opacity="0.99"/>
<circle cx="1149.4" cy="1286.8" r="5.7" fill="url(#gN)" opacity="0.99"/>
<circle cx="1095.4" cy="1308.5" r="5.7" fill="url(#gN)" opacity="0.99"/>
<circle cx="1039.1" cy="1380.2" r="5.7" fill="url(#gB)" opacity="0.99"/>
<circle cx="1032.4" cy="1291.5" r="5.7" fill="url(#gB)" opacity="0.99"/>
<circle cx="1088.9" cy="1418.5" r="5.7" fill="url(#gB)" opacity="0.99"/>
<circle cx="1170.6" cy="1286.9" r="5.8" fill="url(#gB)" opacity="0.99"/>
<circle cx="1161.6" cy="1341.2" r="5.8" fill="url(#gB)" opacity="0.99"/>
<circle cx="1066.3" cy="1349.6" r="5.8" fill="url(#gB)" opacity="0.99"/>
<circle cx="1119.7" cy="1410.5" r="5.8" fill="url(#gB)" opacity="0.99"/>
<circle cx="1061.3" cy="1421.2" r="5.8" fill="url(#gB)" opacity="0.99"/>
<circle cx="1127.8" cy="1272.7" r="5.8" fill="url(#gN)" opacity="0.99"/>
<circle cx="1149.7" cy="1349.0" r="5.8" fill="url(#gN)" opacity="0.99"/>
<circle cx="1152.3" cy="1390.1" r="5.8" fill="url(#gB)" opacity="0.99"/>
<circle cx="1128.0" cy="1388.0" r="5.8" fill="url(#gN)" opacity="0.99"/>
<circle cx="1145.6" cy="1336.3" r="5.8" fill="url(#gB)" opacity="0.99"/>
<circle cx="1036.7" cy="1336.2" r="5.8" fill="url(#gN)" opacity="0.99"/>
<circle cx="1153.1" cy="1322.9" r="5.8" fill="url(#gN)" opacity="0.99"/>
<circle cx="1136.1" cy="1402.9" r="5.8" fill="url(#gN)" opacity="0.99"/>
<circle cx="1174.2" cy="1266.2" r="5.8" fill="url(#gN)" opacity="1.00"/>
<circle cx="1106.0" cy="1416.7" r="5.8" fill="url(#gB)" opacity="1.00"/>
<circle cx="1048.6" cy="1402.3" r="5.8" fill="url(#gN)" opacity="1.00"/>
<circle cx="1176.6" cy="1384.7" r="5.8" fill="url(#gN)" opacity="1.00"/>
<circle cx="1044.8" cy="1345.3" r="5.8" fill="url(#gB)" opacity="1.00"/>
<circle cx="1112.5" cy="1380.9" r="5.8" fill="url(#gN)" opacity="1.00"/>
<circle cx="1044.4" cy="1368.1" r="5.8" fill="url(#gB)" opacity="1.00"/>
<circle cx="1144.3" cy="1401.7" r="5.8" fill="url(#gB)" opacity="1.00"/>
<circle cx="1108.0" cy="1398.9" r="5.8" fill="url(#gB)" opacity="1.00"/>
<circle cx="1068.2" cy="1416.0" r="5.8" fill="url(#gN)" opacity="1.00"/>
<circle cx="1146.8" cy="1273.2" r="5.8" fill="url(#gB)" opacity="1.00"/>
<line x1="974.4" y1="1235.2" x2="1123.8" y2="1216.1" stroke="#2592c4" stroke-width="2.2" stroke-linecap="round"/>
<line x1="974.4" y1="1383.9" x2="1123.8" y2="1367.8" stroke="#2592c4" stroke-width="2.2" stroke-linecap="round"/>
<line x1="1029.6" y1="1285.0" x2="1179.0" y2="1267.4" stroke="#2592c4" stroke-width="2.2" stroke-linecap="round"/>
<line x1="1029.6" y1="1435.2" x2="1179.0" y2="1417.6" stroke="#2592c4" stroke-width="2.2" stroke-linecap="round"/>
<line x1="974.4" y1="1235.2" x2="974.4" y2="1383.9" stroke="#2592c4" stroke-width="2.2" stroke-linecap="round"/>
<line x1="1123.8" y1="1216.1" x2="1123.8" y2="1367.8" stroke="#2592c4" stroke-width="2.2" stroke-linecap="round"/>
<line x1="1029.6" y1="1285.0" x2="1029.6" y2="1435.2" stroke="#2592c4" stroke-width="2.2" stroke-linecap="round"/>
<line x1="1179.0" y1="1267.4" x2="1179.0" y2="1417.6" stroke="#2592c4" stroke-width="2.2" stroke-linecap="round"/>
<line x1="974.4" y1="1235.2" x2="1029.6" y2="1285.0" stroke="#2592c4" stroke-width="2.2" stroke-linecap="round"/>
<line x1="1123.8" y1="1216.1" x2="1179.0" y2="1267.4" stroke="#2592c4" stroke-width="2.2" stroke-linecap="round"/>
<line x1="974.4" y1="1383.9" x2="1029.6" y2="1435.2" stroke="#2592c4" stroke-width="2.2" stroke-linecap="round"/>
<line x1="1123.8" y1="1367.8" x2="1179.0" y2="1417.6" stroke="#2592c4" stroke-width="2.2" stroke-linecap="round"/>
<text transform="translate(963.0,1298.0) rotate(-90) scale(1.08,1)" text-anchor="middle" font-family="Liberation Sans, Arial, sans-serif" font-weight="bold" font-size="30.5" fill="#1010b4">U-Q</text>
<circle cx="1322.4" cy="1353.8" r="5.3" fill="url(#gB)" opacity="0.88"/>
<circle cx="1338.4" cy="1285.8" r="5.3" fill="url(#gN)" opacity="0.88"/>
<circle cx="1244.3" cy="1256.8" r="5.3" fill="url(#gN)" opacity="0.88"/>
<circle cx="1270.7" cy="1319.4" r="5.3" fill="url(#gB)" opacity="0.88"/>
<circle cx="1223.1" cy="1331.1" r="5.3" fill="url(#gB)" opacity="0.88"/>
<circle cx="1227.4" cy="1253.9" r="5.3" fill="url(#gN)" opacity="0.88"/>
<circle cx="1341.0" cy="1330.3" r="5.3" fill="url(#gN)" opacity="0.88"/>
<circle cx="1332.7" cy="1225.2" r="5.3" fill="url(#gB)" opacity="0.89"/>
<circle cx="1367.2" cy="1310.1" r="5.3" fill="url(#gN)" opacity="0.89"/>
<circle cx="1344.5" cy="1254.1" r="5.3" fill="url(#gN)" opacity="0.89"/>
<circle cx="1218.8" cy="1361.6" r="5.3" fill="url(#gN)" opacity="0.89"/>
<circle cx="1376.5" cy="1350.5" r="5.3" fill="url(#gB)" opacity="0.89"/>
<circle cx="1273.7" cy="1225.2" r="5.3" fill="url(#gB)" opacity="0.89"/>
<circle cx="1240.2" cy="1244.6" r="5.3" fill="url(#gN)" opacity="0.89"/>
<circle cx="1365.5" cy="1279.6" r="5.3" fill="url(#gN)" opacity="0.89"/>
<circle cx="1319.6" cy="1281.2" r="5.3" fill="url(#gB)" opacity="0.89"/>
<circle cx="1258.2" cy="1331.8" r="5.3" fill="url(#gN)" opacity="0.89"/>
<circle cx="1255.0" cy="1225.8" r="5.3" fill="url(#gB)" opacity="0.89"/>
<circle cx="1365.9" cy="1241.7" r="5.3" fill="url(#gB)" opacity="0.89"/>
<circle cx="1320.4" cy="1221.3" r="5.4" fill="url(#gN)" opacity="0.89"/>
<circle cx="1306.0" cy="1261.3" r="5.4" fill="url(#gN)" opacity="0.89"/>
<circle cx="1307.9" cy="1236.3" r="5.4" fill="url(#gB)" opacity="0.89"/>
<circle cx="1217.5" cy="1376.2" r="5.4" fill="url(#gN)" opacity="0.89"/>
<circle cx="1340.7" cy="1307.3" r="5.4" fill="url(#gN)" opacity="0.89"/>
<circle cx="1233.2" cy="1296.6" r="5.4" fill="url(#gN)" opacity="0.89"/>
<circle cx="1350.1" cy="1378.3" r="5.4" fill="url(#gB)" opacity="0.89"/>
<circle cx="1233.1" cy="1380.9" r="5.4" fill="url(#gN)" opacity="0.89"/>
<circle cx="1247.7" cy="1275.7" r="5.4" fill="url(#gN)" opacity="0.89"/>
<circle cx="1283.7" cy="1252.2" r="5.4" fill="url(#gN)" opacity="0.89"/>
<circle cx="1258.8" cy="1287.1" r="5.4" fill="url(#gN)" opacity="0.90"/>
<circle cx="1224.0" cy="1247.2" r="5.4" fill="url(#gB)" opacity="0.90"/>
<circle cx="1302.2" cy="1276.5" r="5.4" fill="url(#gB)" opacity="0.90"/>
<circle cx="1261.4" cy="1267.2" r="5.4" fill="url(#gB)" opacity="0.90"/>
<circle cx="1353.4" cy="1247.2" r="5.4" fill="url(#gN)" opacity="0.90"/>
<circle cx="1358.9" cy="1277.2" r="5.4" fill="url(#gB)" opacity="0.90"/>
<circle cx="1243.5" cy="1348.7" r="5.4" fill="url(#gB)" opacity="0.90"/>
<circle cx="1328.4" cy="1360.0" r="5.4" fill="url(#gB)" opacity="0.90"/>
<circle cx="1296.4" cy="1242.4" r="5.4" fill="url(#gN)" opacity="0.90"/>
<circle cx="1234.2" cy="1257.0" r="5.4" fill="url(#gB)" opacity="0.90"/>
<circle cx="1220.5" cy="1271.5" r="5.4" fill="url(#gB)" opacity="0.90"/>
<circle cx="1287.8" cy="1371.5" r="5.4" fill="url(#gN)" opacity="0.90"/>
<circle cx="1239.5" cy="1324.0" r="5.4" fill="url(#gB)" opacity="0.90"/>
<circle cx="1257.7" cy="1370.5" r="5.4" fill="url(#gN)" opacity="0.90"/>
<circle cx="1229.8" cy="1359.1" r="5.4" fill="url(#gB)" opacity="0.90"/>
<circle cx="1320.4" cy="1251.1" r="5.4" fill="url(#gN)" opacity="0.90"/>
<circle cx="1335.6" cy="1276.9" r="5.4" fill="url(#gN)" opacity="0.90"/>
<circle cx="1295.3" cy="1279.0" r="5.4" fill="url(#gB)" opacity="0.90"/>
<circle cx="1287.8" cy="1344.8" r="5.4" fill="url(#gB)" opacity="0.90"/>
<circle cx="1231.2" cy="1351.4" r="5.4" fill="url(#gB)" opacity="0.90"/>
<circle cx="1359.3" cy="1372.5" r="5.4" fill="url(#gN)" opacity="0.90"/>
<circle cx="1352.6" cy="1354.9" r="5.4" fill="url(#gN)" opacity="0.90"/>
<circle cx="1315.6" cy="1328.0" r="5.4" fill="url(#gB)" opacity="0.90"/>
<circle cx="1349.6" cy="1231.4" r="5.4" fill="url(#gB)" opacity="0.90"/>
<circle cx="1264.7" cy="1385.6" r="5.4" fill="url(#gB)" opacity="0.90"/>
<circle cx="1375.9" cy="1299.5" r="5.4" fill="url(#gN)" opacity="0.91"/>
<circle cx="1277.9" cy="1282.1" r="5.4" fill="url(#gB)" opacity="0.91"/>
<circle cx="1313.7" cy="1351.6" r="5.4" fill="url(#gB)" opacity="0.91"/>
<circle cx="1330.7" cy="1313.4" r="5.4" fill="url(#gN)" opacity="0.91"/>
<circle cx="1225.3" cy="1297.0" r="5.4" fill="url(#gN)" opacity="0.91"/>
<circle cx="1368.9" cy="1233.3" r="5.4" fill="url(#gB)" opacity="0.91"/>
<circle cx="1355.6" cy="1323.7" r="5.4" fill="url(#gN)" opacity="0.91"/>
<circle cx="1373.9" cy="1323.1" r="5.4" fill="url(#gB)" opacity="0.91"/>
<circle cx="1339.4" cy="1299.9" r="5.4" fill="url(#gB)" opacity="0.91"/>
<circle cx="1325.3" cy="1320.1" r="5.4" fill="url(#gN)" opacity="0.91"/>
<circle cx="1362.5" cy="1319.4" r="5.4" fill="url(#gN)" opacity="0.91"/>
<circle cx="1378.2" cy="1363.7" r="5.4" fill="url(#gB)" opacity="0.91"/>
<circle cx="1246.9" cy="1327.7" r="5.4" fill="url(#gB)" opacity="0.91"/>
<circle cx="1327.2" cy="1337.0" r="5.4" fill="url(#gN)" opacity="0.91"/>
<circle cx="1238.0" cy="1270.4" r="5.4" fill="url(#gN)" opacity="0.91"/>
<circle cx="1354.1" cy="1271.0" r="5.4" fill="url(#gB)" opacity="0.91"/>
<circle cx="1233.3" cy="1314.2" r="5.4" fill="url(#gN)" opacity="0.91"/>
<circle cx="1353.8" cy="1257.9" r="5.4" fill="url(#gN)" opacity="0.91"/>
<circle cx="1347.4" cy="1370.5" r="5.5" fill="url(#gB)" opacity="0.92"/>
<circle cx="1258.7" cy="1299.5" r="5.5" fill="url(#gB)" opacity="0.92"/>
<circle cx="1284.1" cy="1286.5" r="5.5" fill="url(#gB)" opacity="0.92"/>
<circle cx="1340.9" cy="1317.1" r="5.5" fill="url(#gN)" opacity="0.92"/>
<circle cx="1246.7" cy="1340.6" r="5.5" fill="url(#gN)" opacity="0.92"/>
<circle cx="1276.0" cy="1292.3" r="5.5" fill="url(#gB)" opacity="0.92"/>
<circle cx="1346.6" cy="1293.6" r="5.5" fill="url(#gN)" opacity="0.92"/>
<circle cx="1307.8" cy="1331.5" r="5.5" fill="url(#gB)" opacity="0.92"/>
<circle cx="1288.4" cy="1244.9" r="5.5" fill="url(#gB)" opacity="0.92"/>
<circle cx="1302.5" cy="1365.7" r="5.5" fill="url(#gN)" opacity="0.92"/>
<circle cx="1237.0" cy="1306.3" r="5.5" fill="url(#gB)" opacity="0.92"/>
<circle cx="1374.9" cy="1280.8" r="5.5" fill="url(#gB)" opacity="0.92"/>
<circle cx="1368.3" cy="1352.5" r="5.5" fill="url(#gB)" opacity="0.92"/>
<circle cx="1283.3" cy="1361.4" r="5.5" fill="url(#gB)" opacity="0.92"/>
<circle cx="1271.4" cy="1284.6" r="5.5" fill="url(#gB)" opacity="0.92"/>
<circle cx="1361.2" cy="1301.3" r="5.5" fill="url(#gN)" opacity="0.92"/>
<circle cx="1265.5" cy="1291.4" r="5.5" fill="url(#gN)" opacity="0.92"/>
<circle cx="1305.6" cy="1245.4" r="5.5" fill="url(#gN)" opacity="0.92"/>
<circle cx="1293.6" cy="1357.1" r="5.5" fill="url(#gB)" opacity="0.92"/>
<circle cx="1317.1" cy="1289.7" r="5.5" fill="url(#gB)" opacity="0.92"/>
<circle cx="1232.5" cy="1395.0" r="5.5" fill="url(#gN)" opacity="0.93"/>
<circle cx="1305.4" cy="1311.6" r="5.5" fill="url(#gB)" opacity="0.93"/>
<circle cx="1388.5" cy="1290.7" r="5.5" fill="url(#gN)" opacity="0.93"/>
<circle cx="1353.0" cy="1394.7" r="5.5" fill="url(#gN)" opacity="0.93"/>
<circle cx="1372.2" cy="1333.8" r="5.5" fill="url(#gB)" opacity="0.93"/>
<circle cx="1316.8" cy="1335.9" r="5.5" fill="url(#gN)" opacity="0.93"/>
<circle cx="1244.6" cy="1314.7" r="5.5" fill="url(#gB)" opacity="0.93"/>
<circle cx="1324.6" cy="1304.7" r="5.5" fill="url(#gB)" opacity="0.93"/>
<circle cx="1327.3" cy="1287.3" r="5.5" fill="url(#gN)" opacity="0.93"/>
<circle cx="1270.9" cy="1239.6" r="5.5" fill="url(#gN)" opacity="0.93"/>
<circle cx="1323.3" cy="1237.5" r="5.5" fill="url(#gN)" opacity="0.93"/>
<circle cx="1377.5" cy="1242.0" r="5.5" fill="url(#gN)" opacity="0.93"/>
<circle cx="1370.6" cy="1373.8" r="5.5" fill="url(#gN)" opacity="0.93"/>
<circle cx="1373.8" cy="1255.7" r="5.5" fill="url(#gB)" opacity="0.93"/>
<circle cx="1355.5" cy="1385.6" r="5.5" fill="url(#gN)" opacity="0.93"/>
<circle cx="1244.4" cy="1403.4" r="5.5" fill="url(#gB)" opacity="0.93"/>
<circle cx="1315.2" cy="1256.8" r="5.5" fill="url(#gB)" opacity="0.93"/>
<circle cx="1298.4" cy="1333.7" r="5.5" fill="url(#gN)" opacity="0.93"/>
<circle cx="1248.3" cy="1287.4" r="5.5" fill="url(#gB)" opacity="0.93"/>
<circle cx="1355.7" cy="1291.6" r="5.5" fill="url(#gB)" opacity="0.93"/>
<circle cx="1259.2" cy="1251.8" r="5.5" fill="url(#gB)" opacity="0.94"/>
<circle cx="1292.4" cy="1260.9" r="5.5" fill="url(#gN)" opacity="0.94"/>
<circle cx="1376.1" cy="1268.0" r="5.5" fill="url(#gN)" opacity="0.94"/>
<circle cx="1271.7" cy="1402.2" r="5.5" fill="url(#gB)" opacity="0.94"/>
<circle cx="1237.5" cy="1386.5" r="5.5" fill="url(#gB)" opacity="0.94"/>
<circle cx="1381.7" cy="1278.9" r="5.5" fill="url(#gB)" opacity="0.94"/>
<circle cx="1264.6" cy="1361.2" r="5.5" fill="url(#gB)" opacity="0.94"/>
<circle cx="1381.4" cy="1260.1" r="5.5" fill="url(#gN)" opacity="0.94"/>
<circle cx="1251.9" cy="1385.7" r="5.5" fill="url(#gB)" opacity="0.94"/>
<circle cx="1273.5" cy="1363.3" r="5.5" fill="url(#gB)" opacity="0.94"/>
<circle cx="1379.7" cy="1249.7" r="5.5" fill="url(#gN)" opacity="0.94"/>
<circle cx="1329.1" cy="1245.0" r="5.5" fill="url(#gB)" opacity="0.94"/>
<circle cx="1255.4" cy="1274.7" r="5.5" fill="url(#gN)" opacity="0.94"/>
<circle cx="1267.4" cy="1250.9" r="5.6" fill="url(#gB)" opacity="0.94"/>
<circle cx="1302.5" cy="1400.6" r="5.6" fill="url(#gB)" opacity="0.94"/>
<circle cx="1360.9" cy="1248.6" r="5.6" fill="url(#gN)" opacity="0.94"/>
<circle cx="1398.3" cy="1360.0" r="5.6" fill="url(#gN)" opacity="0.94"/>
<circle cx="1336.4" cy="1247.6" r="5.6" fill="url(#gN)" opacity="0.94"/>
<circle cx="1336.5" cy="1391.4" r="5.6" fill="url(#gN)" opacity="0.94"/>
<circle cx="1304.5" cy="1349.0" r="5.6" fill="url(#gN)" opacity="0.94"/>
<circle cx="1389.8" cy="1246.0" r="5.6" fill="url(#gN)" opacity="0.94"/>
<circle cx="1317.1" cy="1319.0" r="5.6" fill="url(#gN)" opacity="0.94"/>
<circle cx="1385.3" cy="1361.7" r="5.6" fill="url(#gN)" opacity="0.94"/>
<circle cx="1388.4" cy="1336.6" r="5.6" fill="url(#gN)" opacity="0.94"/>
<circle cx="1294.1" cy="1300.2" r="5.6" fill="url(#gB)" opacity="0.94"/>
<circle cx="1274.5" cy="1326.3" r="5.6" fill="url(#gN)" opacity="0.95"/>
<circle cx="1306.0" cy="1296.9" r="5.6" fill="url(#gB)" opacity="0.95"/>
<circle cx="1399.2" cy="1338.4" r="5.6" fill="url(#gB)" opacity="0.95"/>
<circle cx="1381.4" cy="1397.5" r="5.6" fill="url(#gN)" opacity="0.95"/>
<circle cx="1252.0" cy="1264.9" r="5.6" fill="url(#gN)" opacity="0.95"/>
<circle cx="1334.4" cy="1322.2" r="5.6" fill="url(#gN)" opacity="0.95"/>
<circle cx="1282.3" cy="1407.2" r="5.6" fill="url(#gN)" opacity="0.95"/>
<circle cx="1240.7" cy="1285.1" r="5.6" fill="url(#gB)" opacity="0.95"/>
<circle cx="1384.0" cy="1319.2" r="5.6" fill="url(#gN)" opacity="0.95"/>
<circle cx="1388.3" cy="1325.2" r="5.6" fill="url(#gN)" opacity="0.95"/>
<circle cx="1259.2" cy="1394.1" r="5.6" fill="url(#gN)" opacity="0.95"/>
<circle cx="1324.7" cy="1275.3" r="5.6" fill="url(#gN)" opacity="0.95"/>
<circle cx="1343.4" cy="1261.1" r="5.6" fill="url(#gB)" opacity="0.95"/>
<circle cx="1264.8" cy="1347.5" r="5.6" fill="url(#gN)" opacity="0.95"/>
<circle cx="1275.8" cy="1252.3" r="5.6" fill="url(#gB)" opacity="0.95"/>
<circle cx="1314.8" cy="1264.7" r="5.6" fill="url(#gN)" opacity="0.95"/>
<circle cx="1274.1" cy="1348.2" r="5.6" fill="url(#gB)" opacity="0.95"/>
<circle cx="1330.2" cy="1256.2" r="5.6" fill="url(#gN)" opacity="0.95"/>
<circle cx="1349.0" cy="1345.6" r="5.6" fill="url(#gN)" opacity="0.95"/>
<circle cx="1342.8" cy="1349.1" r="5.6" fill="url(#gB)" opacity="0.95"/>
<circle cx="1340.3" cy="1372.1" r="5.6" fill="url(#gB)" opacity="0.95"/>
<circle cx="1398.1" cy="1331.1" r="5.6" fill="url(#gN)" opacity="0.95"/>
<circle cx="1310.4" cy="1375.2" r="5.6" fill="url(#gN)" opacity="0.95"/>
<circle cx="1341.8" cy="1379.7" r="5.6" fill="url(#gB)" opacity="0.95"/>
<circle cx="1387.1" cy="1343.7" r="5.6" fill="url(#gN)" opacity="0.95"/>
<circle cx="1382.6" cy="1377.8" r="5.6" fill="url(#gN)" opacity="0.95"/>
<circle cx="1275.5" cy="1410.7" r="5.6" fill="url(#gB)" opacity="0.95"/>
<circle cx="1327.8" cy="1406.9" r="5.6" fill="url(#gB)" opacity="0.95"/>
<circle cx="1359.7" cy="1352.9" r="5.6" fill="url(#gN)" opacity="0.95"/>
<circle cx="1380.0" cy="1312.0" r="5.6" fill="url(#gN)" opacity="0.96"/>
<circle cx="1248.3" cy="1362.4" r="5.6" fill="url(#gB)" opacity="0.96"/>
<circle cx="1302.8" cy="1408.3" r="5.6" fill="url(#gB)" opacity="0.96"/>
<circle cx="1284.6" cy="1399.3" r="5.6" fill="url(#gB)" opacity="0.96"/>
<circle cx="1391.9" cy="1383.2" r="5.6" fill="url(#gN)" opacity="0.96"/>
<circle cx="1299.1" cy="1342.8" r="5.6" fill="url(#gN)" opacity="0.96"/>
<circle cx="1292.7" cy="1268.6" r="5.6" fill="url(#gN)" opacity="0.96"/>
<circle cx="1253.8" cy="1377.4" r="5.6" fill="url(#gB)" opacity="0.96"/>
<circle cx="1244.0" cy="1306.1" r="5.6" fill="url(#gB)" opacity="0.96"/>
<circle cx="1353.9" cy="1299.7" r="5.6" fill="url(#gN)" opacity="0.96"/>
<circle cx="1323.6" cy="1371.7" r="5.6" fill="url(#gN)" opacity="0.96"/>
<circle cx="1398.9" cy="1300.9" r="5.6" fill="url(#gN)" opacity="0.96"/>
<circle cx="1370.4" cy="1291.9" r="5.6" fill="url(#gN)" opacity="0.96"/>
<circle cx="1353.7" cy="1403.5" r="5.6" fill="url(#gB)" opacity="0.96"/>
<circle cx="1404.2" cy="1262.7" r="5.7" fill="url(#gB)" opacity="0.96"/>
<circle cx="1371.8" cy="1402.6" r="5.7" fill="url(#gB)" opacity="0.96"/>
<circle cx="1401.3" cy="1252.3" r="5.7" fill="url(#gN)" opacity="0.96"/>
<circle cx="1253.4" cy="1318.8" r="5.7" fill="url(#gB)" opacity="0.96"/>
<circle cx="1335.8" cy="1410.9" r="5.7" fill="url(#gN)" opacity="0.97"/>
<circle cx="1267.6" cy="1260.7" r="5.7" fill="url(#gN)" opacity="0.97"/>
<circle cx="1399.2" cy="1269.1" r="5.7" fill="url(#gB)" opacity="0.97"/>
<circle cx="1277.4" cy="1377.8" r="5.7" fill="url(#gB)" opacity="0.97"/>
<circle cx="1335.3" cy="1267.0" r="5.7" fill="url(#gB)" opacity="0.97"/>
<circle cx="1404.2" cy="1326.6" r="5.7" fill="url(#gN)" opacity="0.97"/>
<circle cx="1387.7" cy="1269.6" r="5.7" fill="url(#gB)" opacity="0.97"/>
<circle cx="1400.3" cy="1316.4" r="5.7" fill="url(#gN)" opacity="0.97"/>
<circle cx="1352.9" cy="1331.5" r="5.7" fill="url(#gB)" opacity="0.97"/>
<circle cx="1358.3" cy="1361.1" r="5.7" fill="url(#gB)" opacity="0.97"/>
<circle cx="1300.7" cy="1268.8" r="5.7" fill="url(#gB)" opacity="0.97"/>
<circle cx="1361.3" cy="1337.8" r="5.7" fill="url(#gB)" opacity="0.97"/>
<circle cx="1362.8" cy="1384.9" r="5.7" fill="url(#gB)" opacity="0.97"/>
<circle cx="1391.1" cy="1392.5" r="5.7" fill="url(#gB)" opacity="0.97"/>
<circle cx="1348.3" cy="1313.6" r="5.7" fill="url(#gB)" opacity="0.97"/>
<circle cx="1318.9" cy="1381.1" r="5.7" fill="url(#gB)" opacity="0.97"/>
<circle cx="1251.8" cy="1310.7" r="5.7" fill="url(#gN)" opacity="0.97"/>
<circle cx="1361.3" cy="1263.7" r="5.7" fill="url(#gN)" opacity="0.98"/>
<circle cx="1299.9" cy="1257.9" r="5.7" fill="url(#gB)" opacity="0.98"/>
<circle cx="1299.2" cy="1292.2" r="5.7" fill="url(#gN)" opacity="0.98"/>
<circle cx="1342.8" cy="1406.7" r="5.7" fill="url(#gB)" opacity="0.98"/>
<circle cx="1300.4" cy="1326.0" r="5.7" fill="url(#gN)" opacity="0.98"/>
<circle cx="1314.3" cy="1386.8" r="5.7" fill="url(#gN)" opacity="0.98"/>
<circle cx="1297.4" cy="1393.0" r="5.7" fill="url(#gN)" opacity="0.98"/>
<circle cx="1269.5" cy="1395.2" r="5.7" fill="url(#gB)" opacity="0.98"/>
<circle cx="1346.8" cy="1363.4" r="5.7" fill="url(#gB)" opacity="0.98"/>
<circle cx="1366.1" cy="1408.2" r="5.7" fill="url(#gB)" opacity="0.98"/>
<circle cx="1264.2" cy="1378.4" r="5.7" fill="url(#gN)" opacity="0.98"/>
<circle cx="1257.9" cy="1407.8" r="5.7" fill="url(#gB)" opacity="0.98"/>
<circle cx="1252.4" cy="1420.1" r="5.7" fill="url(#gB)" opacity="0.98"/>
<circle cx="1302.1" cy="1384.2" r="5.7" fill="url(#gN)" opacity="0.98"/>
<circle cx="1261.6" cy="1401.1" r="5.7" fill="url(#gN)" opacity="0.98"/>
<circle cx="1281.5" cy="1330.8" r="5.7" fill="url(#gB)" opacity="0.98"/>
<circle cx="1363.7" cy="1287.1" r="5.7" fill="url(#gN)" opacity="0.98"/>
<circle cx="1276.1" cy="1300.1" r="5.7" fill="url(#gN)" opacity="0.98"/>
<circle cx="1407.6" cy="1382.7" r="5.7" fill="url(#gN)" opacity="0.98"/>
<circle cx="1272.0" cy="1268.1" r="5.7" fill="url(#gB)" opacity="0.98"/>
<circle cx="1276.5" cy="1308.6" r="5.7" fill="url(#gB)" opacity="0.98"/>
<circle cx="1309.4" cy="1319.4" r="5.7" fill="url(#gB)" opacity="0.98"/>
<circle cx="1266.4" cy="1368.9" r="5.7" fill="url(#gN)" opacity="0.98"/>
<circle cx="1395.8" cy="1408.0" r="5.7" fill="url(#gB)" opacity="0.98"/>
<circle cx="1284.9" cy="1381.7" r="5.7" fill="url(#gB)" opacity="0.98"/>
<circle cx="1321.1" cy="1345.8" r="5.7" fill="url(#gN)" opacity="0.98"/>
<circle cx="1415.4" cy="1340.3" r="5.7" fill="url(#gN)" opacity="0.98"/>
<circle cx="1369.1" cy="1364.7" r="5.7" fill="url(#gN)" opacity="0.99"/>
<circle cx="1380.2" cy="1326.9" r="5.7" fill="url(#gN)" opacity="0.99"/>
<circle cx="1312.5" cy="1309.3" r="5.7" fill="url(#gN)" opacity="0.99"/>
<circle cx="1409.1" cy="1360.0" r="5.7" fill="url(#gN)" opacity="0.99"/>
<circle cx="1412.4" cy="1297.1" r="5.7" fill="url(#gB)" opacity="0.99"/>
<circle cx="1287.1" cy="1391.0" r="5.7" fill="url(#gB)" opacity="0.99"/>
<circle cx="1367.9" cy="1342.9" r="5.7" fill="url(#gB)" opacity="0.99"/>
<circle cx="1339.4" cy="1358.5" r="5.7" fill="url(#gN)" opacity="0.99"/>
<circle cx="1404.7" cy="1390.9" r="5.8" fill="url(#gB)" opacity="0.99"/>
<circle cx="1318.3" cy="1410.1" r="5.8" fill="url(#gB)" opacity="0.99"/>
<circle cx="1263.1" cy="1325.2" r="5.8" fill="url(#gN)" opacity="0.99"/>
<circle cx="1261.8" cy="1306.0" r="5.8" fill="url(#gN)" opacity="0.99"/>
<circle cx="1330.3" cy="1381.3" r="5.8" fill="url(#gB)" opacity="0.99"/>
<circle cx="1355.0" cy="1310.9" r="5.8" fill="url(#gB)" opacity="0.99"/>
<circle cx="1397.5" cy="1399.4" r="5.8" fill="url(#gB)" opacity="0.99"/>
<circle cx="1289.0" cy="1308.2" r="5.8" fill="url(#gN)" opacity="0.99"/>
<circle cx="1395.6" cy="1373.4" r="5.8" fill="url(#gN)" opacity="0.99"/>
<circle cx="1306.3" cy="1288.7" r="5.8" fill="url(#gN)" opacity="0.99"/>
<circle cx="1415.7" cy="1307.6" r="5.8" fill="url(#gN)" opacity="0.99"/>
<circle cx="1393.1" cy="1277.3" r="5.8" fill="url(#gN)" opacity="0.99"/>
<circle cx="1415.4" cy="1326.8" r="5.8" fill="url(#gN)" opacity="0.99"/>
<circle cx="1345.4" cy="1392.8" r="5.8" fill="url(#gB)" opacity="0.99"/>
<circle cx="1282.4" cy="1276.2" r="5.8" fill="url(#gB)" opacity="0.99"/>
<circle cx="1298.9" cy="1374.0" r="5.8" fill="url(#gN)" opacity="0.99"/>
<circle cx="1414.8" cy="1260.6" r="5.8" fill="url(#gN)" opacity="0.99"/>
<circle cx="1361.6" cy="1401.1" r="5.8" fill="url(#gN)" opacity="0.99"/>
<circle cx="1389.4" cy="1283.4" r="5.8" fill="url(#gN)" opacity="0.99"/>
<circle cx="1415.1" cy="1285.4" r="5.8" fill="url(#gB)" opacity="1.00"/>
<circle cx="1391.8" cy="1308.1" r="5.8" fill="url(#gN)" opacity="1.00"/>
<circle cx="1375.1" cy="1357.4" r="5.8" fill="url(#gN)" opacity="1.00"/>
<circle cx="1390.1" cy="1417.2" r="5.8" fill="url(#gN)" opacity="1.00"/>
<circle cx="1370.8" cy="1389.2" r="5.8" fill="url(#gN)" opacity="1.00"/>
<circle cx="1403.0" cy="1374.0" r="5.8" fill="url(#gB)" opacity="1.00"/>
<circle cx="1315.1" cy="1364.3" r="5.8" fill="url(#gB)" opacity="1.00"/>
<circle cx="1283.7" cy="1422.0" r="5.8" fill="url(#gN)" opacity="1.00"/>
<circle cx="1292.8" cy="1338.2" r="5.8" fill="url(#gN)" opacity="1.00"/>
<circle cx="1408.7" cy="1416.3" r="5.8" fill="url(#gN)" opacity="1.00"/>
<line x1="1212.2" y1="1224.5" x2="1374.7" y2="1211.5" stroke="#1c96d0" stroke-width="2.8" stroke-dasharray="2.8 4.4"/>
<line x1="1212.2" y1="1386.2" x2="1374.7" y2="1374.7" stroke="#1c96d0" stroke-width="2.8" stroke-dasharray="2.8 4.4"/>
<line x1="1259.0" y1="1267.4" x2="1422.2" y2="1256.7" stroke="#1c96d0" stroke-width="2.8" stroke-dasharray="2.8 4.4"/>
<line x1="1259.0" y1="1431.5" x2="1422.2" y2="1419.2" stroke="#1c96d0" stroke-width="2.8" stroke-dasharray="2.8 4.4"/>
<line x1="1212.2" y1="1224.5" x2="1212.2" y2="1386.2" stroke="#1c96d0" stroke-width="2.8" stroke-dasharray="2.8 4.4"/>
<line x1="1374.7" y1="1211.5" x2="1374.7" y2="1374.7" stroke="#1c96d0" stroke-width="2.8" stroke-dasharray="2.8 4.4"/>
<line x1="1259.0" y1="1267.4" x2="1259.0" y2="1431.5" stroke="#1c96d0" stroke-width="2.8" stroke-dasharray="2.8 4.4"/>
<line x1="1422.2" y1="1256.7" x2="1422.2" y2="1419.2" stroke="#1c96d0" stroke-width="2.8" stroke-dasharray="2.8 4.4"/>
<line x1="1212.2" y1="1224.5" x2="1259.0" y2="1267.4" stroke="#1c96d0" stroke-width="2.4" stroke-dasharray="1.1 1.5" opacity="0.75"/>
<line x1="1374.7" y1="1211.5" x2="1422.2" y2="1256.7" stroke="#1c96d0" stroke-width="2.4" stroke-dasharray="1.1 1.5" opacity="0.75"/>
<line x1="1212.2" y1="1386.2" x2="1259.0" y2="1431.5" stroke="#1c96d0" stroke-width="2.4" stroke-dasharray="1.1 1.5" opacity="0.75"/>
<line x1="1374.7" y1="1374.7" x2="1422.2" y2="1419.2" stroke="#1c96d0" stroke-width="2.4" stroke-dasharray="1.1 1.5" opacity="0.75"/>
<text transform="translate(1432.9,1308.8) rotate(90) scale(1.08,1)" text-anchor="middle" font-family="Liberation Sans, Arial, sans-serif" font-weight="bold" font-size="30.5" fill="#1010b4">M-Q</text>
<path d="M599.6,1476.9 L650.0,1476.9 L700.0,1477.0 L710.1,1477.0 L714.4,1476.4 L717.8,1475.6 L720.6,1474.7 L722.3,1473.8 L723.7,1472.5 L725.0,1470.7 L726.3,1468.2 L727.6,1464.9 L728.9,1460.9 L731.5,1450.7 L734.0,1437.9 L736.5,1422.3 L738.9,1404.7 L741.4,1383.5 L743.9,1359.6 L748.6,1308.8 L758.1,1197.2 L762.8,1144.3 L767.6,1094.7 L772.0,1054.5 L774.4,1035.1 L776.7,1018.5 L778.9,1004.6 L781.1,992.7 L783.2,983.5 L785.2,976.8 L787.2,972.4 L788.2,971.1 L789.2,970.3 L790.0,970.2 L790.9,970.6 L791.7,971.3 L792.6,972.6 L794.4,976.4 L796.2,981.9 L798.1,989.2 L799.9,997.6 L801.7,1007.6 L803.5,1019.2 L807.1,1047.0 L810.9,1082.7 L814.8,1124.7 L825.9,1251.9 L829.3,1286.4 L832.4,1313.5 L834.4,1328.3 L836.4,1341.2 L838.4,1352.1 L840.4,1361.0 L842.4,1368.0 L844.5,1373.4 L845.5,1375.3 L846.6,1376.9 L847.6,1377.8 L848.7,1378.4 L849.7,1378.4 L850.6,1378.1 L851.6,1377.3 L852.5,1376.2 L854.4,1372.7 L856.3,1367.6 L858.2,1360.7 L860.0,1352.6 L861.8,1342.8 L863.6,1331.3 L866.4,1310.6 L869.6,1283.6 L881.2,1174.3 L887.4,1119.8 L893.4,1073.1 L896.2,1053.8 L898.9,1037.1 L901.2,1024.3 L903.5,1013.0 L905.8,1003.2 L908.0,995.4 L910.2,989.0 L912.4,984.2 L914.6,981.0 L915.7,980.0 L916.7,979.4 L918.2,979.3 L919.7,979.9 L921.3,981.4 L922.9,983.6 L924.6,986.7 L926.3,990.5 L930.1,1001.2 L933.1,1011.4 L936.4,1023.8 L949.2,1076.8 L955.9,1102.6 L959.7,1116.0 L963.5,1128.4 L967.2,1139.6 L970.8,1149.5 L974.2,1157.9 L977.6,1165.4 L980.9,1171.8 L984.2,1177.2 L987.4,1181.6 L990.6,1184.9 L993.8,1187.4 L996.9,1188.7 L998.6,1189.1 L1000.2,1189.1 L1001.9,1188.9 L1003.6,1188.4 L1007.2,1186.5 L1011.0,1183.5 L1014.1,1180.5 L1017.6,1176.5 L1029.9,1161.0 L1035.7,1154.2 L1041.9,1147.8 L1047.9,1142.6 L1052.9,1139.1 L1057.7,1136.6 L1062.4,1134.9 L1067.2,1134.0 L1070.8,1133.9 L1074.6,1134.1 L1078.6,1134.8 L1082.8,1136.0 L1087.1,1137.5 L1091.8,1139.4 L1109.3,1147.7 L1116.3,1150.6 L1120.1,1151.9 L1123.7,1152.9 L1127.1,1153.4 L1130.4,1153.7 L1134.3,1153.5 L1138.4,1152.8 L1142.6,1151.5 L1147.1,1149.7 L1151.9,1147.3 L1157.2,1144.2 L1174.4,1132.5 L1181.1,1128.5 L1185.0,1126.7 L1188.7,1125.4 L1192.3,1124.5 L1195.8,1124.2 L1198.3,1124.2 L1200.8,1124.5 L1206.2,1125.9 L1210.8,1127.7 L1222.3,1133.1 L1229.8,1136.2 L1238.6,1139.4 L1247.5,1142.0 L1256.4,1144.1 L1265.5,1145.8 L1274.8,1147.0 L1284.4,1147.8 L1294.0,1148.2 L1304.0,1148.2 L1314.4,1147.7 L1325.4,1146.9 L1335.5,1145.8 L1346.5,1144.4 L1379.3,1139.5 L1391.1,1137.8 L1403.1,1136.6 L1414.0,1135.9 L1424.6,1135.9 L1436.1,1136.5 L1447.0,1137.6 L1471.0,1140.4 L1481.1,1141.3" fill="none" stroke="#5f5fff" stroke-width="4.2" stroke-linejoin="round"/>
<path d="M599.6,1476.7 L650.0,1476.7 L706.0,1476.8 L713.9,1476.7 L716.3,1476.4 L718.4,1475.9 L720.6,1475.0 L722.5,1473.9 L724.0,1472.5 L725.4,1470.7 L726.7,1468.4 L727.9,1465.7 L730.3,1458.0 L732.7,1447.3 L735.2,1433.2 L738.0,1414.3 L740.8,1392.2 L743.6,1367.3 L746.5,1338.5 L751.2,1285.8 L764.6,1124.0 L768.8,1078.8 L772.6,1043.1 L774.8,1024.9 L777.0,1008.8 L779.2,994.9 L781.3,983.7 L783.4,974.7 L785.4,968.3 L787.4,964.1 L788.4,962.8 L789.4,962.1 L790.3,961.9 L791.3,962.3 L792.3,963.3 L793.3,964.9 L795.2,969.5 L797.2,976.5 L799.1,985.3 L801.1,996.8 L803.1,1010.6 L805.1,1026.5 L808.8,1061.2 L812.9,1105.7 L817.0,1154.9 L824.4,1248.1 L827.3,1281.9 L830.3,1311.9 L833.3,1336.1 L835.1,1348.0 L837.0,1358.7 L838.9,1367.6 L840.9,1375.4 L843.2,1382.5 L845.6,1388.2 L847.7,1391.6 L848.7,1392.6 L849.7,1393.1 L850.5,1393.1 L851.3,1392.8 L852.1,1392.1 L852.9,1391.0 L854.4,1387.8 L855.9,1382.9 L857.4,1376.3 L859.0,1367.5 L862.5,1343.4 L866.3,1311.6 L872.4,1255.4 L891.7,1070.1 L895.8,1034.7 L899.3,1008.9 L901.2,996.9 L903.0,987.0 L904.8,978.6 L906.7,971.5 L908.6,965.9 L910.6,961.5 L912.6,958.7 L913.6,957.8 L914.7,957.2 L915.7,956.9 L916.8,957.0 L917.9,957.3 L919.1,958.0 L921.5,960.5 L924.1,964.3 L926.4,968.7 L928.7,974.4 L930.9,980.9 L933.3,989.1 L938.1,1008.1 L943.4,1031.9 L948.1,1054.8 L959.1,1110.7 L964.6,1136.8 L969.7,1158.1 L972.2,1167.3 L974.8,1175.9 L977.4,1183.6 L980.0,1190.3 L982.6,1196.2 L985.3,1201.2 L987.9,1205.2 L990.6,1208.3 L993.3,1210.5 L996.0,1211.7 L998.1,1212.2 L1000.2,1212.1 L1002.3,1211.6 L1004.5,1210.6 L1006.7,1209.1 L1009.0,1207.1 L1011.3,1204.7 L1013.7,1201.7 L1018.6,1194.5 L1023.8,1185.3 L1029.0,1174.9 L1043.3,1144.8 L1047.7,1136.5 L1051.6,1130.0 L1054.1,1126.3 L1056.6,1123.0 L1059.1,1120.2 L1061.5,1117.9 L1063.9,1116.0 L1066.3,1114.6 L1068.7,1113.6 L1071.0,1113.0 L1074.4,1112.9 L1077.8,1113.8 L1081.3,1115.6 L1085.1,1118.4 L1088.2,1121.3 L1091.7,1125.0 L1103.5,1138.9 L1108.7,1144.7 L1113.8,1149.7 L1118.6,1153.6 L1122.9,1156.5 L1127.2,1158.6 L1131.4,1160.0 L1135.5,1160.6 L1138.7,1160.5 L1141.9,1160.0 L1145.0,1159.0 L1148.2,1157.5 L1151.2,1155.7 L1154.6,1153.3 L1174.3,1137.6 L1179.4,1133.9 L1183.9,1131.0 L1188.9,1128.2 L1193.6,1126.1 L1198.1,1124.8 L1202.4,1124.1 L1206.6,1124.1 L1211.0,1124.7 L1215.6,1125.9 L1220.4,1127.6 L1225.3,1129.7 L1230.7,1132.6 L1252.1,1145.3 L1261.2,1150.1 L1266.2,1152.2 L1270.8,1153.7 L1275.2,1154.7 L1279.5,1155.2 L1283.1,1155.1 L1286.8,1154.7 L1290.7,1153.9 L1294.9,1152.7 L1299.1,1151.1 L1303.7,1149.2 L1322.1,1140.3 L1330.0,1136.9 L1334.6,1135.3 L1339.1,1134.1 L1343.5,1133.1 L1347.8,1132.6 L1351.6,1132.4 L1355.4,1132.4 L1359.1,1132.7 L1362.8,1133.4 L1369.0,1135.1 L1383.2,1140.5 L1390.8,1142.8 L1395.6,1143.9 L1400.5,1144.7 L1405.4,1145.2 L1410.5,1145.5 L1419.2,1145.4 L1428.2,1144.5 L1438.3,1142.9 L1457.0,1138.6 L1465.0,1137.1 L1473.5,1136.2 L1477.4,1136.1 L1481.1,1136.3" fill="none" stroke="#0000ff" stroke-width="4.7" stroke-linecap="round" stroke-dasharray="5.6 13" stroke-dashoffset="-10.69"/>
<rect x="599.6" y="804.9" width="881.5" height="672.7" fill="none" stroke="#000" stroke-width="2.3"/>
<line x1="600.8000000000001" y1="1477.5" x2="1479.8999999999999" y2="1477.5" stroke="#ff8800" stroke-width="2.4"/>
<path d="M662.6,1477.6v-6.5M662.6,804.9v6.5M725.5,1477.6v-12.5M725.5,804.9v12.5M788.5,1477.6v-6.5M788.5,804.9v6.5M851.5,1477.6v-12.5M851.5,804.9v12.5M914.4,1477.6v-6.5M914.4,804.9v6.5M977.4,1477.6v-12.5M977.4,804.9v12.5M1040.3,1477.6v-6.5M1040.3,804.9v6.5M1103.3,1477.6v-12.5M1103.3,804.9v12.5M1166.3,1477.6v-6.5M1166.3,804.9v6.5M1229.2,1477.6v-12.5M1229.2,804.9v12.5M1292.2,1477.6v-6.5M1292.2,804.9v6.5M1355.2,1477.6v-12.5M1355.2,804.9v12.5M1418.1,1477.6v-6.5M1418.1,804.9v6.5M599.6,1444.0h6.5M1481.1,1444.0h-6.5M599.6,1410.3h12.5M1481.1,1410.3h-12.5M599.6,1376.7h6.5M1481.1,1376.7h-6.5M599.6,1343.1h12.5M1481.1,1343.1h-12.5M599.6,1309.4h6.5M1481.1,1309.4h-6.5M599.6,1275.8h12.5M1481.1,1275.8h-12.5M599.6,1242.2h6.5M1481.1,1242.2h-6.5M599.6,1208.5h12.5M1481.1,1208.5h-12.5M599.6,1174.9h6.5M1481.1,1174.9h-6.5M599.6,1141.2h12.5M1481.1,1141.2h-12.5M599.6,1107.6h6.5M1481.1,1107.6h-6.5M599.6,1074.0h12.5M1481.1,1074.0h-12.5M599.6,1040.3h6.5M1481.1,1040.3h-6.5M599.6,1006.7h12.5M1481.1,1006.7h-12.5M599.6,973.1h6.5M1481.1,973.1h-6.5M599.6,939.4h12.5M1481.1,939.4h-12.5M599.6,905.8h6.5M1481.1,905.8h-6.5M599.6,872.2h12.5M1481.1,872.2h-12.5M599.6,838.5h6.5M1481.1,838.5h-6.5" stroke="#000" stroke-width="2.1" fill="none"/>
<text x="585.7" y="1485.6" text-anchor="end" font-family="Liberation Sans, Arial, sans-serif" font-size="27">0.0</text>
<text x="585.7" y="1418.3" text-anchor="end" font-family="Liberation Sans, Arial, sans-serif" font-size="27">0.2</text>
<text x="585.7" y="1351.1" text-anchor="end" font-family="Liberation Sans, Arial, sans-serif" font-size="27">0.4</text>
<text x="585.7" y="1283.8" text-anchor="end" font-family="Liberation Sans, Arial, sans-serif" font-size="27">0.6</text>
<text x="585.7" y="1216.5" text-anchor="end" font-family="Liberation Sans, Arial, sans-serif" font-size="27">0.8</text>
<text x="585.7" y="1149.2" text-anchor="end" font-family="Liberation Sans, Arial, sans-serif" font-size="27">1.0</text>
<text x="585.7" y="1082.0" text-anchor="end" font-family="Liberation Sans, Arial, sans-serif" font-size="27">1.2</text>
<text x="585.7" y="1014.7" text-anchor="end" font-family="Liberation Sans, Arial, sans-serif" font-size="27">1.4</text>
<text x="585.7" y="947.4" text-anchor="end" font-family="Liberation Sans, Arial, sans-serif" font-size="27">1.6</text>
<text x="585.7" y="880.2" text-anchor="end" font-family="Liberation Sans, Arial, sans-serif" font-size="27">1.8</text>
<text x="585.7" y="812.9" text-anchor="end" font-family="Liberation Sans, Arial, sans-serif" font-size="27">2.0</text>
<text x="599.6" y="1511.0" text-anchor="middle" font-family="Liberation Sans, Arial, sans-serif" font-size="27">0</text>
<text x="725.5" y="1511.0" text-anchor="middle" font-family="Liberation Sans, Arial, sans-serif" font-size="27">1</text>
<text x="851.5" y="1511.0" text-anchor="middle" font-family="Liberation Sans, Arial, sans-serif" font-size="27">2</text>
<text x="977.4" y="1511.0" text-anchor="middle" font-family="Liberation Sans, Arial, sans-serif" font-size="27">3</text>
<text x="1103.3" y="1511.0" text-anchor="middle" font-family="Liberation Sans, Arial, sans-serif" font-size="27">4</text>
<text x="1229.2" y="1511.0" text-anchor="middle" font-family="Liberation Sans, Arial, sans-serif" font-size="27">5</text>
<text x="1355.2" y="1511.0" text-anchor="middle" font-family="Liberation Sans, Arial, sans-serif" font-size="27">6</text>
<text x="1481.1" y="1511.0" text-anchor="middle" font-family="Liberation Sans, Arial, sans-serif" font-size="27">7</text>
<text x="1040.6" y="1551.7" text-anchor="middle" font-family="Liberation Sans, Arial, sans-serif" font-size="32">r (Å)</text>
<text transform="translate(530.3,1131.0) rotate(-90)" text-anchor="middle" font-family="Liberation Sans, Arial, sans-serif" font-size="32">PDF</text>
<text x="614.0" y="856.9" font-family="Liberation Sans, Arial, sans-serif" font-size="42.5">BN</text>
<text x="821.6" y="860.0" font-family="Liberation Sans, Arial, sans-serif" font-size="38.7">Total 3.48 g cm<tspan dx="-1.6" dy="-19.2" font-size="23" letter-spacing="0.8">-3</tspan></text>
<text x="495.0" y="851.4" font-family="Liberation Sans, Arial, sans-serif" font-weight="bold" font-size="49.5">(c)</text>
<rect x="1147.9" y="804.6" width="332.8" height="189.4" fill="#ffffff" stroke="#4848f0" stroke-width="1.2"/>
<rect x="1152.4" y="811.5" width="71.9" height="34.7" fill="#dfdffe" stroke="#6060ff" stroke-width="1.2"/>
<line x1="1153.85" y1="874.3" x2="1216.1" y2="874.3" stroke="#0000ff" stroke-width="4.7" stroke-linecap="round" stroke-dasharray="5.6 13"/>
<rect x="1152.4" y="904.3" width="71.9" height="35.0" fill="#008000"/>
<rect x="1152.4" y="951.8" width="71.9" height="35.5" fill="#ff8800"/>
<text x="1234.8" y="839.7" font-family="Liberation Sans, Arial, sans-serif" font-size="32"><tspan font-family="Liberation Serif, Times New Roman, serif" font-style="italic" font-size="40">a</tspan>-BN U-Q</text>
<text x="1234.8" y="884.3" font-family="Liberation Sans, Arial, sans-serif" font-size="32"><tspan font-family="Liberation Serif, Times New Roman, serif" font-style="italic" font-size="40">a</tspan>-BN M-Q</text>
<text x="1234.8" y="931.9" font-family="Liberation Sans, Arial, sans-serif" font-size="32"><tspan font-family="Liberation Serif, Times New Roman, serif" font-style="italic" font-size="40">c</tspan>-BN 3.48 g cm<tspan dx="-1.0" dy="-15.7" font-size="17.5" letter-spacing="1">-3</tspan></text>
<text x="1234.8" y="980.2" font-family="Liberation Sans, Arial, sans-serif" font-size="32"><tspan font-family="Liberation Serif, Times New Roman, serif" font-style="italic" font-size="40">h</tspan>-BN 2.28 g cm<tspan dx="-1.0" dy="-15.7" font-size="17.5" letter-spacing="1">-3</tspan></text>
</svg>
</body></html>
